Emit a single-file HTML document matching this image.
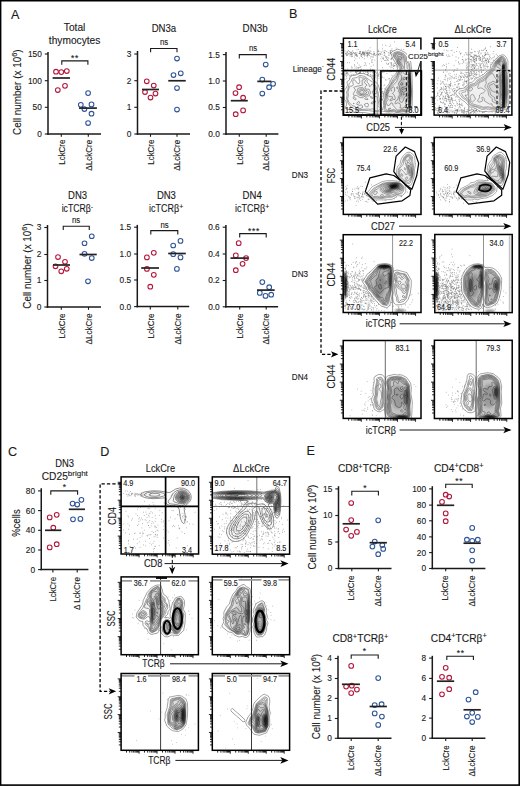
<!DOCTYPE html>
<html><head><meta charset="utf-8"><style>
html,body{margin:0;padding:0;background:#fff;}
svg{display:block;}
text{font-family:"Liberation Sans", sans-serif;stroke:#1a1a1a;stroke-width:0.12px;}
</style></head><body>
<svg width="520" height="786" viewBox="0 0 520 786">
<rect width="520" height="786" fill="#fff"/>
<line x1="48.00" y1="52.00" x2="48.00" y2="134.75" stroke="#1a1a1a" stroke-width="1.5"/>
<line x1="47.25" y1="134.00" x2="101.00" y2="134.00" stroke="#1a1a1a" stroke-width="1.5"/>
<line x1="44.80" y1="134.00" x2="48.00" y2="134.00" stroke="#1a1a1a" stroke-width="1.1"/>
<text x="41.80" y="136.91" font-size="8.3" text-anchor="end" fill="#1a1a1a">0</text>
<line x1="44.80" y1="107.30" x2="48.00" y2="107.30" stroke="#1a1a1a" stroke-width="1.1"/>
<text x="41.80" y="110.20" font-size="8.3" text-anchor="end" fill="#1a1a1a">50</text>
<line x1="44.80" y1="80.70" x2="48.00" y2="80.70" stroke="#1a1a1a" stroke-width="1.1"/>
<text x="41.80" y="83.61" font-size="8.3" text-anchor="end" fill="#1a1a1a">100</text>
<line x1="44.80" y1="54.00" x2="48.00" y2="54.00" stroke="#1a1a1a" stroke-width="1.1"/>
<text x="41.80" y="56.91" font-size="8.3" text-anchor="end" fill="#1a1a1a">150</text>
<text x="74.60" y="31.17" font-size="10.2" text-anchor="middle" fill="#1a1a1a">Total</text>
<text x="74.60" y="44.17" font-size="10.2" text-anchor="middle" fill="#1a1a1a">thymocytes</text>
<path d="M61.80,64.70V60.90H87.90V64.70" fill="none" stroke="#1a1a1a" stroke-width="1.1"/>
<text x="74.95" y="61.26" font-size="8.5" text-anchor="middle" fill="#1a1a1a" letter-spacing="0.7">**</text>
<circle cx="56.00" cy="71.70" r="2.35" fill="none" stroke="#b5173b" stroke-width="1.05"/>
<circle cx="61.30" cy="72.10" r="2.35" fill="none" stroke="#b5173b" stroke-width="1.05"/>
<circle cx="66.80" cy="71.00" r="2.35" fill="none" stroke="#b5173b" stroke-width="1.05"/>
<circle cx="65.00" cy="85.80" r="2.35" fill="none" stroke="#b5173b" stroke-width="1.05"/>
<circle cx="57.80" cy="90.00" r="2.35" fill="none" stroke="#b5173b" stroke-width="1.05"/>
<circle cx="88.10" cy="93.10" r="2.35" fill="none" stroke="#2f5597" stroke-width="1.05"/>
<circle cx="80.80" cy="104.80" r="2.35" fill="none" stroke="#2f5597" stroke-width="1.05"/>
<circle cx="91.50" cy="104.40" r="2.35" fill="none" stroke="#2f5597" stroke-width="1.05"/>
<circle cx="84.40" cy="109.00" r="2.35" fill="none" stroke="#2f5597" stroke-width="1.05"/>
<circle cx="91.50" cy="113.70" r="2.35" fill="none" stroke="#2f5597" stroke-width="1.05"/>
<circle cx="88.10" cy="123.00" r="2.35" fill="none" stroke="#2f5597" stroke-width="1.05"/>
<line x1="52.60" y1="78.00" x2="70.00" y2="78.00" stroke="#222" stroke-width="1.7"/>
<line x1="79.00" y1="108.10" x2="96.90" y2="108.10" stroke="#222" stroke-width="1.7"/>
<line x1="61.30" y1="134.00" x2="61.30" y2="136.80" stroke="#1a1a1a" stroke-width="1.1"/>
<text transform="translate(64.50,139.70) rotate(-90)" font-size="8.8" text-anchor="end" fill="#1a1a1a" textLength="25" lengthAdjust="spacingAndGlyphs">LckCre</text>
<line x1="88.30" y1="134.00" x2="88.30" y2="136.80" stroke="#1a1a1a" stroke-width="1.1"/>
<text transform="translate(91.50,139.70) rotate(-90)" font-size="8.8" text-anchor="end" fill="#1a1a1a" textLength="31" lengthAdjust="spacingAndGlyphs">ΔLckCre</text>
<line x1="137.50" y1="51.00" x2="137.50" y2="134.75" stroke="#1a1a1a" stroke-width="1.5"/>
<line x1="136.75" y1="134.00" x2="190.00" y2="134.00" stroke="#1a1a1a" stroke-width="1.5"/>
<line x1="134.30" y1="134.00" x2="137.50" y2="134.00" stroke="#1a1a1a" stroke-width="1.1"/>
<text x="131.30" y="136.91" font-size="8.3" text-anchor="end" fill="#1a1a1a">0</text>
<line x1="134.30" y1="107.30" x2="137.50" y2="107.30" stroke="#1a1a1a" stroke-width="1.1"/>
<text x="131.30" y="110.20" font-size="8.3" text-anchor="end" fill="#1a1a1a">1</text>
<line x1="134.30" y1="80.70" x2="137.50" y2="80.70" stroke="#1a1a1a" stroke-width="1.1"/>
<text x="131.30" y="83.61" font-size="8.3" text-anchor="end" fill="#1a1a1a">2</text>
<line x1="134.30" y1="54.00" x2="137.50" y2="54.00" stroke="#1a1a1a" stroke-width="1.1"/>
<text x="131.30" y="56.91" font-size="8.3" text-anchor="end" fill="#1a1a1a">3</text>
<text x="163.90" y="31.57" font-size="10.2" text-anchor="middle" fill="#1a1a1a" textLength="24.5" lengthAdjust="spacingAndGlyphs">DN3a</text>
<path d="M150.60,52.30V48.50H177.00V52.30" fill="none" stroke="#1a1a1a" stroke-width="1.1"/>
<text x="164.00" y="45.21" font-size="8.5" text-anchor="middle" fill="#1a1a1a" textLength="8.2" lengthAdjust="spacingAndGlyphs">ns</text>
<circle cx="146.75" cy="81.25" r="2.35" fill="none" stroke="#b5173b" stroke-width="1.05"/>
<circle cx="153.75" cy="85.50" r="2.35" fill="none" stroke="#b5173b" stroke-width="1.05"/>
<circle cx="145.00" cy="92.00" r="2.35" fill="none" stroke="#b5173b" stroke-width="1.05"/>
<circle cx="155.50" cy="93.50" r="2.35" fill="none" stroke="#b5173b" stroke-width="1.05"/>
<circle cx="150.50" cy="97.50" r="2.35" fill="none" stroke="#b5173b" stroke-width="1.05"/>
<circle cx="177.00" cy="58.50" r="2.35" fill="none" stroke="#2f5597" stroke-width="1.05"/>
<circle cx="173.50" cy="75.00" r="2.35" fill="none" stroke="#2f5597" stroke-width="1.05"/>
<circle cx="180.75" cy="73.25" r="2.35" fill="none" stroke="#2f5597" stroke-width="1.05"/>
<circle cx="177.00" cy="88.00" r="2.35" fill="none" stroke="#2f5597" stroke-width="1.05"/>
<circle cx="177.00" cy="109.50" r="2.35" fill="none" stroke="#2f5597" stroke-width="1.05"/>
<line x1="142.00" y1="89.50" x2="159.00" y2="89.50" stroke="#222" stroke-width="1.7"/>
<line x1="168.25" y1="80.75" x2="185.75" y2="80.75" stroke="#222" stroke-width="1.7"/>
<line x1="150.50" y1="134.00" x2="150.50" y2="136.80" stroke="#1a1a1a" stroke-width="1.1"/>
<text transform="translate(153.70,139.70) rotate(-90)" font-size="8.8" text-anchor="end" fill="#1a1a1a" textLength="25" lengthAdjust="spacingAndGlyphs">LckCre</text>
<line x1="177.00" y1="134.00" x2="177.00" y2="136.80" stroke="#1a1a1a" stroke-width="1.1"/>
<text transform="translate(180.20,139.70) rotate(-90)" font-size="8.8" text-anchor="end" fill="#1a1a1a" textLength="31" lengthAdjust="spacingAndGlyphs">ΔLckCre</text>
<line x1="226.00" y1="52.00" x2="226.00" y2="134.75" stroke="#1a1a1a" stroke-width="1.5"/>
<line x1="225.25" y1="134.00" x2="278.40" y2="134.00" stroke="#1a1a1a" stroke-width="1.5"/>
<line x1="222.80" y1="134.00" x2="226.00" y2="134.00" stroke="#1a1a1a" stroke-width="1.1"/>
<text x="219.80" y="136.91" font-size="8.3" text-anchor="end" fill="#1a1a1a">0.0</text>
<line x1="222.80" y1="107.50" x2="226.00" y2="107.50" stroke="#1a1a1a" stroke-width="1.1"/>
<text x="219.80" y="110.41" font-size="8.3" text-anchor="end" fill="#1a1a1a">0.5</text>
<line x1="222.80" y1="81.00" x2="226.00" y2="81.00" stroke="#1a1a1a" stroke-width="1.1"/>
<text x="219.80" y="83.91" font-size="8.3" text-anchor="end" fill="#1a1a1a">1.0</text>
<line x1="222.80" y1="54.60" x2="226.00" y2="54.60" stroke="#1a1a1a" stroke-width="1.1"/>
<text x="219.80" y="57.51" font-size="8.3" text-anchor="end" fill="#1a1a1a">1.5</text>
<text x="255.10" y="31.57" font-size="10.2" text-anchor="middle" fill="#1a1a1a" textLength="25" lengthAdjust="spacingAndGlyphs">DN3b</text>
<path d="M239.30,58.40V54.60H266.20V58.40" fill="none" stroke="#1a1a1a" stroke-width="1.1"/>
<text x="253.00" y="51.41" font-size="8.5" text-anchor="middle" fill="#1a1a1a" textLength="8.2" lengthAdjust="spacingAndGlyphs">ns</text>
<circle cx="239.10" cy="87.20" r="2.35" fill="none" stroke="#b5173b" stroke-width="1.05"/>
<circle cx="235.50" cy="93.10" r="2.35" fill="none" stroke="#b5173b" stroke-width="1.05"/>
<circle cx="243.10" cy="97.70" r="2.35" fill="none" stroke="#b5173b" stroke-width="1.05"/>
<circle cx="243.10" cy="110.40" r="2.35" fill="none" stroke="#b5173b" stroke-width="1.05"/>
<circle cx="235.70" cy="114.20" r="2.35" fill="none" stroke="#b5173b" stroke-width="1.05"/>
<circle cx="265.70" cy="64.50" r="2.35" fill="none" stroke="#2f5597" stroke-width="1.05"/>
<circle cx="262.30" cy="79.50" r="2.35" fill="none" stroke="#2f5597" stroke-width="1.05"/>
<circle cx="273.10" cy="83.80" r="2.35" fill="none" stroke="#2f5597" stroke-width="1.05"/>
<circle cx="269.10" cy="87.20" r="2.35" fill="none" stroke="#2f5597" stroke-width="1.05"/>
<circle cx="262.30" cy="93.50" r="2.35" fill="none" stroke="#2f5597" stroke-width="1.05"/>
<line x1="230.80" y1="100.70" x2="247.80" y2="100.70" stroke="#222" stroke-width="1.7"/>
<line x1="257.30" y1="81.40" x2="271.40" y2="81.40" stroke="#222" stroke-width="1.7"/>
<line x1="239.30" y1="134.00" x2="239.30" y2="136.80" stroke="#1a1a1a" stroke-width="1.1"/>
<text transform="translate(242.50,139.70) rotate(-90)" font-size="8.8" text-anchor="end" fill="#1a1a1a" textLength="25" lengthAdjust="spacingAndGlyphs">LckCre</text>
<line x1="266.20" y1="134.00" x2="266.20" y2="136.80" stroke="#1a1a1a" stroke-width="1.1"/>
<text transform="translate(269.40,139.70) rotate(-90)" font-size="8.8" text-anchor="end" fill="#1a1a1a" textLength="31" lengthAdjust="spacingAndGlyphs">ΔLckCre</text>
<line x1="47.50" y1="225.00" x2="47.50" y2="307.75" stroke="#1a1a1a" stroke-width="1.5"/>
<line x1="46.75" y1="307.00" x2="101.00" y2="307.00" stroke="#1a1a1a" stroke-width="1.5"/>
<line x1="44.30" y1="307.00" x2="47.50" y2="307.00" stroke="#1a1a1a" stroke-width="1.1"/>
<text x="41.30" y="309.90" font-size="8.3" text-anchor="end" fill="#1a1a1a">0</text>
<line x1="44.30" y1="280.50" x2="47.50" y2="280.50" stroke="#1a1a1a" stroke-width="1.1"/>
<text x="41.30" y="283.40" font-size="8.3" text-anchor="end" fill="#1a1a1a">1</text>
<line x1="44.30" y1="254.50" x2="47.50" y2="254.50" stroke="#1a1a1a" stroke-width="1.1"/>
<text x="41.30" y="257.40" font-size="8.3" text-anchor="end" fill="#1a1a1a">2</text>
<line x1="44.30" y1="227.50" x2="47.50" y2="227.50" stroke="#1a1a1a" stroke-width="1.1"/>
<text x="41.30" y="230.41" font-size="8.3" text-anchor="end" fill="#1a1a1a">3</text>
<text x="77.60" y="199.07" font-size="10.2" text-anchor="middle" fill="#1a1a1a" textLength="19" lengthAdjust="spacingAndGlyphs">DN3</text>
<text x="77.40" y="212.17" font-size="10.2" text-anchor="middle" fill="#1a1a1a" textLength="31.5" lengthAdjust="spacingAndGlyphs">icTCRβ<tspan font-size="8" dy="-3.5">-</tspan></text>
<path d="M63.25,230.05V226.25H89.25V230.05" fill="none" stroke="#1a1a1a" stroke-width="1.1"/>
<text x="76.00" y="223.21" font-size="8.5" text-anchor="middle" fill="#1a1a1a" textLength="8.2" lengthAdjust="spacingAndGlyphs">ns</text>
<circle cx="58.00" cy="257.00" r="2.35" fill="none" stroke="#b5173b" stroke-width="1.05"/>
<circle cx="65.00" cy="261.75" r="2.35" fill="none" stroke="#b5173b" stroke-width="1.05"/>
<circle cx="55.50" cy="266.25" r="2.35" fill="none" stroke="#b5173b" stroke-width="1.05"/>
<circle cx="61.25" cy="271.25" r="2.35" fill="none" stroke="#b5173b" stroke-width="1.05"/>
<circle cx="66.75" cy="268.75" r="2.35" fill="none" stroke="#b5173b" stroke-width="1.05"/>
<circle cx="91.75" cy="236.25" r="2.35" fill="none" stroke="#2f5597" stroke-width="1.05"/>
<circle cx="84.50" cy="243.25" r="2.35" fill="none" stroke="#2f5597" stroke-width="1.05"/>
<circle cx="84.50" cy="253.75" r="2.35" fill="none" stroke="#2f5597" stroke-width="1.05"/>
<circle cx="91.75" cy="258.00" r="2.35" fill="none" stroke="#2f5597" stroke-width="1.05"/>
<circle cx="88.00" cy="281.25" r="2.35" fill="none" stroke="#2f5597" stroke-width="1.05"/>
<line x1="53.00" y1="265.00" x2="70.00" y2="265.00" stroke="#222" stroke-width="1.7"/>
<line x1="79.50" y1="254.50" x2="96.75" y2="254.50" stroke="#222" stroke-width="1.7"/>
<line x1="61.30" y1="307.00" x2="61.30" y2="309.80" stroke="#1a1a1a" stroke-width="1.1"/>
<text transform="translate(64.50,313.50) rotate(-90)" font-size="8.8" text-anchor="end" fill="#1a1a1a" textLength="25" lengthAdjust="spacingAndGlyphs">LckCre</text>
<line x1="88.50" y1="307.00" x2="88.50" y2="309.80" stroke="#1a1a1a" stroke-width="1.1"/>
<text transform="translate(91.70,313.50) rotate(-90)" font-size="8.8" text-anchor="end" fill="#1a1a1a" textLength="31" lengthAdjust="spacingAndGlyphs">ΔLckCre</text>
<line x1="137.30" y1="224.90" x2="137.30" y2="307.35" stroke="#1a1a1a" stroke-width="1.5"/>
<line x1="136.55" y1="306.60" x2="189.20" y2="306.60" stroke="#1a1a1a" stroke-width="1.5"/>
<line x1="134.10" y1="306.60" x2="137.30" y2="306.60" stroke="#1a1a1a" stroke-width="1.1"/>
<text x="131.10" y="309.50" font-size="8.3" text-anchor="end" fill="#1a1a1a">0.0</text>
<line x1="134.10" y1="280.00" x2="137.30" y2="280.00" stroke="#1a1a1a" stroke-width="1.1"/>
<text x="131.10" y="282.90" font-size="8.3" text-anchor="end" fill="#1a1a1a">0.5</text>
<line x1="134.10" y1="254.00" x2="137.30" y2="254.00" stroke="#1a1a1a" stroke-width="1.1"/>
<text x="131.10" y="256.90" font-size="8.3" text-anchor="end" fill="#1a1a1a">1.0</text>
<line x1="134.10" y1="227.20" x2="137.30" y2="227.20" stroke="#1a1a1a" stroke-width="1.1"/>
<text x="131.10" y="230.10" font-size="8.3" text-anchor="end" fill="#1a1a1a">1.5</text>
<text x="166.40" y="199.07" font-size="10.2" text-anchor="middle" fill="#1a1a1a" textLength="19" lengthAdjust="spacingAndGlyphs">DN3</text>
<text x="166.20" y="212.17" font-size="10.2" text-anchor="middle" fill="#1a1a1a" textLength="34.2" lengthAdjust="spacingAndGlyphs">icTCRβ<tspan font-size="8" dy="-3.5">+</tspan></text>
<path d="M150.80,234.40V230.60H177.80V234.40" fill="none" stroke="#1a1a1a" stroke-width="1.1"/>
<text x="164.50" y="228.21" font-size="8.5" text-anchor="middle" fill="#1a1a1a" textLength="8.2" lengthAdjust="spacingAndGlyphs">ns</text>
<circle cx="153.80" cy="252.80" r="2.35" fill="none" stroke="#b5173b" stroke-width="1.05"/>
<circle cx="146.90" cy="257.40" r="2.35" fill="none" stroke="#b5173b" stroke-width="1.05"/>
<circle cx="146.90" cy="268.90" r="2.35" fill="none" stroke="#b5173b" stroke-width="1.05"/>
<circle cx="153.80" cy="274.80" r="2.35" fill="none" stroke="#b5173b" stroke-width="1.05"/>
<circle cx="150.30" cy="286.70" r="2.35" fill="none" stroke="#b5173b" stroke-width="1.05"/>
<circle cx="180.50" cy="240.90" r="2.35" fill="none" stroke="#2f5597" stroke-width="1.05"/>
<circle cx="173.20" cy="245.50" r="2.35" fill="none" stroke="#2f5597" stroke-width="1.05"/>
<circle cx="173.20" cy="254.20" r="2.35" fill="none" stroke="#2f5597" stroke-width="1.05"/>
<circle cx="180.50" cy="257.40" r="2.35" fill="none" stroke="#2f5597" stroke-width="1.05"/>
<circle cx="176.90" cy="268.90" r="2.35" fill="none" stroke="#2f5597" stroke-width="1.05"/>
<line x1="141.20" y1="268.00" x2="159.00" y2="268.00" stroke="#222" stroke-width="1.7"/>
<line x1="168.20" y1="253.50" x2="185.80" y2="253.50" stroke="#222" stroke-width="1.7"/>
<line x1="150.30" y1="306.60" x2="150.30" y2="309.40" stroke="#1a1a1a" stroke-width="1.1"/>
<text transform="translate(153.50,313.50) rotate(-90)" font-size="8.8" text-anchor="end" fill="#1a1a1a" textLength="25" lengthAdjust="spacingAndGlyphs">LckCre</text>
<line x1="177.80" y1="306.60" x2="177.80" y2="309.40" stroke="#1a1a1a" stroke-width="1.1"/>
<text transform="translate(181.00,313.50) rotate(-90)" font-size="8.8" text-anchor="end" fill="#1a1a1a" textLength="31" lengthAdjust="spacingAndGlyphs">ΔLckCre</text>
<line x1="225.90" y1="224.90" x2="225.90" y2="307.55" stroke="#1a1a1a" stroke-width="1.5"/>
<line x1="225.15" y1="306.80" x2="278.10" y2="306.80" stroke="#1a1a1a" stroke-width="1.5"/>
<line x1="222.70" y1="306.80" x2="225.90" y2="306.80" stroke="#1a1a1a" stroke-width="1.1"/>
<text x="219.70" y="309.70" font-size="8.3" text-anchor="end" fill="#1a1a1a">0.0</text>
<line x1="222.70" y1="280.50" x2="225.90" y2="280.50" stroke="#1a1a1a" stroke-width="1.1"/>
<text x="219.70" y="283.40" font-size="8.3" text-anchor="end" fill="#1a1a1a">0.2</text>
<line x1="222.70" y1="254.00" x2="225.90" y2="254.00" stroke="#1a1a1a" stroke-width="1.1"/>
<text x="219.70" y="256.90" font-size="8.3" text-anchor="end" fill="#1a1a1a">0.4</text>
<line x1="222.70" y1="227.20" x2="225.90" y2="227.20" stroke="#1a1a1a" stroke-width="1.1"/>
<text x="219.70" y="230.10" font-size="8.3" text-anchor="end" fill="#1a1a1a">0.6</text>
<text x="252.20" y="199.07" font-size="10.2" text-anchor="middle" fill="#1a1a1a" textLength="19.2" lengthAdjust="spacingAndGlyphs">DN4</text>
<text x="252.20" y="212.17" font-size="10.2" text-anchor="middle" fill="#1a1a1a" textLength="34.2" lengthAdjust="spacingAndGlyphs">icTCRβ<tspan font-size="8" dy="-3.5">+</tspan></text>
<path d="M239.70,237.40V233.60H266.20V237.40" fill="none" stroke="#1a1a1a" stroke-width="1.1"/>
<text x="253.95" y="233.96" font-size="8.5" text-anchor="middle" fill="#1a1a1a" letter-spacing="0.7">***</text>
<circle cx="238.70" cy="243.20" r="2.35" fill="none" stroke="#b5173b" stroke-width="1.05"/>
<circle cx="235.80" cy="255.40" r="2.35" fill="none" stroke="#b5173b" stroke-width="1.05"/>
<circle cx="246.10" cy="258.10" r="2.35" fill="none" stroke="#b5173b" stroke-width="1.05"/>
<circle cx="242.60" cy="263.80" r="2.35" fill="none" stroke="#b5173b" stroke-width="1.05"/>
<circle cx="235.80" cy="270.20" r="2.35" fill="none" stroke="#b5173b" stroke-width="1.05"/>
<circle cx="262.30" cy="282.10" r="2.35" fill="none" stroke="#2f5597" stroke-width="1.05"/>
<circle cx="269.20" cy="287.20" r="2.35" fill="none" stroke="#2f5597" stroke-width="1.05"/>
<circle cx="259.80" cy="292.90" r="2.35" fill="none" stroke="#2f5597" stroke-width="1.05"/>
<circle cx="265.50" cy="295.90" r="2.35" fill="none" stroke="#2f5597" stroke-width="1.05"/>
<circle cx="271.20" cy="294.70" r="2.35" fill="none" stroke="#2f5597" stroke-width="1.05"/>
<line x1="230.50" y1="258.10" x2="248.40" y2="258.10" stroke="#222" stroke-width="1.7"/>
<line x1="257.00" y1="290.10" x2="274.70" y2="290.10" stroke="#222" stroke-width="1.7"/>
<line x1="239.70" y1="306.80" x2="239.70" y2="309.60" stroke="#1a1a1a" stroke-width="1.1"/>
<text transform="translate(242.90,313.50) rotate(-90)" font-size="8.8" text-anchor="end" fill="#1a1a1a" textLength="25" lengthAdjust="spacingAndGlyphs">LckCre</text>
<line x1="266.20" y1="306.80" x2="266.20" y2="309.60" stroke="#1a1a1a" stroke-width="1.1"/>
<text transform="translate(269.40,313.50) rotate(-90)" font-size="8.8" text-anchor="end" fill="#1a1a1a" textLength="31" lengthAdjust="spacingAndGlyphs">ΔLckCre</text>
<line x1="41.25" y1="488.20" x2="41.25" y2="570.35" stroke="#1a1a1a" stroke-width="1.5"/>
<line x1="40.50" y1="569.60" x2="88.40" y2="569.60" stroke="#1a1a1a" stroke-width="1.5"/>
<line x1="38.05" y1="569.60" x2="41.25" y2="569.60" stroke="#1a1a1a" stroke-width="1.1"/>
<text x="35.05" y="572.50" font-size="8.3" text-anchor="end" fill="#1a1a1a">0</text>
<line x1="38.05" y1="550.00" x2="41.25" y2="550.00" stroke="#1a1a1a" stroke-width="1.1"/>
<text x="35.05" y="552.90" font-size="8.3" text-anchor="end" fill="#1a1a1a">20</text>
<line x1="38.05" y1="530.30" x2="41.25" y2="530.30" stroke="#1a1a1a" stroke-width="1.1"/>
<text x="35.05" y="533.20" font-size="8.3" text-anchor="end" fill="#1a1a1a">40</text>
<line x1="38.05" y1="510.60" x2="41.25" y2="510.60" stroke="#1a1a1a" stroke-width="1.1"/>
<text x="35.05" y="513.50" font-size="8.3" text-anchor="end" fill="#1a1a1a">60</text>
<line x1="38.05" y1="490.90" x2="41.25" y2="490.90" stroke="#1a1a1a" stroke-width="1.1"/>
<text x="35.05" y="493.80" font-size="8.3" text-anchor="end" fill="#1a1a1a">80</text>
<text x="64.70" y="467.37" font-size="10.2" text-anchor="middle" fill="#1a1a1a" textLength="18.8" lengthAdjust="spacingAndGlyphs">DN3</text>
<text x="64.80" y="479.87" font-size="10.2" text-anchor="middle" fill="#1a1a1a">CD25<tspan font-size="8" dy="-3.8">bright</tspan></text>
<path d="M50.80,494.70V490.90H77.60V494.70" fill="none" stroke="#1a1a1a" stroke-width="1.1"/>
<text x="64.75" y="490.26" font-size="8.5" text-anchor="middle" fill="#1a1a1a" letter-spacing="0.7">*</text>
<circle cx="56.70" cy="514.80" r="2.35" fill="none" stroke="#b5173b" stroke-width="1.05"/>
<circle cx="49.70" cy="517.40" r="2.35" fill="none" stroke="#b5173b" stroke-width="1.05"/>
<circle cx="53.30" cy="527.70" r="2.35" fill="none" stroke="#b5173b" stroke-width="1.05"/>
<circle cx="56.70" cy="544.20" r="2.35" fill="none" stroke="#b5173b" stroke-width="1.05"/>
<circle cx="49.70" cy="547.40" r="2.35" fill="none" stroke="#b5173b" stroke-width="1.05"/>
<circle cx="81.40" cy="499.80" r="2.35" fill="none" stroke="#2f5597" stroke-width="1.05"/>
<circle cx="72.60" cy="503.60" r="2.35" fill="none" stroke="#2f5597" stroke-width="1.05"/>
<circle cx="77.20" cy="504.50" r="2.35" fill="none" stroke="#2f5597" stroke-width="1.05"/>
<circle cx="73.00" cy="519.30" r="2.35" fill="none" stroke="#2f5597" stroke-width="1.05"/>
<circle cx="80.40" cy="518.90" r="2.35" fill="none" stroke="#2f5597" stroke-width="1.05"/>
<line x1="45.00" y1="530.30" x2="61.30" y2="530.30" stroke="#222" stroke-width="1.7"/>
<line x1="68.80" y1="509.30" x2="85.00" y2="509.30" stroke="#222" stroke-width="1.7"/>
<line x1="52.90" y1="569.60" x2="52.90" y2="572.40" stroke="#1a1a1a" stroke-width="1.1"/>
<text transform="translate(56.10,577.00) rotate(-90)" font-size="8.8" text-anchor="end" fill="#1a1a1a" textLength="24.5" lengthAdjust="spacingAndGlyphs">LckCre</text>
<line x1="77.20" y1="569.60" x2="77.20" y2="572.40" stroke="#1a1a1a" stroke-width="1.1"/>
<text transform="translate(80.40,577.00) rotate(-90)" font-size="8.8" text-anchor="end" fill="#1a1a1a" textLength="33" lengthAdjust="spacingAndGlyphs">Δ LckCre</text>
<line x1="338.50" y1="486.20" x2="338.50" y2="569.25" stroke="#1a1a1a" stroke-width="1.5"/>
<line x1="337.75" y1="568.50" x2="391.50" y2="568.50" stroke="#1a1a1a" stroke-width="1.5"/>
<line x1="335.30" y1="568.50" x2="338.50" y2="568.50" stroke="#1a1a1a" stroke-width="1.1"/>
<text x="332.30" y="571.40" font-size="8.3" text-anchor="end" fill="#1a1a1a">0</text>
<line x1="335.30" y1="542.00" x2="338.50" y2="542.00" stroke="#1a1a1a" stroke-width="1.1"/>
<text x="332.30" y="544.90" font-size="8.3" text-anchor="end" fill="#1a1a1a">5</text>
<line x1="335.30" y1="515.50" x2="338.50" y2="515.50" stroke="#1a1a1a" stroke-width="1.1"/>
<text x="332.30" y="518.40" font-size="8.3" text-anchor="end" fill="#1a1a1a">10</text>
<line x1="335.30" y1="488.90" x2="338.50" y2="488.90" stroke="#1a1a1a" stroke-width="1.1"/>
<text x="332.30" y="491.80" font-size="8.3" text-anchor="end" fill="#1a1a1a">15</text>
<text x="365.00" y="472.37" font-size="10.2" text-anchor="middle" fill="#1a1a1a">CD8<tspan font-size="7.5" dy="-3.3">+</tspan><tspan dy="3.3">TCRβ</tspan><tspan font-size="7.5" dy="-3.3">-</tspan></text>
<path d="M351.80,495.40V491.20H378.40V495.40" fill="none" stroke="#1a1a1a" stroke-width="1.1"/>
<text x="365.35" y="491.26" font-size="8.5" text-anchor="middle" fill="#1a1a1a" letter-spacing="0.7">*</text>
<circle cx="351.20" cy="503.00" r="2.35" fill="none" stroke="#b5173b" stroke-width="1.05"/>
<circle cx="351.20" cy="520.10" r="2.35" fill="none" stroke="#b5173b" stroke-width="1.05"/>
<circle cx="346.10" cy="529.50" r="2.35" fill="none" stroke="#b5173b" stroke-width="1.05"/>
<circle cx="356.90" cy="531.90" r="2.35" fill="none" stroke="#b5173b" stroke-width="1.05"/>
<circle cx="351.20" cy="535.80" r="2.35" fill="none" stroke="#b5173b" stroke-width="1.05"/>
<circle cx="378.20" cy="520.30" r="2.35" fill="none" stroke="#2f5597" stroke-width="1.05"/>
<circle cx="374.70" cy="541.50" r="2.35" fill="none" stroke="#2f5597" stroke-width="1.05"/>
<circle cx="382.30" cy="545.00" r="2.35" fill="none" stroke="#2f5597" stroke-width="1.05"/>
<circle cx="372.40" cy="546.60" r="2.35" fill="none" stroke="#2f5597" stroke-width="1.05"/>
<circle cx="383.20" cy="548.90" r="2.35" fill="none" stroke="#2f5597" stroke-width="1.05"/>
<circle cx="378.20" cy="554.20" r="2.35" fill="none" stroke="#2f5597" stroke-width="1.05"/>
<line x1="342.60" y1="523.80" x2="359.90" y2="523.80" stroke="#222" stroke-width="1.7"/>
<line x1="369.60" y1="542.70" x2="386.90" y2="542.70" stroke="#222" stroke-width="1.7"/>
<line x1="351.80" y1="568.50" x2="351.80" y2="571.30" stroke="#1a1a1a" stroke-width="1.1"/>
<text transform="translate(354.30,575.50) rotate(-90)" font-size="8.8" text-anchor="end" fill="#1a1a1a" textLength="25" lengthAdjust="spacingAndGlyphs">LckCre</text>
<line x1="378.40" y1="568.50" x2="378.40" y2="571.30" stroke="#1a1a1a" stroke-width="1.1"/>
<text transform="translate(380.90,575.50) rotate(-90)" font-size="8.8" text-anchor="end" fill="#1a1a1a" textLength="31" lengthAdjust="spacingAndGlyphs">ΔLckCre</text>
<line x1="432.30" y1="486.20" x2="432.30" y2="569.25" stroke="#1a1a1a" stroke-width="1.5"/>
<line x1="431.55" y1="568.50" x2="485.40" y2="568.50" stroke="#1a1a1a" stroke-width="1.5"/>
<line x1="429.10" y1="568.50" x2="432.30" y2="568.50" stroke="#1a1a1a" stroke-width="1.1"/>
<text x="426.10" y="571.40" font-size="8.3" text-anchor="end" fill="#1a1a1a">0</text>
<line x1="429.10" y1="552.60" x2="432.30" y2="552.60" stroke="#1a1a1a" stroke-width="1.1"/>
<text x="426.10" y="555.50" font-size="8.3" text-anchor="end" fill="#1a1a1a">20</text>
<line x1="429.10" y1="536.90" x2="432.30" y2="536.90" stroke="#1a1a1a" stroke-width="1.1"/>
<text x="426.10" y="539.80" font-size="8.3" text-anchor="end" fill="#1a1a1a">40</text>
<line x1="429.10" y1="520.80" x2="432.30" y2="520.80" stroke="#1a1a1a" stroke-width="1.1"/>
<text x="426.10" y="523.70" font-size="8.3" text-anchor="end" fill="#1a1a1a">60</text>
<line x1="429.10" y1="505.10" x2="432.30" y2="505.10" stroke="#1a1a1a" stroke-width="1.1"/>
<text x="426.10" y="508.00" font-size="8.3" text-anchor="end" fill="#1a1a1a">80</text>
<line x1="429.10" y1="488.90" x2="432.30" y2="488.90" stroke="#1a1a1a" stroke-width="1.1"/>
<text x="426.10" y="491.80" font-size="8.3" text-anchor="end" fill="#1a1a1a">100</text>
<text x="458.80" y="471.77" font-size="10.2" text-anchor="middle" fill="#1a1a1a">CD4<tspan font-size="7.5" dy="-3.3">+</tspan><tspan dy="3.3">CD8</tspan><tspan font-size="7.5" dy="-3.3">+</tspan></text>
<path d="M445.70,488.10V484.30H472.20V488.10" fill="none" stroke="#1a1a1a" stroke-width="1.1"/>
<text x="459.15" y="484.36" font-size="8.5" text-anchor="middle" fill="#1a1a1a" letter-spacing="0.7">**</text>
<circle cx="445.70" cy="494.70" r="2.35" fill="none" stroke="#b5173b" stroke-width="1.05"/>
<circle cx="449.20" cy="496.50" r="2.35" fill="none" stroke="#b5173b" stroke-width="1.05"/>
<circle cx="442.00" cy="501.90" r="2.35" fill="none" stroke="#b5173b" stroke-width="1.05"/>
<circle cx="445.70" cy="513.40" r="2.35" fill="none" stroke="#b5173b" stroke-width="1.05"/>
<circle cx="445.70" cy="521.20" r="2.35" fill="none" stroke="#b5173b" stroke-width="1.05"/>
<circle cx="472.20" cy="527.90" r="2.35" fill="none" stroke="#2f5597" stroke-width="1.05"/>
<circle cx="466.90" cy="539.70" r="2.35" fill="none" stroke="#2f5597" stroke-width="1.05"/>
<circle cx="472.20" cy="540.90" r="2.35" fill="none" stroke="#2f5597" stroke-width="1.05"/>
<circle cx="477.80" cy="539.70" r="2.35" fill="none" stroke="#2f5597" stroke-width="1.05"/>
<circle cx="472.20" cy="550.30" r="2.35" fill="none" stroke="#2f5597" stroke-width="1.05"/>
<circle cx="472.20" cy="560.50" r="2.35" fill="none" stroke="#2f5597" stroke-width="1.05"/>
<line x1="436.90" y1="505.30" x2="454.20" y2="505.30" stroke="#222" stroke-width="1.7"/>
<line x1="463.50" y1="543.20" x2="480.80" y2="543.20" stroke="#222" stroke-width="1.7"/>
<line x1="445.70" y1="568.50" x2="445.70" y2="571.30" stroke="#1a1a1a" stroke-width="1.1"/>
<text transform="translate(448.20,575.50) rotate(-90)" font-size="8.8" text-anchor="end" fill="#1a1a1a" textLength="25" lengthAdjust="spacingAndGlyphs">LckCre</text>
<line x1="472.20" y1="568.50" x2="472.20" y2="571.30" stroke="#1a1a1a" stroke-width="1.1"/>
<text transform="translate(474.70,575.50) rotate(-90)" font-size="8.8" text-anchor="end" fill="#1a1a1a" textLength="31" lengthAdjust="spacingAndGlyphs">ΔLckCre</text>
<line x1="338.00" y1="655.70" x2="338.00" y2="739.05" stroke="#1a1a1a" stroke-width="1.5"/>
<line x1="337.25" y1="738.30" x2="391.50" y2="738.30" stroke="#1a1a1a" stroke-width="1.5"/>
<line x1="334.80" y1="738.30" x2="338.00" y2="738.30" stroke="#1a1a1a" stroke-width="1.1"/>
<text x="331.80" y="741.20" font-size="8.3" text-anchor="end" fill="#1a1a1a">0</text>
<line x1="334.80" y1="718.50" x2="338.00" y2="718.50" stroke="#1a1a1a" stroke-width="1.1"/>
<text x="331.80" y="721.40" font-size="8.3" text-anchor="end" fill="#1a1a1a">1</text>
<line x1="334.80" y1="698.40" x2="338.00" y2="698.40" stroke="#1a1a1a" stroke-width="1.1"/>
<text x="331.80" y="701.30" font-size="8.3" text-anchor="end" fill="#1a1a1a">2</text>
<line x1="334.80" y1="678.50" x2="338.00" y2="678.50" stroke="#1a1a1a" stroke-width="1.1"/>
<text x="331.80" y="681.40" font-size="8.3" text-anchor="end" fill="#1a1a1a">3</text>
<line x1="334.80" y1="658.50" x2="338.00" y2="658.50" stroke="#1a1a1a" stroke-width="1.1"/>
<text x="331.80" y="661.40" font-size="8.3" text-anchor="end" fill="#1a1a1a">4</text>
<text x="360.40" y="641.97" font-size="10.2" text-anchor="middle" fill="#1a1a1a">CD8<tspan font-size="7.5" dy="-3.3">+</tspan><tspan dy="3.3">TCRβ</tspan><tspan font-size="7.5" dy="-3.3">+</tspan></text>
<path d="M351.20,658.80V655.00H378.20V658.80" fill="none" stroke="#1a1a1a" stroke-width="1.1"/>
<text x="364.65" y="654.36" font-size="8.5" text-anchor="middle" fill="#1a1a1a" letter-spacing="0.7">*</text>
<circle cx="351.20" cy="665.90" r="2.35" fill="none" stroke="#b5173b" stroke-width="1.05"/>
<circle cx="346.10" cy="686.60" r="2.35" fill="none" stroke="#b5173b" stroke-width="1.05"/>
<circle cx="351.80" cy="685.70" r="2.35" fill="none" stroke="#b5173b" stroke-width="1.05"/>
<circle cx="356.90" cy="689.60" r="2.35" fill="none" stroke="#b5173b" stroke-width="1.05"/>
<circle cx="351.20" cy="693.10" r="2.35" fill="none" stroke="#b5173b" stroke-width="1.05"/>
<circle cx="378.20" cy="678.10" r="2.35" fill="none" stroke="#2f5597" stroke-width="1.05"/>
<circle cx="374.70" cy="705.10" r="2.35" fill="none" stroke="#2f5597" stroke-width="1.05"/>
<circle cx="381.60" cy="704.20" r="2.35" fill="none" stroke="#2f5597" stroke-width="1.05"/>
<circle cx="374.70" cy="713.40" r="2.35" fill="none" stroke="#2f5597" stroke-width="1.05"/>
<circle cx="381.90" cy="716.60" r="2.35" fill="none" stroke="#2f5597" stroke-width="1.05"/>
<circle cx="378.20" cy="724.90" r="2.35" fill="none" stroke="#2f5597" stroke-width="1.05"/>
<line x1="341.90" y1="684.30" x2="359.90" y2="684.30" stroke="#222" stroke-width="1.7"/>
<line x1="369.60" y1="706.50" x2="386.90" y2="706.50" stroke="#222" stroke-width="1.7"/>
<line x1="351.20" y1="738.30" x2="351.20" y2="741.10" stroke="#1a1a1a" stroke-width="1.1"/>
<text transform="translate(354.40,745.30) rotate(-90)" font-size="8.8" text-anchor="end" fill="#1a1a1a" textLength="25" lengthAdjust="spacingAndGlyphs">LckCre</text>
<line x1="378.20" y1="738.30" x2="378.20" y2="741.10" stroke="#1a1a1a" stroke-width="1.1"/>
<text transform="translate(381.40,745.30) rotate(-90)" font-size="8.8" text-anchor="end" fill="#1a1a1a" textLength="31" lengthAdjust="spacingAndGlyphs">ΔLckCre</text>
<line x1="432.30" y1="655.80" x2="432.30" y2="738.95" stroke="#1a1a1a" stroke-width="1.5"/>
<line x1="431.55" y1="738.20" x2="485.40" y2="738.20" stroke="#1a1a1a" stroke-width="1.5"/>
<line x1="429.10" y1="738.20" x2="432.30" y2="738.20" stroke="#1a1a1a" stroke-width="1.1"/>
<text x="426.10" y="741.11" font-size="8.3" text-anchor="end" fill="#1a1a1a">0</text>
<line x1="429.10" y1="718.10" x2="432.30" y2="718.10" stroke="#1a1a1a" stroke-width="1.1"/>
<text x="426.10" y="721.00" font-size="8.3" text-anchor="end" fill="#1a1a1a">2</text>
<line x1="429.10" y1="698.50" x2="432.30" y2="698.50" stroke="#1a1a1a" stroke-width="1.1"/>
<text x="426.10" y="701.40" font-size="8.3" text-anchor="end" fill="#1a1a1a">4</text>
<line x1="429.10" y1="678.40" x2="432.30" y2="678.40" stroke="#1a1a1a" stroke-width="1.1"/>
<text x="426.10" y="681.30" font-size="8.3" text-anchor="end" fill="#1a1a1a">6</text>
<line x1="429.10" y1="658.10" x2="432.30" y2="658.10" stroke="#1a1a1a" stroke-width="1.1"/>
<text x="426.10" y="661.00" font-size="8.3" text-anchor="end" fill="#1a1a1a">8</text>
<text x="458.80" y="641.57" font-size="10.2" text-anchor="middle" fill="#1a1a1a">CD4<tspan font-size="7.5" dy="-3.3">+</tspan><tspan dy="3.3">TCRβ</tspan><tspan font-size="7.5" dy="-3.3">+</tspan></text>
<path d="M446.80,660.00V656.20H473.40V660.00" fill="none" stroke="#1a1a1a" stroke-width="1.1"/>
<text x="460.85" y="656.26" font-size="8.5" text-anchor="middle" fill="#1a1a1a" letter-spacing="0.7">**</text>
<circle cx="445.70" cy="667.80" r="2.35" fill="none" stroke="#b5173b" stroke-width="1.05"/>
<circle cx="442.00" cy="676.80" r="2.35" fill="none" stroke="#b5173b" stroke-width="1.05"/>
<circle cx="449.20" cy="677.70" r="2.35" fill="none" stroke="#b5173b" stroke-width="1.05"/>
<circle cx="449.20" cy="689.20" r="2.35" fill="none" stroke="#b5173b" stroke-width="1.05"/>
<circle cx="442.00" cy="694.30" r="2.35" fill="none" stroke="#b5173b" stroke-width="1.05"/>
<circle cx="475.70" cy="692.20" r="2.35" fill="none" stroke="#2f5597" stroke-width="1.05"/>
<circle cx="468.50" cy="699.60" r="2.35" fill="none" stroke="#2f5597" stroke-width="1.05"/>
<circle cx="472.20" cy="712.80" r="2.35" fill="none" stroke="#2f5597" stroke-width="1.05"/>
<circle cx="466.90" cy="716.50" r="2.35" fill="none" stroke="#2f5597" stroke-width="1.05"/>
<circle cx="477.80" cy="716.90" r="2.35" fill="none" stroke="#2f5597" stroke-width="1.05"/>
<circle cx="472.20" cy="722.00" r="2.35" fill="none" stroke="#2f5597" stroke-width="1.05"/>
<line x1="436.90" y1="681.20" x2="454.20" y2="681.20" stroke="#222" stroke-width="1.7"/>
<line x1="463.50" y1="709.80" x2="480.80" y2="709.80" stroke="#222" stroke-width="1.7"/>
<line x1="445.70" y1="738.20" x2="445.70" y2="741.00" stroke="#1a1a1a" stroke-width="1.1"/>
<text transform="translate(448.90,745.40) rotate(-90)" font-size="8.8" text-anchor="end" fill="#1a1a1a" textLength="25" lengthAdjust="spacingAndGlyphs">LckCre</text>
<line x1="472.20" y1="738.20" x2="472.20" y2="741.00" stroke="#1a1a1a" stroke-width="1.1"/>
<text transform="translate(475.40,745.40) rotate(-90)" font-size="8.8" text-anchor="end" fill="#1a1a1a" textLength="31" lengthAdjust="spacingAndGlyphs">ΔLckCre</text>
<text transform="translate(20.77,92.20) rotate(-90)" font-size="10.2" text-anchor="middle" fill="#1a1a1a" textLength="85.5" lengthAdjust="spacingAndGlyphs">Cell number (x 10<tspan font-size="7.6" dy="-3.6">6</tspan><tspan dy="3.6">)</tspan></text>
<text transform="translate(30.67,266.00) rotate(-90)" font-size="10.2" text-anchor="middle" fill="#1a1a1a" textLength="85.5" lengthAdjust="spacingAndGlyphs">Cell number (x 10<tspan font-size="7.6" dy="-3.6">6</tspan><tspan dy="3.6">)</tspan></text>
<text transform="translate(315.57,527.10) rotate(-90)" font-size="10.2" text-anchor="middle" fill="#1a1a1a" textLength="85" lengthAdjust="spacingAndGlyphs">Cell number (x 10<tspan font-size="7.6" dy="-3.6">6</tspan><tspan dy="3.6">)</tspan></text>
<text transform="translate(320.07,696.60) rotate(-90)" font-size="10.2" text-anchor="middle" fill="#1a1a1a" textLength="85.5" lengthAdjust="spacingAndGlyphs">Cell number (x 10<tspan font-size="7.6" dy="-3.6">6</tspan><tspan dy="3.6">)</tspan></text>
<text transform="translate(19.50,523.10) rotate(-90)" font-size="10.2" text-anchor="middle" fill="#1a1a1a" textLength="27.5" lengthAdjust="spacingAndGlyphs">%cells</text>
<text x="15.10" y="18.55" font-size="12.6" text-anchor="middle" fill="#1a1a1a">A</text>
<text x="293.20" y="18.35" font-size="12.6" text-anchor="middle" fill="#1a1a1a">B</text>
<text x="12.50" y="455.85" font-size="12.6" text-anchor="middle" fill="#1a1a1a">C</text>
<text x="104.70" y="455.85" font-size="12.6" text-anchor="middle" fill="#1a1a1a">D</text>
<text x="310.80" y="455.45" font-size="12.6" text-anchor="middle" fill="#1a1a1a">E</text>
<rect x="0.6" y="0.7" width="518.6" height="784.4" fill="none" stroke="#000" stroke-width="1.6"/>
<defs><filter id="bl1" x="-50%" y="-50%" width="200%" height="200%"><feGaussianBlur stdDeviation="0.8"/></filter><filter id="bl2" x="-50%" y="-50%" width="200%" height="200%"><feGaussianBlur stdDeviation="1.5"/></filter></defs>
<text x="382.40" y="32.77" font-size="10.2" text-anchor="middle" fill="#1a1a1a" textLength="29" lengthAdjust="spacingAndGlyphs">LckCre</text>
<text x="472.80" y="32.77" font-size="10.2" text-anchor="middle" fill="#1a1a1a" textLength="36.6" lengthAdjust="spacingAndGlyphs">ΔLckCre</text>
<path d="M354.1,60.5h0.7M357.0,71.4h0.7M362.5,52.9h0.7M351.3,70.8h0.7M381.7,103.6h0.7M388.4,58.1h0.7M382.6,102.0h0.7M388.1,64.0h0.7M347.6,73.1h0.7M383.1,105.5h0.7M386.4,51.5h0.7M389.6,66.4h0.7M386.2,108.3h0.7M349.8,54.6h0.7M383.7,85.6h0.7M369.8,47.8h0.7M389.3,108.9h0.7M382.0,45.1h0.7M387.0,87.7h0.7M344.5,75.1h0.7M378.3,73.9h0.7M385.5,111.8h0.7M351.7,56.4h0.7M401.0,49.2h0.7M387.4,59.3h0.7M373.3,54.9h0.7M387.5,59.8h0.7M370.6,56.4h0.7M358.6,75.6h0.7M393.2,78.5h0.7M382.5,91.3h0.7M389.9,97.2h0.7M380.2,95.5h0.7M386.6,73.4h0.7M362.0,74.3h0.7M377.8,54.5h0.7M349.4,78.5h0.7M356.6,52.7h0.7M384.4,52.4h0.7M409.5,103.5h0.7M344.8,70.0h0.7M371.1,62.1h0.7M361.5,74.4h0.7M371.3,102.3h0.7M380.3,89.3h0.7M356.3,55.0h0.7M358.0,67.7h0.7M382.0,67.7h0.7M386.1,58.8h0.7M398.7,64.2h0.7M402.9,56.3h0.7M370.4,58.1h0.7M355.8,53.8h0.7M385.3,60.3h0.7M394.7,87.0h0.7M351.6,55.3h0.7M380.5,58.9h0.7M362.1,75.9h0.7M386.6,97.3h0.7M367.2,53.5h0.7M374.1,100.1h0.7M381.6,92.8h0.7M358.3,73.4h0.7M357.5,67.6h0.7M346.8,55.5h0.7M378.7,101.4h0.7M385.6,80.2h0.7M369.6,70.6h0.7M359.0,72.3h0.7M362.7,71.0h0.7M389.5,71.8h0.7M361.7,75.5h0.7M362.2,57.6h0.7M385.4,106.0h0.7M344.7,79.3h0.7M390.3,95.4h0.7M350.5,75.7h0.7M385.5,112.3h0.7M360.3,55.0h0.7M373.6,109.4h0.7M363.0,72.9h0.7M396.4,92.5h0.7M358.2,77.7h0.7M392.9,65.2h0.7M393.9,101.4h0.7M391.6,48.8h0.7M383.7,55.7h0.7M373.9,111.0h0.7M371.6,88.1h0.7M345.0,70.0h0.7M351.6,68.9h0.7M387.1,102.2h0.7M379.9,74.1h0.7M386.6,101.6h0.7M363.9,58.7h0.7M381.1,52.2h0.7M358.6,82.7h0.7M351.8,67.4h0.7M351.1,77.3h0.7M379.3,72.1h0.7M396.7,98.5h0.7M401.6,58.7h0.7M390.8,63.0h0.7M383.5,108.5h0.7M355.6,71.3h0.7M354.8,74.9h0.7M375.2,72.0h0.7M369.7,84.3h0.7M384.5,53.8h0.7M366.4,53.8h0.7M367.3,54.0h0.7M351.7,79.2h0.7M384.3,88.8h0.7M371.2,60.1h0.7M366.4,55.9h0.7M389.5,46.5h0.7M370.3,74.5h0.7M356.3,72.6h0.7M349.6,56.0h0.7M353.6,70.0h0.7M393.7,100.5h0.7M378.6,78.3h0.7M370.3,70.1h0.7M361.9,75.6h0.7M351.4,56.2h0.7M397.1,70.5h0.7M372.8,73.0h0.7M368.2,54.5h0.7M358.2,77.1h0.7M390.8,58.5h0.7M373.5,70.8h0.7M361.6,54.3h0.7M360.9,54.4h0.7M352.0,70.8h0.7M351.2,52.7h0.7M359.4,53.4h0.7M384.3,55.2h0.7M375.2,77.0h0.7M359.6,73.5h0.7M369.5,110.0h0.7M365.2,104.5h0.7M403.9,73.5h0.7M360.2,67.2h0.7M389.9,51.6h0.7M353.1,103.7h0.7M346.3,55.0h0.7M344.7,51.0h0.7M389.8,50.7h0.7M358.6,73.6h0.7M393.1,68.6h0.7M368.8,77.2h0.7M395.6,50.6h0.7M360.8,56.4h0.7M366.8,75.0h0.7M386.1,91.8h0.7M355.2,53.8h0.7M363.5,79.8h0.7M360.4,53.1h0.7M347.0,52.3h0.7M366.0,53.4h0.7M379.8,101.1h0.7M379.5,106.1h0.7M379.3,91.3h0.7M392.4,57.8h0.7M365.2,63.9h0.7M392.6,96.0h0.7M358.2,76.7h0.7M355.1,72.6h0.7M376.9,75.7h0.7M392.0,83.5h0.7M395.4,106.8h0.7M386.2,56.7h0.7M348.5,74.6h0.7M366.1,75.2h0.7M365.7,52.7h0.7M411.0,100.6h0.7M354.5,75.1h0.7M391.5,85.6h0.7M392.6,81.9h0.7M357.1,76.3h0.7M368.5,55.0h0.7M363.9,74.0h0.7M376.0,73.2h0.7M356.6,54.9h0.7M375.1,74.9h0.7M345.4,53.9h0.7M363.7,54.4h0.7M399.9,52.6h0.7M384.1,93.2h0.7M369.8,72.1h0.7M358.2,68.1h0.7M351.3,54.5h0.7M356.5,56.0h0.7M391.1,89.0h0.7M346.4,52.0h0.7M362.1,53.6h0.7M364.9,51.0h0.7M388.7,53.0h0.7M359.2,53.3h0.7M381.6,77.0h0.7M359.7,52.6h0.7M382.9,70.0h0.7M379.8,100.9h0.7M386.5,104.3h0.7M388.3,55.2h0.7M362.0,52.9h0.7M382.4,72.3h0.7M376.4,92.6h0.7M358.9,58.0h0.7M364.1,54.9h0.7M363.3,70.2h0.7M359.3,73.6h0.7M372.7,57.6h0.7M364.8,78.0h0.7M391.2,50.3h0.7M394.4,60.1h0.7M355.3,80.3h0.7M391.9,50.9h0.7M345.8,54.0h0.7M346.3,76.7h0.7M352.5,53.4h0.7M393.7,63.5h0.7M381.8,88.8h0.7M368.9,53.1h0.7M384.5,84.9h0.7M348.6,53.5h0.7M345.8,73.8h0.7M381.9,77.1h0.7M381.8,96.6h0.7M363.1,54.7h0.7M356.8,71.5h0.7M390.5,67.8h0.7M353.1,78.9h0.7M385.0,50.7h0.7M356.8,80.0h0.7M381.7,54.4h0.7M363.5,54.6h0.7M394.4,59.3h0.7M386.2,96.9h0.7M362.9,52.8h0.7M375.2,71.8h0.7M369.2,63.8h0.7M350.7,76.8h0.7M380.4,82.3h0.7M382.5,58.3h0.7M371.7,56.8h0.7M378.1,54.5h0.7M361.3,69.3h0.7M358.4,70.9h0.7M376.3,54.7h0.7M358.6,73.9h0.7M367.3,108.0h0.7M379.4,74.1h0.7M384.1,60.5h0.7M389.4,80.1h0.7M374.9,108.3h0.7M354.1,53.7h0.7M349.1,62.7h0.7M378.2,75.7h0.7M377.4,110.3h0.7M389.1,78.4h0.7M351.9,76.4h0.7M353.3,52.4h0.7M390.2,53.4h0.7M346.4,78.4h0.7M379.9,102.7h0.7M384.1,104.4h0.7M390.9,95.6h0.7M391.7,67.3h0.7M370.6,51.3h0.7M366.8,71.6h0.7M348.0,53.9h0.7M364.8,108.4h0.7M371.9,62.3h0.7M366.9,50.9h0.7M360.1,72.2h0.7M379.8,53.9h0.7M345.6,75.7h0.7M385.8,57.8h0.7M391.3,59.1h0.7M399.8,95.5h0.7M391.6,65.9h0.7M393.2,59.7h0.7M372.0,76.1h0.7M389.7,62.8h0.7M356.6,73.4h0.7M348.7,51.3h0.7M370.5,106.0h0.7M377.8,74.8h0.7M394.7,53.9h0.7M373.0,71.7h0.7M365.7,65.4h0.7M353.5,52.7h0.7M390.2,52.7h0.7M388.9,55.1h0.7M369.9,77.1h0.7M372.2,69.7h0.7M382.6,95.9h0.7M365.3,76.7h0.7M363.9,65.4h0.7M396.5,52.8h0.7M350.7,53.3h0.7M346.0,73.3h0.7M394.7,65.8h0.7M386.5,60.6h0.7M346.5,55.6h0.7M361.6,54.7h0.7M389.0,100.6h0.7M365.4,71.8h0.7M387.9,52.6h0.7M363.1,52.6h0.7M375.1,55.6h0.7M387.7,91.9h0.7M367.9,73.7h0.7M347.9,50.5h0.7M369.1,113.1h0.7M382.1,48.8h0.7M387.9,78.8h0.7M362.5,78.0h0.7M371.8,75.0h0.7M371.9,101.0h0.7M361.3,95.9h0.7M372.8,56.1h0.7M378.0,53.9h0.7M389.9,45.1h0.7M363.8,71.2h0.7M399.6,58.3h0.7M373.3,65.0h0.7M382.8,110.0h0.7M351.1,67.0h0.7M365.7,77.2h0.7M390.9,63.6h0.7M377.8,50.2h0.7M387.4,70.2h0.7M375.6,99.2h0.7M385.6,101.1h0.7M368.3,75.8h0.7M377.3,77.0h0.7M359.5,51.4h0.7M370.2,69.0h0.7M372.8,76.8h0.7M347.0,53.9h0.7M376.5,96.0h0.7M376.3,97.0h0.7M358.1,75.0h0.7M393.4,82.0h0.7M372.6,78.3h0.7M386.9,101.8h0.7M379.9,54.7h0.7M354.0,57.0h0.7M355.6,55.6h0.7M359.6,97.0h0.7M380.0,75.3h0.7M386.1,63.3h0.7M350.2,52.7h0.7M399.6,57.8h0.7M403.7,100.4h0.7M371.2,54.3h0.7M363.3,53.0h0.7M356.1,76.5h0.7M351.4,53.8h0.7M368.0,53.5h0.7M386.5,89.1h0.7M345.7,71.7h0.7M361.5,55.2h0.7M383.7,77.9h0.7M378.6,55.7h0.7M392.8,64.8h0.7M373.8,75.3h0.7M387.8,60.6h0.7M395.8,48.1h0.7M392.8,102.5h0.7M366.4,52.1h0.7M387.5,57.4h0.7M363.1,111.3h0.7M364.6,105.1h0.7M385.5,45.4h0.7M375.2,98.8h0.7M351.6,74.4h0.7M356.4,54.8h0.7M399.3,108.7h0.7M355.5,58.8h0.7M367.9,52.4h0.7M359.6,53.3h0.7M360.7,74.1h0.7M385.5,57.2h0.7M381.0,112.3h0.7M368.2,102.1h0.7M349.9,54.6h0.7M391.4,62.8h0.7M388.1,98.5h0.7M396.0,54.0h0.7M374.4,72.1h0.7M380.1,112.6h0.7M396.8,106.2h0.7M373.7,53.0h0.7M382.4,99.4h0.7M367.8,70.9h0.7M386.2,111.4h0.7M351.7,54.0h0.7M359.5,75.3h0.7M360.0,73.8h0.7M347.3,51.9h0.7M368.8,52.2h0.7M354.0,64.7h0.7M367.0,52.8h0.7M366.9,70.2h0.7M388.2,107.7h0.7M357.8,74.5h0.7M357.4,75.2h0.7M346.5,73.0h0.7M386.2,101.8h0.7M359.6,104.5h0.7M372.7,69.9h0.7M357.7,71.6h0.7M356.0,73.1h0.7M391.7,58.1h0.7M347.3,72.4h0.7M373.9,53.4h0.7M359.7,51.5h0.7M347.2,75.1h0.7M383.0,93.7h0.7M386.3,97.9h0.7M358.7,53.3h0.7M370.7,66.4h0.7M359.7,108.1h0.7M346.1,53.8h0.7M352.2,50.8h0.7M380.3,105.6h0.7M390.4,94.3h0.7M356.7,56.4h0.7M363.9,73.7h0.7M364.5,53.5h0.7M383.6,52.8h0.7M395.8,63.4h0.7M349.1,75.8h0.7M375.9,104.4h0.7M378.1,51.4h0.7M368.4,50.2h0.7M345.6,70.9h0.7M388.0,63.7h0.7M364.7,52.8h0.7M366.7,77.1h0.7M364.3,53.9h0.7M362.4,70.6h0.7M372.6,54.4h0.7M350.5,52.3h0.7M391.0,65.1h0.7M360.0,51.5h0.7M383.6,72.2h0.7M355.6,71.3h0.7M360.5,70.9h0.7M394.5,83.7h0.7M365.7,72.3h0.7M355.6,54.5h0.7M370.7,53.4h0.7M358.8,65.1h0.7M391.1,58.2h0.7M397.3,54.9h0.7M374.5,60.1h0.7M392.0,104.5h0.7M355.3,76.4h0.7M357.2,63.0h0.7M369.0,55.4h0.7M401.3,54.0h0.7M379.1,53.7h0.7M382.6,92.2h0.7M362.2,52.9h0.7M369.0,77.7h0.7M367.4,55.2h0.7M361.0,54.2h0.7M376.9,99.2h0.7M388.2,101.1h0.7M381.5,56.9h0.7M374.2,55.0h0.7M393.2,66.5h0.7M367.4,74.4h0.7M358.6,78.6h0.7M388.2,105.2h0.7M400.0,67.1h0.7M393.7,102.4h0.7M351.7,51.9h0.7M398.1,66.9h0.7M386.6,97.6h0.7M347.4,69.2h0.7M385.6,90.3h0.7M347.4,73.7h0.7M363.3,53.7h0.7M394.2,65.5h0.7M377.8,101.0h0.7M385.0,112.0h0.7M369.8,53.5h0.7M360.6,106.2h0.7M354.4,53.4h0.7M349.4,51.9h0.7M359.4,76.5h0.7M364.9,55.1h0.7M369.5,78.3h0.7M361.2,56.3h0.7M378.6,76.2h0.7M391.1,71.5h0.7M365.9,75.5h0.7M389.4,81.9h0.7M351.8,54.1h0.7M369.9,75.2h0.7M364.2,56.1h0.7M358.1,49.4h0.7M389.8,53.7h0.7M378.9,88.9h0.7M389.7,106.5h0.7M384.4,106.3h0.7M359.4,67.3h0.7M355.8,66.8h0.7M359.9,75.9h0.7M379.7,51.7h0.7M354.4,65.8h0.7M364.6,62.6h0.7M406.7,71.7h0.7M355.0,76.7h0.7M367.4,75.7h0.7M382.9,59.5h0.7M347.2,62.7h0.7M345.1,53.3h0.7M366.6,96.6h0.7M382.1,91.8h0.7M345.8,72.1h0.7M379.0,90.0h0.7M367.0,56.8h0.7M379.9,104.1h0.7M390.2,50.9h0.7M385.7,94.5h0.7M407.9,106.4h0.7M357.3,55.9h0.7M349.6,70.3h0.7M369.7,50.9h0.7M367.1,55.3h0.7M355.5,55.0h0.7M355.0,52.5h0.7M375.6,106.8h0.7M390.8,64.6h0.7M372.3,72.3h0.7M384.2,52.6h0.7M368.1,100.8h0.7M367.3,55.1h0.7M373.6,51.7h0.7M347.5,54.6h0.7M377.4,51.5h0.7M396.6,58.5h0.7M370.1,94.8h0.7M407.2,62.0h0.7M375.9,100.4h0.7M367.4,72.0h0.7M362.5,51.6h0.7M380.4,53.7h0.7M359.1,73.8h0.7M362.3,113.3h0.7M363.9,53.8h0.7M395.1,59.0h0.7M384.0,50.9h0.7M392.0,82.1h0.7M386.2,89.7h0.7M354.7,68.0h0.7M382.8,94.7h0.7M402.7,59.0h0.7M351.7,56.6h0.7M358.0,75.2h0.7M403.4,49.5h0.7M385.5,96.4h0.7M349.8,77.2h0.7M352.3,78.3h0.7M387.0,99.7h0.7M382.7,51.1h0.7M373.8,53.9h0.7M349.6,53.6h0.7M346.4,106.5h0.7M359.8,95.9h0.7M381.0,61.4h0.7M356.6,49.8h0.7M366.9,75.1h0.7M367.8,72.2h0.7M357.0,77.6h0.7M386.9,64.4h0.7M359.1,73.1h0.7M350.9,75.3h0.7M363.8,52.0h0.7M385.5,79.6h0.7M380.1,81.1h0.7M360.7,66.3h0.7M395.2,51.7h0.7M356.5,68.7h0.7M369.6,53.0h0.7M391.1,54.8h0.7M396.2,57.6h0.7M387.2,110.7h0.7M390.7,59.5h0.7M377.0,72.4h0.7M345.3,73.9h0.7M378.0,51.2h0.7M402.8,55.2h0.7M394.1,41.9h0.7M377.1,96.3h0.7M366.1,98.8h0.7M364.4,52.7h0.7M374.5,54.3h0.7M382.6,93.4h0.7M382.9,58.0h0.7M360.0,69.8h0.7M355.1,71.7h0.7M382.8,58.2h0.7M367.3,74.2h0.7M389.5,106.2h0.7M387.2,100.2h0.7M379.8,105.3h0.7M366.9,53.0h0.7M366.6,70.4h0.7M360.0,72.7h0.7M367.2,53.1h0.7M374.7,105.8h0.7M368.0,73.8h0.7M350.5,72.2h0.7M369.3,52.8h0.7M398.8,61.9h0.7M371.5,75.7h0.7M386.4,92.5h0.7M367.1,77.8h0.7M396.4,66.9h0.7M372.1,108.6h0.7M360.3,71.1h0.7M359.8,71.2h0.7M362.1,75.8h0.7M359.4,53.4h0.7M373.4,53.9h0.7M385.0,56.3h0.7M354.6,77.9h0.7M372.4,92.4h0.7M359.7,72.2h0.7M393.7,66.1h0.7M393.2,108.5h0.7M367.1,72.4h0.7M378.0,101.3h0.7M362.4,52.2h0.7M362.7,52.2h0.7M372.1,59.9h0.7M346.5,73.8h0.7M376.7,102.8h0.7M390.3,52.4h0.7M376.9,75.4h0.7M353.1,74.6h0.7M391.7,75.3h0.7M354.6,55.1h0.7" stroke="#666" stroke-width="0.7" fill="none"/>
<path d="M398.1,114.0L395.4,113.9L392.6,113.0L388.6,113.7L382.1,113.6L379.4,113.1L370.4,113.7L364.1,112.5L354.9,112.5L351.9,109.7L346.9,109.2L345.8,108.5L345.5,107.2L346.6,105.0L346.6,103.5L345.9,101.1L344.3,99.2L343.9,93.2L344.2,90.2L345.9,88.7L347.5,85.2L346.9,81.7L349.3,80.2L350.0,77.5L350.9,76.2L352.1,75.6L355.4,75.2L359.6,73.4L363.9,73.6L371.6,77.1L373.0,80.7L375.9,82.2L378.3,85.0L380.2,92.2L381.6,100.0L382.1,100.6L383.7,97.5L384.0,93.5L385.9,88.0L389.9,82.7L392.0,77.5L395.6,74.1L396.8,72.0L397.9,66.7L392.7,58.5L391.0,53.5L392.1,51.6L397.4,49.2L399.4,49.7L405.5,52.7L408.1,56.2L408.9,59.2L410.7,62.0L411.8,70.7L412.6,92.2L412.2,105.0L411.3,111.7L409.9,112.8L407.6,113.6L404.6,113.3Z" fill="#fff" stroke="none"/>
<path d="M398.1,114.0L395.4,113.9L392.6,113.0L388.6,113.7L382.1,113.6L379.4,113.1L370.4,113.7L364.1,112.5L354.9,112.5L351.9,109.7L346.9,109.2L345.8,108.5L345.5,107.2L346.6,105.0L346.6,103.5L345.9,101.1L344.3,99.2L343.9,93.2L344.2,90.2L345.9,88.7L347.5,85.2L346.9,81.7L349.3,80.2L350.0,77.5L350.9,76.2L352.1,75.6L355.4,75.2L359.6,73.4L363.9,73.6L371.6,77.1L373.0,80.7L375.9,82.2L378.3,85.0L380.2,92.2L381.6,100.0L382.1,100.6L383.7,97.5L384.0,93.5L385.9,88.0L389.9,82.7L392.0,77.5L395.6,74.1L396.8,72.0L397.9,66.7L392.7,58.5L391.0,53.5L392.1,51.6L397.4,49.2L399.4,49.7L405.5,52.7L408.1,56.2L408.9,59.2L410.7,62.0L411.8,70.7L412.6,92.2L412.2,105.0L411.3,111.7L409.9,112.8L407.6,113.6L404.6,113.3Z" fill="none" stroke="#333" stroke-width="0.45"/>
<path d="M398.4,112.5L396.1,112.5L393.1,111.3L388.4,112.2L381.6,111.0L376.1,111.7L368.4,110.6L362.1,110.3L358.6,110.9L356.4,110.8L354.1,108.4L352.0,107.5L349.4,105.2L347.6,102.3L346.5,98.0L347.1,95.2L346.5,92.0L347.6,89.7L349.3,83.5L350.9,81.6L352.4,78.4L356.9,77.5L359.9,75.3L364.6,76.4L373.8,83.0L375.7,86.2L378.0,91.7L379.8,102.2L381.6,108.7L382.1,109.7L382.6,109.6L383.7,105.5L383.3,102.2L384.9,98.0L385.3,93.7L387.0,89.0L391.2,83.0L393.4,78.5L396.7,74.7L400.0,68.0L399.7,66.5L397.2,63.0L396.0,60.0L393.9,57.5L393.0,54.5L393.1,53.5L393.9,52.6L397.9,51.5L399.9,51.9L403.9,53.7L406.6,57.0L407.3,60.5L409.3,63.2L410.5,71.0L411.5,92.2L411.0,104.7L410.0,111.0L407.9,112.0L404.1,111.7Z" fill="#000" fill-opacity="0.02" stroke="#333" stroke-width="0.45"/>
<path d="M398.6,111.7L396.6,111.8L393.4,110.4L387.9,111.5L384.6,110.5L384.2,109.7L384.7,105.0L384.2,102.0L385.7,98.2L385.9,94.0L387.5,89.2L396.1,77.1L401.0,68.0L400.8,66.5L398.0,63.0L396.8,59.7L394.6,57.4L393.9,55.5L393.8,54.0L394.4,53.3L397.9,52.4L399.9,52.8L403.4,54.5L405.9,57.5L406.5,61.0L408.6,64.2L410.3,74.2L411.2,92.2L410.5,104.5L409.4,110.6L407.9,111.3L402.4,111.0ZM377.1,110.8L374.9,110.6L372.9,108.7L370.6,109.4L368.4,109.0L357.4,109.8L356.2,109.0L355.2,106.5L352.1,105.6L348.6,101.9L347.6,98.7L348.4,95.2L347.9,92.0L349.4,86.8L350.1,86.2L352.1,86.1L353.3,84.7L352.7,81.5L353.4,79.8L354.6,79.8L357.4,83.3L358.9,83.8L359.6,83.0L359.8,81.2L358.9,78.0L359.4,77.0L360.1,76.8L362.1,78.0L365.1,78.0L366.4,78.7L367.2,80.2L367.1,82.2L369.0,84.0L369.4,86.5L370.6,86.2L371.9,84.0L373.0,84.2L375.0,87.5L376.7,92.7L376.1,93.9L375.1,93.6L374.0,91.2L372.9,90.6L372.4,91.2L372.6,92.7L374.2,96.0L376.6,96.7L377.4,97.5L379.1,105.0L378.8,107.0L380.2,108.7L379.7,110.0ZM367.9,99.7L367.7,98.7L366.6,98.0L365.4,97.9L364.5,98.7L364.9,99.2ZM358.1,104.5L359.7,103.0L358.9,101.4L357.9,101.8L356.8,103.5L356.9,104.5ZM375.5,102.0L375.4,101.3L374.4,102.0ZM372.3,104.0L373.5,102.2L372.1,101.9L371.3,102.5L371.1,103.5ZM367.9,106.7L368.5,105.2L368.1,103.7L366.9,103.3L364.6,104.0L364.6,105.2L365.3,106.2L366.9,106.9Z" fill="#000" fill-opacity="0.02" stroke="#333" stroke-width="0.45"/>
<path d="M398.6,111.0L397.1,111.0L393.6,109.4L389.1,110.8L385.9,109.7L385.3,108.7L385.6,105.0L385.0,102.2L386.6,98.5L386.5,94.0L388.2,89.2L396.4,78.6L399.6,71.3L401.9,68.0L401.6,66.0L398.4,61.9L397.3,59.0L394.7,56.0L394.9,54.0L397.9,53.2L402.4,54.6L404.8,57.7L405.5,61.2L407.1,65.0L407.1,68.2L409.2,70.7L410.5,81.0L410.9,92.2L410.4,102.0L408.8,110.0L407.4,110.6L401.6,110.2ZM362.1,97.8L359.8,97.5L356.4,95.4L354.4,95.8L353.9,95.5L353.3,93.5L355.6,90.0L353.8,87.5L354.4,86.9L362.4,85.1L362.0,80.2L364.6,79.3L365.5,80.2L364.4,82.7L367.1,85.0L365.1,86.8L365.1,88.2L366.1,89.1L369.2,89.2L370.7,92.7L369.1,95.9L365.1,96.2ZM355.6,100.0L353.3,98.5L353.1,97.2L353.9,96.5L356.3,99.0ZM372.6,98.5L370.9,97.8L370.3,96.5L372.6,97.2L373.1,98.0ZM354.1,103.7L353.4,103.5L354.1,103.2ZM360.1,108.7L357.9,108.5L357.5,106.7L359.1,105.4L361.6,104.9L362.5,106.0L362.5,107.5Z" fill="#000" fill-opacity="0.02" stroke="#333" stroke-width="0.45"/>
<path d="M398.9,110.0L397.4,110.0L395.8,108.7L393.2,105.5L392.1,102.8L390.7,103.2L389.6,105.2L388.1,105.6L387.1,105.0L386.2,102.2L388.1,99.2L387.0,94.5L388.9,89.5L396.6,81.7L400.1,72.0L403.5,67.7L402.8,65.7L399.1,61.0L398.1,58.7L395.6,56.2L395.6,54.7L397.4,54.1L401.6,55.2L402.9,56.5L403.9,58.5L404.6,62.7L404.3,68.7L406.4,71.7L408.1,72.1L409.2,73.7L410.2,81.2L410.6,92.2L409.7,104.0L407.4,109.0ZM397.6,88.7L398.1,87.5L397.1,86.7L396.6,88.2ZM362.6,96.0L358.9,95.0L356.8,93.2L357.7,89.0L358.6,88.0L362.6,87.5L364.9,89.7L367.6,90.9L368.7,92.0L368.8,93.2L367.6,94.6L364.9,94.9ZM389.4,109.8L388.4,109.5L388.4,108.7L390.3,108.0L390.5,109.0Z" fill="#000" fill-opacity="0.02" stroke="#333" stroke-width="0.45"/>
<path d="M400.6,60.0L399.6,59.4L398.6,57.4L397.0,56.5L396.9,55.5L397.7,55.5L399.1,56.6L401.7,57.0L402.0,58.2ZM402.4,108.2L399.9,108.0L400.7,105.2L399.4,103.2L397.6,102.8L395.6,104.0L394.9,103.2L395.9,100.8L397.8,99.7L398.4,96.5L400.2,94.2L399.9,93.0L398.5,91.2L399.8,87.2L398.4,84.0L399.4,81.8L401.6,80.0L401.7,76.7L400.7,74.5L401.2,72.7L402.4,71.8L405.1,74.4L408.1,74.3L408.9,74.9L409.9,81.7L410.4,92.5L409.8,101.5L409.1,103.8L408.4,104.6L406.1,104.8L404.1,107.5ZM391.4,100.7L390.1,100.8L390.0,100.0L390.6,99.1L392.4,98.5L392.4,96.8L388.6,96.3L387.9,95.4L387.8,94.0L389.9,89.4L393.6,86.8L394.3,87.5L394.8,91.0L392.6,93.2L394.6,95.8L395.4,98.7L395.0,99.5L392.9,99.6ZM362.9,94.7L360.4,94.6L358.5,93.2L358.9,90.7L360.4,89.0L362.6,89.0L366.6,92.2L366.4,93.2ZM406.0,103.5L406.7,102.0L406.1,100.0L405.4,102.5L405.5,103.5Z" fill="#000" fill-opacity="0.02" stroke="#333" stroke-width="0.45"/>
<path d="M401.6,102.5L400.1,101.7L399.5,100.7L399.3,97.2L401.1,95.4L401.6,94.2L400.2,90.2L401.6,87.8L405.6,86.6L406.4,86.0L407.9,79.5L407.2,77.2L408.1,76.5L409.6,82.0L410.1,92.2L409.1,101.7L408.4,102.2L407.1,97.5L405.9,96.1L404.3,97.5L403.0,101.5ZM404.1,80.0L403.4,79.5L403.2,78.2L403.9,77.3L404.9,77.3L405.5,78.2ZM402.1,85.0L401.1,85.1L400.6,84.5L400.7,83.5L401.6,82.7L403.0,83.5ZM391.4,90.8L390.9,90.5L391.6,89.9ZM362.1,94.0L360.4,93.7L359.7,92.7L360.1,91.1L361.4,90.2L362.9,90.5L364.3,92.0L363.6,93.2Z" fill="#000" fill-opacity="0.02" stroke="#333" stroke-width="0.45"/>
<path d="M408.6,98.2L407.5,96.0L406.6,91.4L405.9,91.2L403.6,92.5L402.1,91.6L401.7,90.5L402.6,89.2L406.6,88.3L407.9,82.5L408.6,81.5L409.4,84.0L409.8,92.5L409.4,96.9ZM403.9,95.1L403.3,94.7L403.9,93.5L404.4,94.5Z" fill="#000" fill-opacity="0.02" stroke="#333" stroke-width="0.45"/>
<path d="M408.6,95.9L408.0,93.2L408.6,85.1L409.4,92.7Z" fill="#000" fill-opacity="0.02" stroke="#333" stroke-width="0.45"/>
<path d="M408.9,72.5Q410.7,90 409.3,106.5" fill="none" stroke="#000" stroke-width="2.6" stroke-opacity="0.95" stroke-linecap="round" filter="url(#bl1)"/>
<ellipse cx="400.00" cy="61.00" rx="3" ry="6" transform="rotate(20 400.00 61.00)" fill="#000" fill-opacity="0.22" filter="url(#bl2)"/>
<ellipse cx="402.00" cy="88.00" rx="3" ry="12" transform="rotate(0 402.00 88.00)" fill="#000" fill-opacity="0.22" filter="url(#bl2)"/>
<line x1="377.30" y1="38.20" x2="377.30" y2="115.10" stroke="#888" stroke-width="0.8"/>
<line x1="343.40" y1="70.20" x2="420.90" y2="70.20" stroke="#888" stroke-width="0.8"/>
<rect x="343.40" y="70.6" width="30.90" height="44.50" fill="none" stroke="#000" stroke-width="1.6"/>
<rect x="380.9" y="70.9" width="40.50" height="44.20" fill="none" stroke="#000" stroke-width="1.6"/>
<path d="M406.3,71.5V106.9H419" fill="none" stroke="#000" stroke-width="1.0" stroke-dasharray="3.3,2.1"/>
<rect x="343.40" y="38.20" width="77.50" height="76.90" fill="none" stroke="#000" stroke-width="1.5"/>
<path d="M348.83,115.10v2.3M352.00,115.10v2.3M354.25,115.10v2.3M356.00,115.10v2.3M357.42,115.10v2.3M358.63,115.10v2.3M359.68,115.10v2.3M360.60,115.10v2.3M361.42,115.10v3.4M366.85,115.10v2.3M370.02,115.10v2.3M372.27,115.10v2.3M374.02,115.10v2.3M375.45,115.10v2.3M376.65,115.10v2.3M377.70,115.10v2.3M378.62,115.10v2.3M379.45,115.10v3.4M384.87,115.10v2.3M388.05,115.10v2.3M390.30,115.10v2.3M392.04,115.10v2.3M393.47,115.10v2.3M394.68,115.10v2.3M395.72,115.10v2.3M396.65,115.10v2.3M397.47,115.10v3.4M402.90,115.10v2.3M406.07,115.10v2.3M408.32,115.10v2.3M410.07,115.10v2.3M411.49,115.10v2.3M412.70,115.10v2.3M413.75,115.10v2.3M414.67,115.10v2.3M415.49,115.10v3.4M343.40,109.72h-2.3M343.40,106.57h-2.3M343.40,104.33h-2.3M343.40,102.60h-2.3M343.40,101.18h-2.3M343.40,99.99h-2.3M343.40,98.95h-2.3M343.40,98.03h-2.3M343.40,97.22h-3.4M343.40,91.83h-2.3M343.40,88.68h-2.3M343.40,86.45h-2.3M343.40,84.72h-2.3M343.40,83.30h-2.3M343.40,82.10h-2.3M343.40,81.07h-2.3M343.40,80.15h-2.3M343.40,79.33h-3.4M343.40,73.95h-2.3M343.40,70.80h-2.3M343.40,68.57h-2.3M343.40,66.83h-2.3M343.40,65.42h-2.3M343.40,64.22h-2.3M343.40,63.18h-2.3M343.40,62.27h-2.3M343.40,61.45h-3.4M343.40,56.07h-2.3M343.40,52.92h-2.3M343.40,50.68h-2.3M343.40,48.95h-2.3M343.40,47.53h-2.3M343.40,46.34h-2.3M343.40,45.30h-2.3M343.40,44.38h-2.3M343.40,43.57h-3.4" stroke="#000" stroke-width="0.85" fill="none"/>
<text x="347.50" y="47.27" font-size="8.2" text-anchor="start" fill="#1a1a1a" textLength="10.03" lengthAdjust="spacingAndGlyphs">1.1</text>
<text x="415.50" y="47.47" font-size="8.2" text-anchor="end" fill="#1a1a1a" textLength="10.03" lengthAdjust="spacingAndGlyphs">5.4</text>
<text x="345.00" y="113.27" font-size="8.2" text-anchor="start" fill="#1a1a1a" textLength="14.04" lengthAdjust="spacingAndGlyphs">15.5</text>
<text x="418.50" y="113.17" font-size="8.2" text-anchor="end" fill="#1a1a1a" textLength="14.04" lengthAdjust="spacingAndGlyphs">78.0</text>
<path d="M467.3,67.3h0.7M482.8,65.9h0.7M486.1,50.5h0.7M441.1,88.1h0.7M475.3,110.8h0.7M458.0,58.0h0.7M480.9,106.8h0.7M482.5,50.6h0.7M482.1,63.0h0.7M468.2,54.0h0.7M457.6,93.6h0.7M456.7,87.5h0.7M441.8,89.0h0.7M446.4,101.5h0.7M466.8,76.9h0.7M437.2,112.5h0.7M494.0,56.2h0.7M456.6,103.9h0.7M450.6,95.8h0.7M456.1,113.4h0.7M464.2,90.2h0.7M465.9,67.3h0.7M492.7,53.9h0.7M435.1,43.6h0.7M448.3,105.6h0.7M467.6,63.0h0.7M447.6,78.2h0.7M442.0,81.7h0.7M471.6,64.3h0.7M467.7,58.8h0.7M474.4,72.2h0.7M478.5,63.4h0.7M452.3,105.6h0.7M486.1,50.9h0.7M471.2,75.3h0.7M448.9,93.0h0.7M450.0,85.0h0.7M480.6,69.3h0.7M450.0,103.5h0.7M484.2,66.0h0.7M481.3,70.0h0.7M454.5,82.4h0.7M463.5,85.9h0.7M469.5,75.2h0.7M441.3,92.6h0.7M454.5,105.5h0.7M481.6,109.4h0.7M455.7,56.8h0.7M473.8,109.9h0.7M447.2,107.5h0.7M487.0,66.4h0.7M447.6,50.9h0.7M484.0,112.3h0.7M462.0,105.9h0.7M480.8,111.3h0.7M455.9,96.3h0.7M486.1,71.7h0.7M445.6,98.7h0.7M483.7,56.8h0.7M460.3,76.7h0.7M482.8,70.5h0.7M469.5,61.6h0.7M459.0,88.2h0.7M465.2,111.8h0.7M435.3,98.2h0.7M469.2,83.2h0.7M485.5,66.7h0.7M487.4,59.6h0.7M500.9,112.1h0.7M465.9,54.2h0.7M448.1,95.5h0.7M457.0,47.5h0.7M459.1,106.1h0.7M488.1,109.6h0.7M458.6,104.5h0.7M453.7,65.4h0.7M468.0,111.2h0.7M491.3,67.7h0.7M460.6,88.5h0.7M464.3,112.2h0.7M446.5,93.0h0.7M509.3,111.4h0.7M466.6,52.8h0.7M471.3,79.2h0.7M457.6,85.1h0.7M473.1,113.2h0.7M480.5,53.9h0.7M488.8,61.8h0.7M461.8,112.1h0.7M466.5,111.4h0.7M493.9,109.8h0.7M445.3,107.0h0.7M475.9,60.4h0.7M440.3,98.4h0.7M461.9,63.6h0.7M469.7,69.3h0.7M466.0,81.5h0.7M472.5,82.7h0.7M471.6,78.0h0.7M472.7,69.7h0.7M471.1,109.2h0.7M479.1,56.7h0.7M474.5,57.6h0.7M493.4,51.5h0.7M459.9,98.3h0.7M484.8,68.5h0.7M479.7,66.9h0.7M442.6,102.7h0.7M481.2,72.5h0.7M464.5,107.4h0.7M478.7,56.5h0.7M443.1,89.0h0.7M448.5,63.3h0.7M448.7,96.1h0.7M453.1,71.6h0.7M490.3,46.7h0.7M447.1,95.0h0.7M451.4,97.7h0.7M447.0,79.1h0.7M465.1,76.4h0.7M440.7,89.7h0.7M476.2,59.6h0.7M441.9,66.0h0.7M491.8,112.2h0.7M471.2,56.3h0.7M473.5,110.9h0.7M463.7,84.4h0.7M435.2,107.8h0.7M467.3,111.0h0.7M467.9,109.8h0.7M450.4,84.3h0.7M470.1,78.1h0.7M486.6,66.2h0.7M494.9,68.2h0.7M453.4,78.1h0.7M445.0,98.2h0.7M456.8,109.9h0.7M471.0,56.3h0.7M446.4,100.1h0.7M449.5,85.3h0.7M454.5,78.1h0.7M450.7,78.9h0.7M462.8,82.2h0.7M463.4,62.6h0.7M462.0,111.9h0.7M451.9,55.1h0.7M487.9,62.1h0.7M466.7,64.3h0.7M453.9,52.3h0.7M457.3,110.7h0.7M451.1,104.2h0.7M454.3,92.3h0.7M466.6,70.1h0.7M449.4,97.5h0.7M458.6,91.7h0.7M475.9,57.1h0.7M481.4,71.4h0.7M478.7,110.7h0.7M446.7,99.0h0.7M449.9,92.2h0.7M491.7,76.2h0.7M471.9,78.7h0.7M472.8,57.7h0.7M446.0,66.7h0.7M463.2,112.4h0.7M458.0,77.1h0.7M474.1,74.4h0.7M469.2,62.6h0.7M477.6,51.4h0.7M447.7,110.9h0.7M489.4,109.3h0.7M456.4,87.1h0.7M453.6,94.8h0.7M450.9,97.6h0.7M489.4,111.5h0.7M451.7,76.2h0.7M493.1,60.1h0.7M466.1,82.2h0.7M455.6,60.7h0.7M472.7,75.2h0.7M493.8,62.7h0.7M473.4,61.4h0.7M480.9,76.7h0.7M441.7,82.3h0.7M476.2,58.7h0.7M450.1,86.1h0.7M474.0,70.9h0.7M462.4,85.1h0.7M435.4,103.7h0.7M471.2,69.5h0.7M476.2,110.7h0.7M447.8,84.6h0.7M451.9,94.3h0.7M486.0,62.4h0.7M469.8,82.9h0.7M476.4,79.0h0.7M458.8,83.5h0.7M477.9,55.8h0.7M446.7,90.8h0.7M469.9,55.3h0.7M437.2,93.6h0.7M478.1,58.9h0.7M473.2,58.6h0.7M457.6,94.7h0.7M454.5,100.6h0.7M494.3,109.2h0.7M445.5,93.5h0.7M443.0,72.1h0.7M475.9,108.7h0.7M494.8,113.1h0.7M476.2,72.3h0.7M454.2,93.6h0.7M479.8,57.6h0.7M468.4,70.5h0.7M474.8,62.7h0.7M463.2,111.1h0.7M444.4,84.3h0.7M462.4,56.8h0.7M492.5,57.8h0.7M440.0,94.9h0.7M473.4,64.9h0.7M457.2,103.5h0.7M445.1,108.5h0.7M456.4,111.0h0.7M475.1,110.8h0.7M489.6,58.9h0.7M495.8,59.2h0.7M450.7,76.8h0.7M461.4,73.0h0.7M466.0,111.6h0.7M479.8,58.9h0.7M474.4,68.7h0.7M472.3,111.5h0.7M471.1,71.9h0.7M468.6,73.0h0.7M484.5,53.0h0.7M481.9,112.6h0.7M470.9,73.9h0.7M454.4,78.0h0.7M472.3,70.8h0.7M476.7,111.7h0.7M476.5,69.1h0.7M440.8,89.0h0.7M486.6,54.2h0.7M445.2,79.8h0.7M464.9,60.3h0.7M455.8,113.0h0.7M443.7,50.1h0.7M474.1,61.3h0.7M466.2,72.5h0.7M469.2,74.8h0.7M443.2,72.2h0.7M467.9,80.3h0.7M466.1,94.1h0.7M474.6,56.0h0.7M447.6,94.5h0.7M474.4,112.2h0.7M466.0,59.7h0.7M445.7,98.6h0.7M493.3,76.2h0.7M443.9,98.9h0.7M444.3,92.0h0.7M469.1,59.0h0.7M469.4,79.7h0.7M445.5,95.7h0.7M473.2,111.2h0.7M476.4,55.7h0.7M460.6,71.9h0.7M445.3,111.4h0.7M445.1,86.6h0.7M464.6,75.0h0.7M457.4,95.7h0.7M444.6,85.1h0.7M437.6,93.8h0.7M485.2,54.7h0.7M464.2,80.8h0.7M480.3,65.7h0.7M449.1,112.4h0.7M463.9,109.8h0.7M476.0,110.7h0.7M485.3,54.2h0.7M466.6,77.9h0.7M481.9,111.2h0.7M457.5,97.2h0.7M465.1,59.1h0.7M473.9,65.6h0.7M444.2,110.9h0.7M458.2,84.1h0.7M459.9,104.6h0.7M480.1,59.5h0.7M438.9,90.2h0.7M470.5,67.0h0.7M460.2,96.2h0.7M471.2,69.6h0.7M448.8,101.0h0.7M463.2,89.5h0.7M454.5,70.1h0.7M468.9,63.9h0.7M469.8,101.1h0.7M472.0,109.3h0.7M457.4,111.2h0.7M487.8,66.6h0.7M456.2,91.2h0.7M505.8,61.5h0.7M445.3,75.0h0.7M450.7,105.4h0.7M454.8,90.2h0.7M443.8,79.5h0.7M457.3,105.3h0.7M462.8,60.4h0.7M453.4,88.4h0.7M441.8,92.1h0.7M488.0,61.8h0.7M456.0,51.5h0.7M446.0,84.1h0.7M445.6,76.3h0.7M466.0,68.5h0.7M478.9,50.6h0.7M487.2,110.4h0.7M475.9,65.7h0.7M483.5,67.8h0.7M449.6,110.0h0.7M472.3,57.7h0.7M467.6,69.0h0.7M488.0,62.5h0.7M480.4,57.9h0.7M463.4,61.6h0.7M445.4,86.4h0.7M451.6,110.3h0.7M493.6,57.3h0.7M487.9,54.7h0.7M470.1,84.9h0.7M457.1,110.3h0.7M473.5,73.2h0.7M491.9,109.2h0.7M444.8,98.2h0.7M446.3,90.9h0.7M458.3,62.0h0.7M447.9,96.7h0.7M439.2,105.7h0.7M478.6,71.7h0.7M481.5,71.9h0.7M475.7,59.0h0.7M495.8,54.4h0.7M461.6,103.2h0.7M452.0,100.8h0.7M446.6,71.9h0.7M479.0,111.2h0.7M458.0,79.2h0.7M476.0,58.3h0.7M452.5,89.6h0.7M447.6,56.5h0.7M474.2,61.6h0.7M459.3,51.9h0.7M460.5,110.7h0.7M445.3,89.7h0.7M456.8,109.5h0.7M452.1,111.9h0.7M448.2,86.3h0.7M474.0,78.6h0.7M499.8,110.9h0.7M472.8,112.0h0.7M444.4,89.1h0.7M445.2,69.5h0.7M479.1,65.1h0.7M478.1,53.7h0.7M465.9,81.0h0.7M449.4,107.8h0.7M467.0,101.3h0.7M481.8,59.1h0.7M459.3,80.6h0.7M491.8,62.8h0.7M479.0,108.3h0.7M442.6,97.9h0.7M481.4,63.7h0.7M435.9,96.4h0.7M435.8,108.7h0.7M442.3,98.8h0.7M479.0,111.8h0.7M470.0,110.0h0.7M475.6,113.1h0.7M437.6,95.8h0.7M461.0,110.1h0.7M447.3,111.4h0.7M482.2,83.1h0.7M436.8,83.7h0.7M448.9,79.2h0.7M467.1,75.1h0.7M465.0,87.9h0.7M452.6,100.4h0.7M463.4,94.0h0.7M455.4,106.1h0.7M480.0,65.9h0.7M469.6,75.8h0.7M485.5,107.4h0.7M476.7,108.4h0.7M449.3,101.2h0.7M461.5,73.2h0.7M445.6,88.4h0.7M447.1,80.8h0.7M479.4,72.1h0.7M458.8,88.3h0.7M478.0,67.0h0.7M454.0,112.3h0.7M466.8,76.7h0.7M473.3,59.6h0.7M445.2,104.3h0.7M445.7,93.3h0.7M477.7,56.7h0.7M471.0,112.4h0.7M441.2,102.4h0.7M440.3,101.9h0.7M464.3,111.4h0.7M468.2,112.3h0.7M444.6,97.2h0.7M469.5,54.6h0.7M463.0,95.5h0.7M459.0,110.9h0.7M437.0,95.2h0.7M450.6,99.1h0.7M441.8,92.8h0.7M444.1,109.7h0.7M475.0,66.7h0.7M439.4,98.2h0.7M449.7,75.5h0.7M474.4,59.4h0.7M468.5,75.6h0.7M485.8,60.6h0.7M485.3,48.7h0.7M469.3,110.1h0.7M479.7,63.4h0.7M483.3,64.0h0.7M443.4,112.1h0.7M450.1,83.3h0.7M446.7,94.3h0.7M481.0,61.3h0.7M448.8,90.3h0.7M464.0,93.3h0.7M451.9,77.6h0.7M451.9,98.6h0.7M487.4,67.8h0.7M482.2,74.8h0.7M463.7,77.5h0.7M467.5,66.3h0.7M456.9,87.1h0.7M452.3,107.3h0.7M484.1,55.5h0.7M489.1,59.1h0.7M449.4,99.6h0.7M445.6,89.0h0.7M476.2,64.2h0.7M455.7,76.4h0.7M480.8,53.0h0.7M483.7,111.8h0.7M485.9,63.5h0.7M485.3,59.1h0.7M463.4,95.4h0.7M489.5,55.0h0.7M466.6,82.2h0.7M455.0,110.4h0.7M450.4,85.6h0.7M461.9,79.6h0.7M474.4,59.3h0.7M498.3,62.6h0.7M495.3,112.8h0.7M446.3,90.7h0.7M479.0,58.9h0.7M448.3,74.0h0.7M471.5,59.8h0.7M475.4,58.7h0.7M447.0,109.5h0.7M464.4,81.9h0.7M472.7,66.3h0.7M471.4,111.4h0.7M486.0,60.7h0.7M472.5,73.4h0.7M469.4,113.2h0.7M456.1,90.8h0.7M473.9,68.4h0.7M450.3,81.5h0.7M476.0,74.7h0.7M459.0,79.6h0.7M464.8,81.3h0.7M466.3,113.2h0.7M501.3,112.0h0.7M474.2,76.4h0.7M447.4,113.0h0.7M468.6,72.6h0.7M489.2,110.0h0.7M476.1,56.2h0.7M451.6,107.4h0.7M484.9,111.4h0.7M482.4,56.5h0.7M450.4,100.2h0.7M479.1,51.9h0.7M488.3,60.1h0.7M450.9,99.8h0.7M471.2,59.8h0.7M504.4,61.1h0.7M440.5,95.0h0.7M449.8,102.6h0.7M445.5,86.5h0.7M456.8,68.4h0.7M458.8,93.4h0.7M502.3,60.7h0.7M445.8,100.7h0.7M448.8,87.6h0.7M444.0,106.4h0.7M472.7,64.7h0.7M463.2,76.7h0.7M472.1,65.7h0.7M453.7,110.5h0.7M474.0,67.8h0.7M448.7,96.8h0.7M441.1,94.4h0.7M469.0,76.1h0.7M458.4,94.2h0.7M458.8,64.0h0.7M471.7,61.0h0.7M482.0,60.9h0.7M464.5,74.5h0.7M484.4,62.7h0.7M501.1,55.4h0.7M448.4,112.3h0.7M483.6,66.4h0.7M463.0,110.8h0.7M445.3,96.4h0.7M470.2,71.6h0.7M458.3,83.9h0.7M464.8,72.3h0.7M480.4,57.4h0.7M470.6,110.3h0.7M437.4,113.3h0.7M488.0,60.7h0.7M484.7,55.2h0.7M481.2,67.6h0.7M438.2,78.1h0.7M458.7,92.2h0.7M474.0,62.2h0.7M456.0,78.3h0.7M478.7,74.1h0.7M478.9,55.2h0.7M444.0,104.7h0.7M452.3,99.9h0.7M446.7,107.1h0.7M454.0,90.4h0.7M436.9,87.9h0.7M486.9,58.4h0.7M452.9,111.9h0.7M466.2,81.3h0.7M466.1,77.0h0.7M460.8,77.0h0.7M454.3,90.7h0.7M471.0,56.6h0.7M459.7,100.1h0.7M481.3,50.2h0.7M455.1,110.6h0.7M470.5,73.1h0.7M475.8,60.9h0.7M482.9,58.6h0.7M492.8,60.8h0.7M464.1,87.7h0.7M473.0,101.0h0.7M464.0,110.6h0.7M477.8,71.1h0.7M457.1,110.1h0.7M467.1,72.6h0.7M446.2,67.9h0.7M470.2,59.6h0.7M454.7,112.1h0.7M463.9,54.9h0.7M474.6,65.8h0.7M470.5,112.7h0.7M479.7,70.6h0.7M448.1,97.3h0.7M474.1,51.6h0.7M456.1,110.4h0.7M457.7,109.9h0.7M472.5,56.6h0.7M454.4,74.8h0.7M476.6,74.3h0.7M458.0,62.3h0.7M473.9,59.8h0.7M474.4,56.2h0.7M466.6,81.2h0.7M482.9,61.6h0.7M466.7,85.7h0.7M480.6,107.9h0.7M441.5,108.9h0.7M447.2,96.6h0.7M465.9,65.7h0.7M443.4,102.2h0.7M469.7,54.2h0.7M471.3,108.9h0.7M461.6,109.7h0.7M449.1,103.5h0.7M465.5,81.5h0.7M470.6,64.8h0.7M487.5,58.7h0.7M462.2,92.9h0.7M473.7,71.9h0.7M462.8,113.1h0.7M470.3,59.8h0.7M480.5,67.7h0.7M451.5,89.0h0.7M467.9,58.9h0.7M477.0,56.5h0.7M471.0,49.2h0.7M451.6,111.9h0.7M438.7,106.3h0.7M460.9,104.3h0.7M459.1,106.8h0.7M478.2,68.7h0.7M473.2,76.9h0.7M460.4,78.3h0.7M470.9,62.0h0.7M435.8,110.4h0.7M473.4,67.1h0.7M486.1,108.9h0.7M446.8,86.4h0.7M438.1,107.6h0.7M460.6,80.0h0.7M456.4,81.4h0.7M443.1,81.9h0.7M470.0,56.7h0.7M458.9,101.8h0.7M474.6,68.1h0.7M473.4,57.8h0.7M476.4,63.5h0.7M448.3,109.7h0.7M443.0,64.8h0.7M475.1,74.7h0.7M454.7,84.5h0.7M483.9,49.2h0.7M439.6,91.9h0.7M443.3,83.7h0.7M449.4,56.4h0.7M450.5,107.5h0.7M447.9,99.7h0.7M472.0,68.4h0.7M458.6,86.8h0.7M436.8,100.2h0.7M475.9,77.3h0.7M489.8,57.5h0.7M450.7,83.2h0.7M459.8,109.1h0.7M461.5,111.2h0.7M474.9,51.7h0.7M450.7,50.6h0.7M460.2,107.3h0.7M496.4,59.0h0.7M439.4,110.2h0.7M437.5,49.9h0.7M461.0,92.3h0.7M478.3,52.7h0.7M450.0,105.6h0.7M471.7,65.9h0.7M473.3,56.9h0.7M437.3,110.8h0.7M457.4,80.3h0.7M474.2,55.4h0.7M442.0,108.2h0.7M484.9,60.9h0.7M466.6,83.5h0.7M484.4,61.0h0.7M454.6,108.6h0.7M448.6,98.1h0.7M461.9,59.6h0.7M471.5,74.1h0.7M437.9,113.5h0.7M460.7,53.1h0.7M462.6,110.5h0.7M454.1,113.0h0.7M439.6,112.2h0.7M444.5,100.6h0.7M464.4,79.1h0.7M445.6,107.8h0.7M475.8,110.2h0.7M470.4,113.4h0.7M465.7,63.0h0.7M453.3,103.7h0.7M458.9,101.2h0.7M469.0,86.6h0.7M459.6,63.8h0.7M469.3,65.9h0.7M477.4,82.3h0.7M472.5,109.9h0.7M485.4,109.6h0.7M477.5,111.7h0.7M463.5,77.4h0.7M449.7,73.3h0.7M468.8,107.9h0.7M449.6,88.7h0.7M441.2,93.6h0.7M484.9,54.9h0.7M473.3,71.3h0.7M448.1,97.8h0.7M446.2,50.3h0.7M454.3,95.0h0.7M450.0,101.6h0.7M475.5,70.7h0.7M470.8,52.7h0.7M458.6,99.5h0.7M437.3,108.3h0.7M454.6,84.8h0.7M442.7,99.8h0.7M467.0,111.9h0.7M469.2,110.5h0.7M484.9,111.4h0.7M470.6,71.7h0.7M486.1,50.5h0.7M483.0,50.3h0.7M473.9,68.0h0.7M470.2,75.7h0.7M473.7,54.7h0.7M455.8,109.9h0.7M440.3,101.9h0.7M487.6,54.0h0.7M440.8,83.6h0.7M445.8,92.4h0.7M491.4,58.8h0.7M484.4,57.8h0.7M465.0,86.5h0.7M486.2,60.3h0.7M492.4,67.0h0.7M501.2,110.7h0.7M480.4,64.6h0.7M446.2,64.2h0.7M453.2,91.7h0.7M467.0,76.8h0.7M446.2,55.1h0.7M468.1,78.5h0.7M482.7,57.1h0.7M440.4,84.2h0.7M461.4,112.2h0.7M462.7,84.9h0.7M435.1,109.5h0.7M474.5,74.0h0.7M460.8,105.3h0.7M465.7,91.9h0.7M456.9,95.5h0.7M452.2,102.2h0.7M462.5,59.4h0.7M479.2,75.1h0.7M462.8,73.6h0.7M472.9,75.8h0.7M471.1,67.2h0.7M456.7,112.4h0.7M466.7,54.8h0.7M483.2,64.8h0.7M480.7,67.9h0.7M475.6,73.4h0.7M451.7,50.3h0.7M442.6,95.9h0.7M456.3,74.4h0.7M439.5,99.6h0.7M457.5,90.8h0.7M459.9,76.6h0.7M485.2,47.8h0.7M449.8,111.3h0.7M463.8,113.3h0.7M480.0,60.3h0.7M474.3,111.3h0.7M482.0,55.6h0.7M460.2,79.8h0.7M473.4,110.3h0.7M443.3,96.5h0.7M474.6,64.2h0.7M475.6,60.7h0.7M451.2,98.9h0.7M451.3,98.9h0.7M481.4,78.0h0.7M478.9,107.4h0.7M437.6,80.4h0.7M465.0,52.7h0.7M463.9,108.9h0.7M448.4,55.0h0.7M457.6,111.6h0.7M482.0,112.2h0.7M490.6,62.6h0.7M448.5,105.4h0.7M443.3,90.2h0.7M486.3,111.1h0.7M440.0,81.0h0.7M489.9,64.3h0.7M459.4,75.7h0.7M444.3,65.6h0.7M455.5,97.0h0.7M442.6,103.1h0.7M475.7,110.6h0.7M439.1,108.2h0.7M466.8,109.5h0.7M474.5,108.2h0.7M469.8,52.2h0.7M464.1,108.6h0.7M451.0,95.3h0.7M474.4,112.5h0.7M446.3,87.8h0.7M485.6,108.9h0.7M457.6,89.2h0.7M471.9,65.2h0.7M439.3,96.5h0.7M446.5,110.3h0.7M509.3,71.2h0.7M459.0,104.4h0.7M475.2,55.5h0.7M475.9,109.7h0.7M471.6,93.0h0.7M461.6,110.1h0.7M443.4,87.1h0.7M467.6,80.2h0.7M479.8,60.3h0.7M467.7,55.1h0.7M447.1,92.8h0.7M449.6,106.7h0.7M448.6,87.8h0.7M489.3,56.6h0.7M446.9,112.2h0.7M444.7,77.8h0.7M445.2,70.3h0.7M456.3,101.9h0.7M454.6,88.7h0.7M476.4,70.3h0.7M444.4,103.6h0.7M496.4,65.6h0.7M506.4,107.7h0.7M456.6,70.4h0.7M485.1,52.7h0.7M486.3,108.9h0.7M460.1,73.3h0.7M450.6,95.5h0.7M441.4,109.2h0.7M486.7,64.2h0.7M470.9,53.0h0.7M461.8,75.8h0.7M449.5,86.0h0.7M471.2,72.9h0.7M459.0,103.6h0.7M472.8,60.5h0.7M440.8,87.6h0.7M485.1,65.0h0.7M453.8,71.0h0.7M487.4,52.7h0.7M458.4,107.9h0.7M470.2,112.4h0.7M438.8,107.6h0.7M452.4,90.9h0.7M461.7,105.3h0.7M472.8,64.7h0.7M468.7,88.1h0.7M482.9,112.4h0.7M485.0,60.6h0.7M449.5,77.9h0.7M471.8,78.2h0.7M471.9,52.7h0.7M440.3,98.8h0.7M460.9,77.5h0.7M483.0,70.2h0.7M483.9,58.2h0.7M485.7,59.1h0.7M469.2,73.7h0.7M478.9,60.4h0.7M464.5,76.0h0.7M463.7,83.5h0.7M482.2,59.0h0.7M470.8,106.0h0.7M440.2,89.6h0.7M444.9,75.6h0.7M478.7,58.1h0.7M437.5,92.2h0.7M475.5,55.0h0.7M460.2,54.0h0.7M466.3,74.1h0.7M481.6,110.1h0.7M497.2,55.7h0.7M480.0,108.7h0.7M476.9,65.4h0.7M476.2,75.1h0.7M467.4,95.1h0.7M487.6,61.7h0.7M468.4,61.9h0.7M460.0,53.7h0.7M469.6,92.5h0.7M438.9,107.4h0.7M449.1,84.6h0.7M448.4,99.7h0.7M466.0,88.2h0.7M452.6,95.0h0.7M475.3,77.3h0.7M455.3,100.2h0.7M457.5,110.5h0.7M471.6,69.8h0.7M457.6,81.5h0.7M445.1,111.9h0.7M468.7,110.3h0.7M464.7,93.7h0.7M485.7,54.5h0.7M473.0,110.4h0.7M482.4,60.9h0.7M452.5,85.9h0.7" stroke="#666" stroke-width="0.7" fill="none"/>
<path d="M497.4,111.7L493.6,111.1L488.9,111.9L485.1,111.2L481.9,111.8L478.4,110.3L475.9,108.6L472.6,107.4L469.9,107.1L464.9,101.8L462.1,100.1L456.4,94.7L455.6,93.0L456.2,91.7L458.6,89.6L460.4,88.7L464.1,88.1L466.6,86.2L469.1,83.1L472.3,82.0L476.1,78.5L483.9,74.2L486.4,71.4L489.6,70.3L490.1,69.5L490.7,65.5L495.5,59.2L499.4,55.7L502.9,54.7L504.4,55.3L506.5,57.7L508.0,61.2L507.8,68.7L509.3,74.7L508.8,78.5L509.4,82.0L509.1,88.2L508.2,92.0L509.0,95.5L508.7,103.5L508.0,107.5L507.1,108.7L503.4,110.1L500.0,110.5Z" fill="#fff" stroke="none"/>
<path d="M497.4,111.7L493.6,111.1L488.9,111.9L485.1,111.2L481.9,111.8L478.4,110.3L475.9,108.6L472.6,107.4L469.9,107.1L464.9,101.8L462.1,100.1L456.4,94.7L455.6,93.0L456.2,91.7L458.6,89.6L460.4,88.7L464.1,88.1L466.6,86.2L469.1,83.1L472.3,82.0L476.1,78.5L483.9,74.2L486.4,71.4L489.6,70.3L490.1,69.5L490.7,65.5L495.5,59.2L499.4,55.7L502.9,54.7L504.4,55.3L506.5,57.7L508.0,61.2L507.8,68.7L509.3,74.7L508.8,78.5L509.4,82.0L509.1,88.2L508.2,92.0L509.0,95.5L508.7,103.5L508.0,107.5L507.1,108.7L503.4,110.1L500.0,110.5Z" fill="none" stroke="#3a3a3a" stroke-width="0.42"/>
<path d="M497.4,110.0L488.4,109.7L486.1,108.9L482.1,109.6L476.6,107.2L470.6,105.6L469.1,104.2L466.6,100.5L462.4,98.0L458.7,92.7L460.4,91.0L464.1,90.2L470.2,84.5L475.1,83.0L477.1,80.0L484.4,75.9L487.3,72.7L490.6,71.0L493.1,64.7L496.4,60.2L499.9,57.0L502.6,56.2L503.9,56.8L505.2,58.7L506.5,62.7L506.5,68.7L507.6,74.5L507.4,78.7L507.9,82.2L507.2,103.5L506.5,106.7L505.6,107.8L502.9,108.9L499.6,108.8Z" fill="#000" fill-opacity="0.02" stroke="#3a3a3a" stroke-width="0.42"/>
<path d="M496.9,109.2L487.1,107.9L482.4,108.2L470.9,104.7L469.2,103.0L467.9,100.0L463.4,97.0L461.3,93.2L462.1,92.4L465.4,91.9L466.3,89.0L470.3,85.5L476.1,83.9L478.0,80.7L483.9,77.6L487.9,73.2L491.3,71.2L493.4,67.2L494.1,64.5L496.7,60.7L500.1,57.5L502.4,56.8L504.3,58.5L505.9,63.2L506.0,68.7L507.4,82.5L506.5,103.5L505.8,106.5L504.6,107.6L502.4,108.3L499.4,107.9Z" fill="#000" fill-opacity="0.02" stroke="#3a3a3a" stroke-width="0.42"/>
<path d="M496.6,108.3L487.9,106.8L483.4,107.2L471.4,103.5L470.0,102.2L469.1,99.4L466.5,97.5L465.0,95.0L466.9,95.4L467.8,94.7L468.2,93.0L467.2,89.7L470.4,86.6L471.6,86.0L474.4,86.0L476.6,85.0L479.0,81.5L483.9,79.3L488.4,73.8L492.3,71.2L494.4,67.5L494.9,64.5L497.1,61.2L500.1,58.1L502.1,57.4L503.6,58.6L505.4,63.5L506.9,82.5L506.7,95.5L506.0,103.0L505.2,106.0L503.9,107.3L502.1,107.7L498.9,107.0Z" fill="#000" fill-opacity="0.02" stroke="#3a3a3a" stroke-width="0.42"/>
<path d="M495.9,107.3L494.4,107.1L492.0,105.7L492.1,103.9L489.6,104.1L484.7,101.2L484.1,98.5L482.9,97.1L481.7,97.7L482.7,100.2L482.3,101.2L479.6,102.1L477.8,101.5L477.7,100.2L479.4,97.7L479.5,95.0L481.1,93.5L483.6,92.7L485.3,91.0L484.4,89.6L481.1,87.9L478.1,88.5L477.6,87.2L479.4,82.5L484.1,80.7L488.9,74.3L493.1,71.6L495.2,68.2L495.6,64.8L497.4,61.7L500.4,58.7L501.9,58.1L503.1,59.1L504.9,63.5L506.5,82.0L506.2,96.5L505.3,103.5L504.2,106.2L502.1,107.0L497.6,105.8ZM470.9,91.0L469.4,90.9L468.6,89.7L470.4,87.8L471.9,87.4L472.5,88.0L472.5,89.2ZM472.6,102.0L471.6,101.9L470.9,101.2L470.1,96.5L471.0,95.0L472.4,94.3L473.6,94.9L475.6,99.2Z" fill="#000" fill-opacity="0.02" stroke="#3a3a3a" stroke-width="0.42"/>
<path d="M502.9,106.2L500.1,105.7L497.6,103.0L494.9,102.9L492.2,101.2L492.3,98.7L488.8,95.5L487.8,90.2L485.4,87.7L484.8,86.2L486.3,83.5L485.8,80.5L486.2,78.7L490.6,73.9L492.9,73.6L495.6,78.6L496.6,79.4L497.5,79.0L499.1,75.5L499.3,72.5L500.3,69.7L499.6,68.0L496.9,67.1L496.4,65.2L498.6,61.2L501.6,59.1L503.1,60.7L504.2,63.2L506.1,82.0L505.9,96.5L504.7,103.7L503.9,105.5Z" fill="#000" fill-opacity="0.02" stroke="#3a3a3a" stroke-width="0.42"/>
<path d="M502.6,105.5L500.4,104.9L498.1,101.5L494.9,100.5L494.5,97.5L490.8,95.0L489.7,90.5L487.3,86.7L488.6,83.4L490.9,82.7L492.9,81.2L496.4,82.6L499.0,81.0L499.3,77.2L501.2,71.0L501.2,66.2L500.9,65.3L499.0,64.5L498.7,63.2L499.4,61.6L501.1,60.8L502.4,61.5L503.4,63.4L505.7,81.7L505.6,96.0L504.4,103.1L503.6,104.8Z" fill="#000" fill-opacity="0.02" stroke="#3a3a3a" stroke-width="0.42"/>
<path d="M502.4,104.8L500.9,104.2L500.0,102.2L498.6,92.4L497.6,91.7L494.6,92.1L492.1,91.1L489.1,86.5L489.6,85.5L493.6,83.5L494.7,84.2L496.6,87.7L497.9,87.9L498.9,87.4L500.0,77.0L501.9,71.5L502.4,68.3L502.9,67.9L504.6,73.5L505.5,88.5L505.4,95.2L504.2,102.0L503.4,104.0Z" fill="#000" fill-opacity="0.02" stroke="#3a3a3a" stroke-width="0.42"/>
<path d="M502.4,103.5L501.6,103.1L501.0,101.7L499.5,89.5L500.2,86.5L500.6,76.7L503.1,71.8L504.1,73.7L505.0,80.5L505.1,94.2L503.6,101.9Z" fill="#000" fill-opacity="0.02" stroke="#3a3a3a" stroke-width="0.42"/>
<path d="M502.9,100.8L502.1,100.3L500.9,96.5L500.5,89.2L501.2,77.0L502.1,74.8L503.1,74.0L504.6,80.1L504.8,88.5L504.6,95.5Z" fill="#000" fill-opacity="0.02" stroke="#3a3a3a" stroke-width="0.42"/>
<path d="M502.9,98.2L501.7,96.7L501.1,93.5L501.6,80.0L502.6,76.3L504.1,80.0L504.4,88.2L504.3,95.0Z" fill="#000" fill-opacity="0.02" stroke="#3a3a3a" stroke-width="0.42"/>
<path d="M503.1,96.0L502.4,95.7L501.9,94.0L502.3,91.5L501.9,88.5L502.6,84.5L502.3,81.0L502.9,79.4L503.5,80.7L503.2,84.5L503.8,88.2L503.4,91.5L503.8,94.5Z" fill="#000" fill-opacity="0.02" stroke="#3a3a3a" stroke-width="0.42"/>
<path d="M503,66Q504.8,86 503.5,105" fill="none" stroke="#000" stroke-width="4.4" stroke-opacity="0.95" stroke-linecap="round" filter="url(#bl1)"/>
<ellipse cx="499.00" cy="62.00" rx="2.4" ry="3.4" transform="rotate(30 499.00 62.00)" fill="#000" fill-opacity="0.35" filter="url(#bl2)"/>
<line x1="468.70" y1="38.20" x2="468.70" y2="115.10" stroke="#888" stroke-width="0.8"/>
<line x1="434.10" y1="70.10" x2="511.90" y2="70.10" stroke="#888" stroke-width="0.8"/>
<rect x="497" y="70.6" width="13" height="36.3" fill="none" stroke="#000" stroke-width="1.0" stroke-dasharray="3.3,2.1"/>
<rect x="434.10" y="38.20" width="77.80" height="76.90" fill="none" stroke="#000" stroke-width="1.5"/>
<path d="M439.55,115.10v2.3M442.73,115.10v2.3M444.99,115.10v2.3M446.75,115.10v2.3M448.18,115.10v2.3M449.39,115.10v2.3M450.44,115.10v2.3M451.37,115.10v2.3M452.19,115.10v3.4M457.64,115.10v2.3M460.83,115.10v2.3M463.09,115.10v2.3M464.84,115.10v2.3M466.27,115.10v2.3M467.48,115.10v2.3M468.53,115.10v2.3M469.46,115.10v2.3M470.29,115.10v3.4M475.73,115.10v2.3M478.92,115.10v2.3M481.18,115.10v2.3M482.93,115.10v2.3M484.37,115.10v2.3M485.58,115.10v2.3M486.63,115.10v2.3M487.55,115.10v2.3M488.38,115.10v3.4M493.83,115.10v2.3M497.01,115.10v2.3M499.27,115.10v2.3M501.03,115.10v2.3M502.46,115.10v2.3M503.67,115.10v2.3M504.72,115.10v2.3M505.64,115.10v2.3M506.47,115.10v3.4M434.10,109.72h-2.3M434.10,106.57h-2.3M434.10,104.33h-2.3M434.10,102.60h-2.3M434.10,101.18h-2.3M434.10,99.99h-2.3M434.10,98.95h-2.3M434.10,98.03h-2.3M434.10,97.22h-3.4M434.10,91.83h-2.3M434.10,88.68h-2.3M434.10,86.45h-2.3M434.10,84.72h-2.3M434.10,83.30h-2.3M434.10,82.10h-2.3M434.10,81.07h-2.3M434.10,80.15h-2.3M434.10,79.33h-3.4M434.10,73.95h-2.3M434.10,70.80h-2.3M434.10,68.57h-2.3M434.10,66.83h-2.3M434.10,65.42h-2.3M434.10,64.22h-2.3M434.10,63.18h-2.3M434.10,62.27h-2.3M434.10,61.45h-3.4M434.10,56.07h-2.3M434.10,52.92h-2.3M434.10,50.68h-2.3M434.10,48.95h-2.3M434.10,47.53h-2.3M434.10,46.34h-2.3M434.10,45.30h-2.3M434.10,44.38h-2.3M434.10,43.57h-3.4" stroke="#000" stroke-width="0.85" fill="none"/>
<text x="438.50" y="47.47" font-size="8.2" text-anchor="start" fill="#1a1a1a" textLength="10.03" lengthAdjust="spacingAndGlyphs">0.5</text>
<text x="506.50" y="47.47" font-size="8.2" text-anchor="end" fill="#1a1a1a" textLength="10.03" lengthAdjust="spacingAndGlyphs">3.7</text>
<text x="438.00" y="113.27" font-size="8.2" text-anchor="start" fill="#1a1a1a" textLength="10.03" lengthAdjust="spacingAndGlyphs">6.4</text>
<text x="509.60" y="113.17" font-size="8.2" text-anchor="end" fill="#1a1a1a" textLength="14.04" lengthAdjust="spacingAndGlyphs">89.4</text>
<rect x="407" y="49.6" width="36" height="11.4" fill="#fff"/>
<text x="408.00" y="59.40" font-size="7.8" text-anchor="start" fill="#1a1a1a">CD25<tspan font-size="6.2" dy="-3.4">bright</tspan></text>
<line x1="420.30" y1="62.50" x2="417.30" y2="72.50" stroke="#1a1a1a" stroke-width="0.9"/>
<path d="M415.8,77.3L414.6,71.6L416.9,72.6L419.3,71.2Z" fill="#000"/>
<text x="292.70" y="71.87" font-size="8.2" text-anchor="start" fill="#1a1a1a">Lineage<tspan font-size="6" dy="-3.5">-</tspan></text>
<text transform="translate(335.10,69.20) rotate(-90)" font-size="10.2" text-anchor="middle" fill="#1a1a1a" textLength="23" lengthAdjust="spacingAndGlyphs">CD44</text>
<text x="366.20" y="130.97" font-size="10.2" text-anchor="start" fill="#1a1a1a" textLength="23.8" lengthAdjust="spacingAndGlyphs">CD25</text>
<line x1="394.90" y1="127.40" x2="505.80" y2="127.40" stroke="#1a1a1a" stroke-width="1.0"/>
<path d="M511.80,127.40L503.60,124.10L505.60,127.40L503.60,130.70Z" fill="#000"/>
<path d="M401.4,116.5V129" stroke="#000" stroke-width="1" fill="none" stroke-dasharray="3.3,2.1"/>
<path d="M401.6,134.6L399.1,129L404.1,129Z" fill="#000"/>
<path d="M399.7,180.7h0.7M376.4,196.4h0.7M378.7,196.0h0.7M357.2,186.8h0.7M397.8,193.8h0.7M400.9,169.2h0.7M401.0,173.1h0.7M364.4,193.9h0.7M402.5,160.9h0.7M347.2,192.1h0.7M404.9,169.8h0.7M376.6,191.4h0.7M401.2,181.6h0.7M411.3,161.2h0.7M367.7,192.1h0.7M385.3,185.0h0.7M362.4,199.4h0.7M403.9,162.4h0.7M378.3,198.8h0.7M389.3,198.2h0.7M405.9,162.2h0.7M408.3,158.2h0.7M406.9,171.0h0.7M363.5,196.8h0.7M378.1,196.6h0.7M345.4,186.6h0.7M400.6,171.7h0.7M403.0,165.1h0.7M389.9,188.2h0.7M384.9,191.2h0.7M407.8,158.2h0.7M346.6,195.3h0.7M404.4,167.2h0.7M357.8,194.2h0.7M361.2,196.4h0.7M388.8,186.7h0.7M357.8,188.3h0.7M365.2,193.8h0.7M377.1,193.2h0.7M382.4,194.7h0.7M345.3,194.3h0.7M376.5,188.9h0.7M388.5,190.9h0.7M372.2,197.0h0.7M369.6,197.7h0.7M371.2,196.5h0.7M377.6,191.6h0.7M412.2,166.8h0.7M373.3,200.8h0.7M405.9,180.6h0.7M370.5,191.3h0.7M380.9,193.2h0.7M362.2,194.7h0.7M409.2,169.6h0.7M377.6,188.4h0.7M379.3,190.5h0.7M400.6,196.7h0.7M412.4,164.2h0.7M401.9,174.1h0.7M384.0,192.1h0.7M383.5,203.6h0.7M355.7,205.4h0.7M359.3,196.1h0.7M393.2,194.6h0.7M389.1,194.0h0.7M400.6,168.4h0.7M379.5,194.1h0.7M380.4,193.0h0.7M354.9,198.3h0.7M379.4,192.2h0.7M382.2,199.0h0.7M376.4,195.5h0.7M402.1,177.2h0.7M407.2,192.2h0.7M408.8,158.7h0.7M365.8,188.4h0.7M362.4,192.2h0.7M359.6,198.5h0.7M362.2,193.7h0.7M378.3,197.2h0.7M400.3,169.6h0.7M360.2,193.5h0.7M372.1,193.4h0.7M352.2,191.4h0.7M367.9,199.4h0.7M412.1,159.9h0.7M384.6,195.0h0.7M410.6,166.9h0.7M347.3,200.2h0.7M390.7,187.7h0.7M390.9,192.5h0.7M366.1,195.4h0.7M405.3,181.0h0.7M355.6,193.5h0.7M350.1,197.8h0.7M382.7,193.3h0.7M346.4,188.1h0.7M358.0,192.8h0.7M386.3,196.0h0.7M349.9,199.7h0.7M376.9,195.8h0.7M358.6,197.6h0.7M407.4,172.9h0.7M362.9,192.0h0.7M351.1,193.8h0.7M374.4,195.1h0.7M407.1,183.7h0.7M370.2,197.6h0.7M389.3,193.3h0.7M364.3,193.4h0.7M379.3,192.8h0.7M362.0,186.4h0.7M411.4,154.5h0.7M376.4,200.6h0.7M351.2,195.1h0.7M372.6,191.1h0.7M348.3,196.7h0.7M358.1,192.7h0.7M381.8,191.4h0.7M360.6,197.4h0.7M357.9,189.7h0.7M369.3,195.3h0.7M365.1,182.2h0.7M357.6,200.0h0.7M356.8,193.1h0.7M373.8,193.9h0.7M356.6,194.4h0.7M381.1,191.5h0.7M382.0,199.7h0.7M411.7,161.2h0.7M373.0,192.5h0.7M380.9,193.6h0.7M358.1,197.1h0.7M381.1,194.7h0.7M382.9,199.4h0.7M370.3,194.7h0.7M372.2,199.2h0.7M404.2,167.6h0.7M393.9,198.8h0.7M360.2,200.4h0.7M360.6,186.4h0.7M350.9,194.0h0.7M377.7,197.1h0.7M353.2,195.9h0.7M372.4,194.2h0.7M349.5,197.1h0.7M410.9,160.4h0.7M401.1,196.3h0.7M345.5,189.8h0.7M392.2,192.8h0.7M354.4,196.7h0.7M404.6,166.5h0.7M385.5,200.3h0.7M380.2,197.3h0.7M382.7,196.8h0.7M357.9,201.7h0.7M370.2,196.9h0.7M356.1,201.2h0.7M389.0,195.5h0.7M357.7,188.5h0.7M357.9,195.3h0.7M382.4,195.6h0.7M387.9,198.3h0.7M349.0,198.2h0.7M401.1,196.0h0.7M404.5,178.4h0.7M346.6,188.5h0.7M387.3,181.2h0.7M386.8,192.3h0.7M358.6,187.9h0.7M383.0,189.2h0.7M396.9,187.2h0.7M371.8,200.9h0.7M354.5,189.1h0.7M368.8,193.7h0.7M345.2,192.3h0.7M384.8,194.0h0.7M395.9,197.3h0.7M353.3,194.1h0.7M406.0,167.6h0.7M370.1,195.9h0.7M382.6,191.3h0.7M368.7,199.6h0.7M385.4,192.2h0.7M364.8,201.5h0.7M367.9,196.3h0.7M377.8,197.8h0.7M362.3,193.8h0.7M361.9,195.1h0.7M366.3,201.4h0.7M387.1,190.5h0.7M366.1,195.4h0.7M357.4,197.6h0.7M385.1,192.7h0.7M393.0,189.5h0.7M384.1,193.5h0.7M372.7,191.7h0.7M376.7,195.0h0.7M379.0,193.8h0.7M358.7,192.1h0.7M364.4,193.2h0.7M380.1,190.6h0.7M406.4,168.8h0.7M364.6,194.6h0.7M366.8,196.3h0.7M415.0,154.3h0.7M362.7,197.6h0.7M373.5,201.2h0.7M344.8,201.2h0.7M358.0,193.9h0.7M398.9,166.5h0.7M385.0,198.3h0.7M394.8,195.7h0.7M372.2,194.8h0.7M384.6,200.0h0.7M385.5,193.3h0.7M374.2,191.4h0.7M368.7,196.8h0.7M396.0,173.0h0.7M397.9,192.7h0.7M359.2,195.6h0.7M352.2,189.2h0.7M380.4,194.0h0.7M394.5,187.1h0.7M352.0,193.8h0.7M403.0,177.8h0.7M371.1,184.9h0.7M391.5,192.3h0.7M385.7,190.6h0.7M395.0,189.4h0.7M389.1,191.2h0.7M377.3,191.2h0.7M354.5,196.6h0.7M402.7,168.8h0.7M394.5,197.5h0.7M374.5,195.5h0.7M367.5,202.1h0.7M377.2,189.1h0.7M356.6,197.4h0.7M355.9,188.3h0.7M381.2,197.4h0.7M362.5,194.5h0.7M415.4,163.5h0.7M361.6,196.6h0.7M361.7,196.4h0.7M354.2,198.3h0.7M403.9,178.2h0.7M369.7,195.9h0.7M401.7,175.1h0.7M359.0,199.0h0.7M367.8,199.1h0.7M408.8,170.8h0.7M402.5,177.8h0.7M406.3,165.6h0.7M402.9,164.1h0.7M377.4,187.3h0.7M346.0,189.0h0.7M405.8,168.6h0.7M352.0,191.5h0.7M346.8,185.3h0.7" stroke="#777" stroke-width="0.7" fill="none"/>
<path d="M383.6,199.9L372.1,199.8L367.3,195.4L366.9,193.2L372.3,186.6L381.8,181.8L385.6,180.9L391.8,180.5L400.0,181.4L399.8,180.4L397.5,178.7L396.8,177.4L396.3,173.9L396.9,168.2L398.1,165.7L400.1,163.7L400.9,159.9L403.1,155.9L406.8,152.6L408.8,152.2L410.6,152.6L413.7,155.2L414.6,156.7L415.3,165.7L414.5,168.9L414.7,174.2L411.7,183.9L410.6,185.1L408.3,185.9L404.8,184.9L405.7,187.2L405.8,191.4L404.7,193.4L402.6,195.3L401.1,195.8L397.6,195.7L394.1,198.3L391.8,199.4Z" fill="#fff" stroke="none"/>
<path d="M383.6,199.9L372.1,199.8L367.3,195.4L366.9,193.2L372.3,186.6L381.8,181.8L385.6,180.9L391.8,180.5L400.0,181.4L399.8,180.4L397.5,178.7L396.8,177.4L396.3,173.9L396.9,168.2L398.1,165.7L400.1,163.7L400.9,159.9L403.1,155.9L406.8,152.6L408.8,152.2L410.6,152.6L413.7,155.2L414.6,156.7L415.3,165.7L414.5,168.9L414.7,174.2L411.7,183.9L410.6,185.1L408.3,185.9L404.8,184.9L405.7,187.2L405.8,191.4L404.7,193.4L402.6,195.3L401.1,195.8L397.6,195.7L394.1,198.3L391.8,199.4Z" fill="none" stroke="#3a3a3a" stroke-width="0.42"/>
<path d="M409.3,183.7L407.8,183.7L402.4,181.7L399.0,177.4L397.9,173.7L398.3,168.9L401.2,164.7L403.8,157.7L406.3,154.8L408.6,153.9L410.3,154.5L412.6,156.9L412.8,162.2L413.7,165.9L413.2,174.7L410.4,182.7ZM382.8,198.4L372.8,198.3L369.1,194.7L368.9,193.4L373.6,188.2L383.3,183.0L389.6,182.1L397.1,182.2L400.8,183.2L403.8,186.4L404.2,187.7L403.7,190.9L401.8,193.7L397.6,194.5L391.3,197.7L387.6,197.6Z" fill="#000" fill-opacity="0.025" stroke="#3a3a3a" stroke-width="0.42"/>
<path d="M408.6,182.7L403.1,180.9L399.8,177.2L398.7,173.4L399.3,168.9L403.5,163.9L403.4,161.2L404.3,157.9L406.6,155.5L408.6,154.8L410.1,155.3L411.6,157.2L411.5,161.4L412.9,166.2L412.7,174.7L409.4,182.2ZM405.6,170.2L405.8,168.8L404.6,167.5L404.2,169.2ZM381.1,197.9L377.1,197.3L373.1,197.5L371.8,196.4L370.2,193.7L373.8,189.4L382.1,184.2L388.8,182.7L396.3,182.6L400.6,183.6L403.1,186.4L403.4,187.7L402.9,190.4L401.1,192.6L391.8,196.4L387.1,196.7Z" fill="#000" fill-opacity="0.025" stroke="#3a3a3a" stroke-width="0.42"/>
<path d="M408.1,180.9L405.1,180.7L403.6,179.9L400.6,176.9L399.6,173.7L400.3,169.9L401.3,169.2L402.5,170.9L404.7,172.7L405.6,174.6L407.2,174.4L407.3,169.7L404.5,159.9L405.6,157.2L408.3,155.5L409.8,156.1L410.8,157.7L409.6,161.2L412.0,165.4L412.4,173.4L411.6,176.2ZM382.1,197.2L377.3,196.4L373.6,196.5L372.1,195.2L371.7,193.4L374.1,190.4L377.6,189.1L379.8,186.4L382.8,184.7L387.3,183.5L393.1,182.9L397.6,183.1L400.3,183.9L402.3,186.2L402.6,187.9L401.8,190.4L399.1,191.6L397.1,193.2L389.8,195.6L386.3,195.8Z" fill="#000" fill-opacity="0.025" stroke="#3a3a3a" stroke-width="0.42"/>
<path d="M407.6,161.3L405.9,160.4L405.5,158.9L406.7,156.9L408.6,156.4L409.5,157.2L409.8,158.2ZM410.6,175.9L409.3,175.7L408.4,172.9L408.3,170.2L406.8,164.4L407.6,161.9L410.3,163.9L411.3,166.7L411.8,173.7ZM402.3,176.4L400.9,175.2L401.3,173.6L402.8,174.7L402.9,175.9ZM406.6,179.4L405.5,179.2L405.3,178.4L406.1,177.2L407.3,177.0L407.8,177.4L407.8,178.4ZM389.3,194.4L386.8,194.4L381.8,192.2L380.1,190.2L380.3,187.4L383.1,185.5L389.6,183.6L396.8,183.3L399.5,183.9L400.8,184.9L401.9,187.2L401.1,189.2L398.6,189.9L396.1,192.7L392.3,192.8ZM375.8,194.5L374.1,194.3L373.4,193.4L374.2,191.7L375.8,191.0L377.3,191.9L376.7,193.7ZM382.6,196.2L380.8,196.2L380.4,195.4L381.6,194.4L382.8,194.4L383.6,195.4Z" fill="#000" fill-opacity="0.025" stroke="#3a3a3a" stroke-width="0.42"/>
<path d="M410.3,174.2L409.6,173.2L409.5,170.7L408.4,167.7L408.8,165.0L410.8,168.4L410.9,173.4ZM388.8,193.2L387.1,193.0L382.2,190.9L381.4,189.2L382.0,187.4L387.9,184.4L392.6,183.6L397.8,183.8L399.6,184.4L400.6,185.4L401.1,186.9L400.5,187.9L398.3,188.8L396.1,190.8Z" fill="#000" fill-opacity="0.025" stroke="#3a3a3a" stroke-width="0.42"/>
<path d="M389.3,191.9L387.3,191.9L383.6,190.2L383.0,189.2L383.5,187.9L388.0,184.9L392.1,184.0L397.3,184.0L399.9,185.4L400.0,186.9L396.6,189.3Z" fill="#000" fill-opacity="0.025" stroke="#3a3a3a" stroke-width="0.42"/>
<path d="M390.1,190.9L388.3,191.1L386.8,190.6L385.1,189.2L385.1,187.9L388.3,185.3L392.1,184.3L396.6,184.2L399.2,185.4L399.1,186.7L396.3,188.7Z" fill="#000" fill-opacity="0.025" stroke="#3a3a3a" stroke-width="0.42"/>
<path d="M390.1,190.2L387.8,190.1L386.4,188.7L386.7,187.4L388.7,185.7L394.3,184.5L397.1,184.8L398.4,185.7L398.1,186.7L395.8,188.4Z" fill="#000" fill-opacity="0.025" stroke="#3a3a3a" stroke-width="0.42"/>
<path d="M390.1,189.4L388.3,189.3L387.5,188.4L387.9,187.2L389.5,185.9L394.1,184.9L396.3,185.2L397.3,185.8L396.9,186.9L395.3,188.1Z" fill="#000" fill-opacity="0.025" stroke="#3a3a3a" stroke-width="0.42"/>
<path d="M392.1,188.4L389.6,188.5L388.9,187.7L390.0,186.4L392.6,185.5L394.8,185.5L396.1,186.1L394.8,187.7Z" fill="#000" fill-opacity="0.025" stroke="#3a3a3a" stroke-width="0.42"/>
<path d="M393.3,187.4L391.2,187.2L392.6,186.3L394.3,186.4Z" fill="#000" fill-opacity="0.025" stroke="#3a3a3a" stroke-width="0.42"/>
<ellipse cx="394.00" cy="186.20" rx="5.2" ry="1.8" transform="rotate(-12 394.00 186.20)" fill="#000" fill-opacity="0.95" filter="url(#bl1)"/>
<ellipse cx="393.50" cy="186.40" rx="3.6" ry="1.3" transform="rotate(-12 393.50 186.40)" fill="#000" fill-opacity="1.0" filter="url(#bl1)"/>
<ellipse cx="399.00" cy="188.50" rx="3" ry="1.1" transform="rotate(20 399.00 188.50)" fill="#000" fill-opacity="0.6" filter="url(#bl1)"/>
<ellipse cx="388.00" cy="191.00" rx="4" ry="1.6" transform="rotate(-5 388.00 191.00)" fill="#000" fill-opacity="0.35" filter="url(#bl1)"/>
<ellipse cx="410.50" cy="172.00" rx="1.2" ry="9" transform="rotate(-18 410.50 172.00)" fill="#000" fill-opacity="0.3" filter="url(#bl1)"/>
<path d="M405.3,147.0L414.5,151.6L418.7,163.2L416.8,175.5L411.9,189.3L406.8,185.5L399.6,179.3L393.8,171.6L396.1,156.2Z" fill="none" stroke="#000" stroke-width="1.2" stroke-linejoin="round"/>
<path d="M369.9,177.8L386.1,173.9L393.8,175.5L402.2,181.6L410.7,190.1L409.9,195.5L402.2,200.8L377.6,204.2L365.3,191.6Z" fill="none" stroke="#000" stroke-width="1.2" stroke-linejoin="round"/>
<rect x="343.30" y="137.40" width="77.70" height="77.00" fill="none" stroke="#000" stroke-width="1.5"/>
<path d="M348.74,214.40v2.3M351.92,214.40v2.3M354.18,214.40v2.3M355.93,214.40v2.3M357.36,214.40v2.3M358.57,214.40v2.3M359.62,214.40v2.3M360.54,214.40v2.3M361.37,214.40v3.4M366.81,214.40v2.3M369.99,214.40v2.3M372.25,214.40v2.3M374.00,214.40v2.3M375.43,214.40v2.3M376.64,214.40v2.3M377.69,214.40v2.3M378.61,214.40v2.3M379.44,214.40v3.4M384.88,214.40v2.3M388.06,214.40v2.3M390.32,214.40v2.3M392.07,214.40v2.3M393.50,214.40v2.3M394.71,214.40v2.3M395.76,214.40v2.3M396.68,214.40v2.3M397.51,214.40v3.4M402.95,214.40v2.3M406.13,214.40v2.3M408.39,214.40v2.3M410.14,214.40v2.3M411.57,214.40v2.3M412.78,214.40v2.3M413.83,214.40v2.3M414.75,214.40v2.3M415.58,214.40v3.4M343.30,209.01h-2.3M343.30,205.86h-2.3M343.30,203.62h-2.3M343.30,201.88h-2.3M343.30,200.47h-2.3M343.30,199.27h-2.3M343.30,198.23h-2.3M343.30,197.31h-2.3M343.30,196.49h-3.4M343.30,191.10h-2.3M343.30,187.95h-2.3M343.30,185.71h-2.3M343.30,183.98h-2.3M343.30,182.56h-2.3M343.30,181.36h-2.3M343.30,180.32h-2.3M343.30,179.41h-2.3M343.30,178.59h-3.4M343.30,173.20h-2.3M343.30,170.04h-2.3M343.30,167.80h-2.3M343.30,166.07h-2.3M343.30,164.65h-2.3M343.30,163.45h-2.3M343.30,162.41h-2.3M343.30,161.50h-2.3M343.30,160.68h-3.4M343.30,155.29h-2.3M343.30,152.14h-2.3M343.30,149.90h-2.3M343.30,148.16h-2.3M343.30,146.74h-2.3M343.30,145.55h-2.3M343.30,144.51h-2.3M343.30,143.59h-2.3M343.30,142.77h-3.4" stroke="#000" stroke-width="0.85" fill="none"/>
<text x="383.30" y="151.77" font-size="8.2" text-anchor="start" fill="#1a1a1a" textLength="14.04" lengthAdjust="spacingAndGlyphs">22.6</text>
<text x="356.50" y="171.37" font-size="8.2" text-anchor="start" fill="#1a1a1a" textLength="14.04" lengthAdjust="spacingAndGlyphs">75.4</text>
<path d="M490.2,182.8h0.7M465.9,192.4h0.7M502.7,159.6h0.7M458.9,197.9h0.7M445.3,193.0h0.7M498.2,176.5h0.7M502.0,155.0h0.7M446.9,193.1h0.7M491.8,165.6h0.7M448.8,188.7h0.7M479.2,194.2h0.7M453.2,192.2h0.7M441.8,191.9h0.7M480.8,193.1h0.7M476.0,194.7h0.7M449.2,201.7h0.7M498.7,164.3h0.7M502.0,164.7h0.7M455.8,190.7h0.7M452.1,198.2h0.7M478.3,196.9h0.7M502.6,167.1h0.7M463.4,189.4h0.7M447.6,190.3h0.7M445.5,190.9h0.7M468.7,195.2h0.7M453.0,194.6h0.7M489.8,173.9h0.7M473.7,196.3h0.7M447.5,196.3h0.7M444.9,201.0h0.7M487.8,181.4h0.7M473.4,194.8h0.7M459.2,195.1h0.7M482.9,186.2h0.7M443.4,187.1h0.7M470.0,183.2h0.7M486.4,197.9h0.7M477.2,188.5h0.7M440.6,195.0h0.7M466.3,198.9h0.7M439.9,189.6h0.7M471.4,194.6h0.7M499.6,169.7h0.7M479.8,189.4h0.7M500.0,170.4h0.7M500.8,159.6h0.7M449.7,196.8h0.7M470.3,190.7h0.7M454.8,192.6h0.7M446.2,194.9h0.7M470.7,196.1h0.7M474.3,187.3h0.7M475.9,194.7h0.7M494.4,167.9h0.7M457.8,193.2h0.7M476.4,198.4h0.7M448.9,193.7h0.7M456.5,198.5h0.7M494.0,168.3h0.7M484.0,193.7h0.7M466.4,195.9h0.7M445.7,200.4h0.7M454.5,196.0h0.7M458.3,195.8h0.7M466.3,197.3h0.7M445.4,193.5h0.7M461.2,193.8h0.7M488.8,180.4h0.7M457.2,200.0h0.7M471.9,199.6h0.7M463.4,194.8h0.7M454.0,192.1h0.7M478.2,187.5h0.7M476.2,189.2h0.7M486.4,172.9h0.7M461.5,197.3h0.7M466.7,190.6h0.7M462.9,193.0h0.7M500.1,160.6h0.7M491.4,175.3h0.7M497.9,161.4h0.7M472.7,201.5h0.7M464.4,189.4h0.7M497.0,164.9h0.7M471.8,190.4h0.7M494.6,173.3h0.7M477.9,197.6h0.7M465.1,191.9h0.7M463.5,192.3h0.7M463.0,198.0h0.7M453.8,192.2h0.7M465.5,190.7h0.7M454.3,194.1h0.7M454.5,196.9h0.7M488.3,193.7h0.7M489.4,166.5h0.7M443.1,197.6h0.7M479.4,194.1h0.7M499.7,162.6h0.7M449.2,201.8h0.7M506.0,160.8h0.7M459.4,191.1h0.7M489.1,174.8h0.7M442.3,190.1h0.7M444.6,189.7h0.7M480.2,196.2h0.7M446.1,198.1h0.7M476.1,185.0h0.7M444.4,199.3h0.7M469.0,186.2h0.7M464.1,198.1h0.7M438.0,194.5h0.7M500.0,166.0h0.7M482.8,188.8h0.7M497.8,171.0h0.7M501.5,160.3h0.7M446.7,188.6h0.7M440.0,199.9h0.7M452.4,197.8h0.7M448.3,195.1h0.7M445.7,191.6h0.7M475.4,196.5h0.7M442.3,196.8h0.7M462.3,195.7h0.7M496.1,170.5h0.7M467.3,199.5h0.7M485.3,186.7h0.7M455.9,185.1h0.7M473.1,189.5h0.7M454.5,191.0h0.7M460.2,189.0h0.7M463.1,203.2h0.7M448.9,186.8h0.7M505.4,159.0h0.7M471.3,188.4h0.7M467.0,195.6h0.7M472.3,195.9h0.7M476.6,195.0h0.7M489.3,186.0h0.7M443.2,194.2h0.7M468.3,195.4h0.7M459.3,195.4h0.7M463.6,198.2h0.7M446.9,193.8h0.7M486.8,184.6h0.7M440.4,188.3h0.7M479.4,196.7h0.7M469.6,191.7h0.7M489.3,190.4h0.7M477.4,192.3h0.7M486.3,195.9h0.7M504.3,158.6h0.7M436.0,192.1h0.7M460.9,198.8h0.7M458.1,191.8h0.7M493.9,166.0h0.7M465.9,190.0h0.7M441.9,189.7h0.7M442.5,191.6h0.7M464.0,190.9h0.7M447.8,192.5h0.7M463.6,194.0h0.7M469.1,194.1h0.7M471.2,186.4h0.7M495.7,173.2h0.7M446.3,196.0h0.7M476.0,197.3h0.7M492.2,173.5h0.7M471.5,191.2h0.7M450.6,192.1h0.7M476.2,202.6h0.7M462.2,197.1h0.7M475.7,194.8h0.7M465.8,193.6h0.7M446.9,192.8h0.7M447.1,184.4h0.7M453.6,187.3h0.7M449.1,191.2h0.7M447.2,193.5h0.7M477.9,192.6h0.7M464.8,195.3h0.7M488.7,194.6h0.7M451.7,197.0h0.7M458.4,197.7h0.7M452.9,193.7h0.7M491.1,182.1h0.7M455.9,197.9h0.7M468.0,197.8h0.7M483.1,197.1h0.7M493.0,170.3h0.7M438.8,191.2h0.7M450.6,196.5h0.7M443.6,194.0h0.7M449.0,199.6h0.7M449.0,190.9h0.7M468.5,194.7h0.7M495.4,166.0h0.7M460.7,189.9h0.7M466.0,196.2h0.7M444.8,198.0h0.7M476.0,191.5h0.7M451.3,194.2h0.7M451.5,197.9h0.7M496.7,169.5h0.7M436.6,193.9h0.7M485.7,183.1h0.7M478.1,197.2h0.7M463.4,196.0h0.7M482.9,187.7h0.7M449.6,193.5h0.7M458.6,198.1h0.7M479.5,194.1h0.7M474.6,194.0h0.7M466.1,194.9h0.7M496.0,156.2h0.7M497.2,165.0h0.7M473.0,194.3h0.7M453.3,193.7h0.7M458.5,199.7h0.7M464.6,197.8h0.7M443.1,191.4h0.7M493.1,179.0h0.7M437.9,195.5h0.7M443.1,197.6h0.7M478.5,191.0h0.7M479.7,193.1h0.7M496.7,171.9h0.7M464.4,192.6h0.7M440.0,193.7h0.7M471.2,198.4h0.7M471.1,198.0h0.7M479.8,197.4h0.7M480.4,185.1h0.7M439.2,197.5h0.7M479.9,202.3h0.7M479.8,191.5h0.7M478.6,193.5h0.7M470.5,194.5h0.7M484.7,190.8h0.7M466.7,194.9h0.7M482.4,198.0h0.7M497.3,169.3h0.7M465.9,195.5h0.7M444.3,194.9h0.7M485.1,189.4h0.7M442.6,196.6h0.7M440.2,194.0h0.7M440.8,196.2h0.7M495.6,169.4h0.7M442.9,197.8h0.7M495.4,181.7h0.7M459.3,198.6h0.7M475.7,201.8h0.7M487.1,186.5h0.7M482.1,197.1h0.7M505.4,159.2h0.7M465.1,194.6h0.7M464.0,190.4h0.7M464.6,191.8h0.7M465.8,192.6h0.7M465.1,197.0h0.7M491.8,179.5h0.7M447.0,187.4h0.7M460.9,189.9h0.7M464.8,197.4h0.7M463.9,190.3h0.7M505.1,151.6h0.7M468.2,197.7h0.7M492.3,180.3h0.7M499.0,157.7h0.7M460.5,192.1h0.7M497.5,177.3h0.7M449.7,187.1h0.7M467.5,193.0h0.7M446.7,196.1h0.7M458.7,192.7h0.7M444.8,187.8h0.7M460.8,192.7h0.7M472.0,197.8h0.7" stroke="#777" stroke-width="0.7" fill="none"/>
<path d="M472.2,199.9L467.2,199.9L462.2,199.0L458.2,194.2L458.6,191.7L461.7,188.3L468.5,184.9L470.9,182.8L474.4,182.2L476.9,180.5L479.4,180.0L488.3,180.7L486.6,177.9L486.3,175.7L487.4,170.4L487.3,167.4L488.8,163.4L491.7,159.8L492.5,156.9L493.7,155.5L499.2,152.3L501.4,152.3L505.6,156.4L506.5,164.2L506.2,168.9L505.3,171.7L505.1,177.4L502.6,184.7L501.4,185.6L497.2,186.5L496.6,191.7L492.7,195.4L486.9,197.8L480.7,198.7L477.9,199.8L474.4,199.1Z" fill="#fff" stroke="none"/>
<path d="M472.2,199.9L467.2,199.9L462.2,199.0L458.2,194.2L458.6,191.7L461.7,188.3L468.5,184.9L470.9,182.8L474.4,182.2L476.9,180.5L479.4,180.0L488.3,180.7L486.6,177.9L486.3,175.7L487.4,170.4L487.3,167.4L488.8,163.4L491.7,159.8L492.5,156.9L493.7,155.5L499.2,152.3L501.4,152.3L505.6,156.4L506.5,164.2L506.2,168.9L505.3,171.7L505.1,177.4L502.6,184.7L501.4,185.6L497.2,186.5L496.6,191.7L492.7,195.4L486.9,197.8L480.7,198.7L477.9,199.8L474.4,199.1Z" fill="none" stroke="#3a3a3a" stroke-width="0.42"/>
<path d="M497.7,184.4L495.8,183.9L489.4,179.0L488.2,177.4L487.9,175.9L489.5,166.2L490.4,164.2L492.8,161.9L493.9,157.4L495.4,156.0L500.2,154.2L503.4,156.3L504.2,157.7L504.8,163.9L504.0,171.4L504.2,175.7L503.5,178.7L501.3,183.4ZM478.2,197.9L463.7,197.8L460.2,194.4L459.7,192.9L462.9,189.3L471.7,184.9L474.2,184.2L477.9,181.8L484.2,181.8L490.7,182.8L492.4,183.5L494.9,187.2L495.2,188.9L494.8,190.7L492.7,193.0L487.2,196.1Z" fill="#000" fill-opacity="0.03" stroke="#3a3a3a" stroke-width="0.42"/>
<path d="M497.9,183.4L496.2,183.2L489.4,177.9L488.9,176.4L489.4,174.4L489.1,172.2L491.5,165.7L493.8,162.4L494.4,157.6L496.4,156.1L499.9,155.3L502.7,156.9L503.3,158.2L504.0,162.7L503.5,171.7L503.8,175.4L503.0,178.7L500.8,182.4ZM471.7,197.2L467.7,196.4L465.1,197.2L463.7,197.0L461.0,194.4L460.6,192.9L463.4,189.9L470.9,186.2L474.2,185.4L478.4,182.7L483.9,182.4L490.9,183.5L492.2,184.3L494.0,187.7L494.3,189.7L493.6,190.9L491.4,192.9L486.9,195.3L477.7,197.0Z" fill="#000" fill-opacity="0.03" stroke="#3a3a3a" stroke-width="0.42"/>
<path d="M499.2,182.2L496.7,182.1L490.4,177.8L489.9,176.4L490.6,174.4L489.8,172.2L490.7,169.5L494.1,165.7L494.8,162.9L494.5,159.4L494.9,157.9L496.4,156.7L499.2,156.1L502.0,157.7L503.1,160.9L503.4,175.2L502.5,178.7ZM471.7,196.2L470.2,196.2L467.7,195.0L464.2,196.2L461.9,194.3L461.6,193.2L464.2,190.7L470.9,187.1L474.2,187.0L477.9,184.1L484.7,183.1L490.2,183.8L492.2,185.4L493.5,189.4L490.9,192.2L488.7,192.9L485.4,194.9Z" fill="#000" fill-opacity="0.03" stroke="#3a3a3a" stroke-width="0.42"/>
<path d="M498.4,180.9L496.2,180.5L491.9,177.9L491.2,176.9L491.9,176.1L497.4,176.7L498.0,173.4L497.4,171.4L495.2,170.0L492.2,173.1L490.9,173.0L490.5,171.9L491.9,169.3L494.9,169.1L495.7,168.2L496.5,165.4L495.1,158.7L496.2,157.4L498.7,156.7L501.0,157.9L502.4,161.2L503.0,175.2L502.2,178.0L499.4,179.1ZM479.4,194.9L475.2,194.4L473.7,192.9L475.2,188.9L477.5,185.7L483.9,183.6L489.2,184.1L491.4,185.3L492.6,188.4L491.7,190.3L487.9,191.7L485.5,193.9ZM470.7,194.2L468.2,192.8L467.7,191.3L470.6,192.2L471.0,193.2Z" fill="#000" fill-opacity="0.03" stroke="#3a3a3a" stroke-width="0.42"/>
<path d="M501.4,177.4L500.2,177.3L499.4,176.5L498.9,171.9L497.1,168.9L497.3,164.9L495.6,159.4L496.1,158.2L497.7,157.4L499.9,158.2L501.6,162.2L502.5,175.2ZM479.7,193.9L477.2,193.7L475.9,192.4L476.6,189.2L478.4,186.3L481.9,184.5L484.2,184.1L488.9,184.6L491.1,185.9L491.6,187.9L490.9,189.2L485.2,192.4Z" fill="#000" fill-opacity="0.03" stroke="#3a3a3a" stroke-width="0.42"/>
<path d="M501.4,175.7L500.4,175.4L500.1,172.2L498.1,168.7L498.3,163.7L496.5,159.7L497.4,158.4L498.7,158.9L499.0,162.4L500.7,164.1L501.6,167.2L501.8,169.7L501.1,172.4L501.7,174.7ZM479.9,192.7L478.1,192.7L477.4,191.2L477.9,188.4L479.6,186.4L482.4,185.0L484.9,184.6L488.7,185.2L490.5,186.4L490.6,187.7L489.4,188.9L485.7,190.9Z" fill="#000" fill-opacity="0.03" stroke="#3a3a3a" stroke-width="0.42"/>
<path d="M500.4,170.4L499.0,168.4L499.7,165.7L501.1,168.7L501.0,169.9ZM479.9,191.2L478.7,190.6L478.7,188.7L479.7,187.2L481.9,185.7L485.7,185.2L489.2,186.7L489.1,187.9L486.2,189.9Z" fill="#000" fill-opacity="0.03" stroke="#3a3a3a" stroke-width="0.42"/>
<path d="M483.7,189.9L480.4,189.4L480.2,187.9L481.7,186.5L483.4,185.9L485.7,185.9L487.2,186.7L487.5,187.4L487.0,188.4Z" fill="#000" fill-opacity="0.03" stroke="#3a3a3a" stroke-width="0.42"/>
<path d="M484.4,188.9L482.3,188.9L481.7,187.7L483.2,186.7L485.2,186.8L485.7,187.9Z" fill="#000" fill-opacity="0.03" stroke="#3a3a3a" stroke-width="0.42"/>
<path d="M480,186Q484,183.5 490,185.5Q493,188 488,191Q482,192 479,189.5Z" fill="none" stroke="#000" stroke-width="1.8" stroke-opacity="0.95"/>
<ellipse cx="487.00" cy="189.00" rx="6" ry="2.2" transform="rotate(-10 487.00 189.00)" fill="#000" fill-opacity="0.3" filter="url(#bl1)"/>
<ellipse cx="501.50" cy="173.00" rx="1.4" ry="10" transform="rotate(-18 501.50 173.00)" fill="#000" fill-opacity="0.5" filter="url(#bl1)"/>
<path d="M496.3,147.0L505.5,151.6L509.7,162.4L508.2,174.7L502.9,189.3L497.1,183.9L490.9,178.5L484.8,171.2L487.1,156.2Z" fill="none" stroke="#000" stroke-width="1.2" stroke-linejoin="round"/>
<path d="M460.9,177.8L477.1,173.9L484.8,175.5L493.2,181.6L501.7,190.1L501.7,195.2L494.0,200.8L468.6,204.2L456.3,191.6Z" fill="none" stroke="#000" stroke-width="1.2" stroke-linejoin="round"/>
<rect x="434.20" y="137.40" width="77.80" height="77.00" fill="none" stroke="#000" stroke-width="1.5"/>
<path d="M439.65,214.40v2.3M442.83,214.40v2.3M445.09,214.40v2.3M446.85,214.40v2.3M448.28,214.40v2.3M449.49,214.40v2.3M450.54,214.40v2.3M451.47,214.40v2.3M452.29,214.40v3.4M457.74,214.40v2.3M460.93,214.40v2.3M463.19,214.40v2.3M464.94,214.40v2.3M466.37,214.40v2.3M467.58,214.40v2.3M468.63,214.40v2.3M469.56,214.40v2.3M470.39,214.40v3.4M475.83,214.40v2.3M479.02,214.40v2.3M481.28,214.40v2.3M483.03,214.40v2.3M484.47,214.40v2.3M485.68,214.40v2.3M486.73,214.40v2.3M487.65,214.40v2.3M488.48,214.40v3.4M493.93,214.40v2.3M497.11,214.40v2.3M499.37,214.40v2.3M501.13,214.40v2.3M502.56,214.40v2.3M503.77,214.40v2.3M504.82,214.40v2.3M505.74,214.40v2.3M506.57,214.40v3.4M434.20,209.01h-2.3M434.20,205.86h-2.3M434.20,203.62h-2.3M434.20,201.88h-2.3M434.20,200.47h-2.3M434.20,199.27h-2.3M434.20,198.23h-2.3M434.20,197.31h-2.3M434.20,196.49h-3.4M434.20,191.10h-2.3M434.20,187.95h-2.3M434.20,185.71h-2.3M434.20,183.98h-2.3M434.20,182.56h-2.3M434.20,181.36h-2.3M434.20,180.32h-2.3M434.20,179.41h-2.3M434.20,178.59h-3.4M434.20,173.20h-2.3M434.20,170.04h-2.3M434.20,167.80h-2.3M434.20,166.07h-2.3M434.20,164.65h-2.3M434.20,163.45h-2.3M434.20,162.41h-2.3M434.20,161.50h-2.3M434.20,160.68h-3.4M434.20,155.29h-2.3M434.20,152.14h-2.3M434.20,149.90h-2.3M434.20,148.16h-2.3M434.20,146.74h-2.3M434.20,145.55h-2.3M434.20,144.51h-2.3M434.20,143.59h-2.3M434.20,142.77h-3.4" stroke="#000" stroke-width="0.85" fill="none"/>
<text x="476.20" y="152.07" font-size="8.2" text-anchor="start" fill="#1a1a1a" textLength="14.04" lengthAdjust="spacingAndGlyphs">36.9</text>
<text x="444.20" y="171.27" font-size="8.2" text-anchor="start" fill="#1a1a1a" textLength="14.04" lengthAdjust="spacingAndGlyphs">60.9</text>
<text x="291.80" y="178.43" font-size="8.2" text-anchor="start" fill="#1a1a1a" textLength="16.2" lengthAdjust="spacingAndGlyphs">DN3</text>
<text transform="translate(335.10,175.60) rotate(-90)" font-size="10.2" text-anchor="middle" fill="#1a1a1a" textLength="15" lengthAdjust="spacingAndGlyphs">FSC</text>
<text x="371.10" y="229.67" font-size="10.2" text-anchor="start" fill="#1a1a1a" textLength="23.8" lengthAdjust="spacingAndGlyphs">CD27</text>
<line x1="399.00" y1="226.20" x2="505.50" y2="226.20" stroke="#1a1a1a" stroke-width="1.0"/>
<path d="M511.50,226.20L503.30,222.90L505.30,226.20L503.30,229.50Z" fill="#000"/>
<path d="M345.6,282.3h0.7M353.5,276.1h0.7M371.4,282.1h0.7M362.9,292.3h0.7M348.7,287.6h0.7M345.3,291.3h0.7M356.1,257.8h0.7M371.5,300.9h0.7M353.2,276.3h0.7M346.4,276.9h0.7M366.8,281.0h0.7M359.1,288.8h0.7M372.8,310.9h0.7M366.6,289.4h0.7M392.0,306.1h0.7M358.7,294.9h0.7M364.8,287.2h0.7M411.5,294.6h0.7M344.8,286.3h0.7M352.2,285.6h0.7M369.5,272.1h0.7M345.9,265.1h0.7M345.2,297.6h0.7M397.4,297.1h0.7M373.2,282.9h0.7M345.7,283.8h0.7M369.7,295.8h0.7M378.7,297.3h0.7M357.9,295.0h0.7M361.5,267.7h0.7M397.6,292.8h0.7M347.5,276.7h0.7M345.5,289.9h0.7M345.1,292.0h0.7M347.7,287.0h0.7M361.5,302.1h0.7M367.7,290.3h0.7M344.7,283.8h0.7M360.7,302.9h0.7M366.5,267.0h0.7M393.2,306.2h0.7M399.5,297.8h0.7M362.2,308.8h0.7M357.5,278.5h0.7M359.2,310.1h0.7M346.3,285.1h0.7M368.7,295.5h0.7M346.8,281.2h0.7M344.2,278.3h0.7M351.3,275.4h0.7M350.4,304.9h0.7M345.1,278.7h0.7M405.9,299.8h0.7M344.5,289.5h0.7M356.6,274.7h0.7M385.4,295.9h0.7M371.7,296.5h0.7M378.3,297.6h0.7M358.2,302.1h0.7M361.8,281.2h0.7M346.2,294.7h0.7M363.4,297.4h0.7M346.2,280.4h0.7M366.7,310.5h0.7M360.5,286.5h0.7M347.8,287.9h0.7M355.6,283.1h0.7M372.4,298.0h0.7M363.4,287.9h0.7M344.3,268.6h0.7M345.2,289.1h0.7M365.4,292.0h0.7M374.0,293.7h0.7M346.2,284.1h0.7M357.2,289.0h0.7M346.5,284.8h0.7M351.1,264.4h0.7M351.1,281.6h0.7M358.5,273.9h0.7M369.3,289.9h0.7M357.5,288.5h0.7M363.5,290.6h0.7M363.1,279.8h0.7M345.3,286.3h0.7M344.8,308.7h0.7M367.4,306.2h0.7M345.4,274.2h0.7M356.2,302.3h0.7M368.1,285.5h0.7M407.7,307.3h0.7M373.1,301.7h0.7M356.0,288.7h0.7M377.6,299.5h0.7M351.7,307.2h0.7M345.4,281.5h0.7M371.3,307.0h0.7M369.7,298.2h0.7M356.1,298.1h0.7M346.2,277.3h0.7M344.3,306.3h0.7M364.0,280.8h0.7M358.0,276.1h0.7M392.2,297.9h0.7M347.6,291.8h0.7M346.9,303.4h0.7M368.8,306.3h0.7M352.1,271.8h0.7M372.8,299.5h0.7M363.4,296.0h0.7M345.1,287.1h0.7M355.0,287.5h0.7M345.2,290.0h0.7M377.9,300.4h0.7M361.9,264.6h0.7M366.5,296.5h0.7M350.2,274.0h0.7M370.2,290.8h0.7M360.5,308.9h0.7M346.4,280.3h0.7M356.7,283.3h0.7M359.0,288.4h0.7M398.5,301.7h0.7M375.9,297.0h0.7M345.5,272.9h0.7M366.1,293.6h0.7M385.5,304.8h0.7M354.2,284.5h0.7M383.4,285.9h0.7M394.8,301.3h0.7M368.2,307.9h0.7M368.7,292.0h0.7M396.0,296.3h0.7M344.8,276.7h0.7M344.3,272.1h0.7M380.8,287.8h0.7M365.5,292.2h0.7M375.9,298.2h0.7M363.9,286.1h0.7M371.5,291.3h0.7M372.5,307.7h0.7M371.6,286.2h0.7M361.2,285.5h0.7M358.8,301.3h0.7M344.2,277.6h0.7M345.7,276.9h0.7M363.8,278.9h0.7M348.3,273.5h0.7M376.6,284.2h0.7M371.7,301.3h0.7M391.1,291.7h0.7M347.9,272.0h0.7M366.2,276.5h0.7M354.5,304.7h0.7M363.3,275.1h0.7M347.2,284.6h0.7M348.2,304.6h0.7M354.0,277.6h0.7M354.1,287.6h0.7M345.2,273.8h0.7M345.3,297.9h0.7M398.9,293.9h0.7M351.9,279.1h0.7M361.6,304.8h0.7M360.5,285.8h0.7M348.5,285.2h0.7M345.5,285.0h0.7M358.7,271.9h0.7M355.1,263.1h0.7M345.5,283.4h0.7M354.3,276.3h0.7M352.5,289.1h0.7M360.4,289.7h0.7M353.6,294.6h0.7M345.8,287.4h0.7M375.8,294.8h0.7M378.4,303.4h0.7M368.1,290.8h0.7M367.4,286.2h0.7M375.8,288.1h0.7M344.7,297.7h0.7M345.6,302.5h0.7M357.0,285.1h0.7M365.1,303.4h0.7M373.1,308.0h0.7M357.4,296.8h0.7M368.7,292.8h0.7M361.6,276.0h0.7M377.8,299.6h0.7M355.0,297.1h0.7M363.4,282.0h0.7M367.0,292.6h0.7M345.3,292.6h0.7M356.8,294.5h0.7M347.0,296.4h0.7M361.0,297.4h0.7M357.6,298.9h0.7M370.4,299.6h0.7M346.6,284.7h0.7M362.3,298.5h0.7M365.9,300.5h0.7M348.8,292.0h0.7M362.9,282.3h0.7M355.6,301.2h0.7M349.5,290.5h0.7M378.8,302.1h0.7M345.4,281.5h0.7M360.1,299.0h0.7M367.6,309.7h0.7M392.0,300.5h0.7M346.8,283.8h0.7M359.2,293.4h0.7M350.4,286.3h0.7M364.2,284.0h0.7M392.9,297.1h0.7M369.3,287.7h0.7M344.9,282.8h0.7M383.3,299.5h0.7M354.3,302.5h0.7M346.0,279.9h0.7M375.1,294.8h0.7M376.3,305.5h0.7M354.7,280.7h0.7M354.0,292.8h0.7M353.0,289.0h0.7M375.4,287.9h0.7M345.2,281.9h0.7M352.6,280.7h0.7M357.7,310.1h0.7M371.2,296.5h0.7M372.4,287.3h0.7M355.1,289.1h0.7M357.2,275.0h0.7M380.8,287.2h0.7M363.3,296.5h0.7M398.3,307.3h0.7M359.2,306.6h0.7M345.4,279.8h0.7M405.3,304.9h0.7M351.3,294.5h0.7M365.5,303.0h0.7M387.9,298.4h0.7M350.4,277.0h0.7M362.4,280.3h0.7M357.5,264.3h0.7M356.9,292.3h0.7M364.3,288.5h0.7M345.7,288.9h0.7M360.1,271.7h0.7M359.0,273.5h0.7M355.2,286.9h0.7M358.9,280.3h0.7M350.8,287.5h0.7M383.7,275.9h0.7M349.6,297.4h0.7M396.1,299.8h0.7M348.4,282.3h0.7M356.1,266.7h0.7M346.1,290.6h0.7M349.1,295.6h0.7M346.3,278.4h0.7M360.2,301.9h0.7M367.4,280.8h0.7M382.9,297.2h0.7M371.2,302.6h0.7M353.1,267.1h0.7M358.2,289.3h0.7M361.2,297.8h0.7M374.5,301.2h0.7M344.4,283.9h0.7M346.0,280.6h0.7M345.0,286.2h0.7M360.6,299.8h0.7M344.3,282.6h0.7M347.3,290.2h0.7M369.8,305.9h0.7M359.0,306.6h0.7M368.6,287.4h0.7M373.9,294.6h0.7M365.4,288.4h0.7M352.8,262.4h0.7M346.0,286.5h0.7M368.4,282.5h0.7M398.5,309.5h0.7M346.5,278.6h0.7M370.6,286.8h0.7M344.9,294.3h0.7M396.6,303.3h0.7M351.6,292.3h0.7M352.6,282.1h0.7M358.3,281.2h0.7M346.4,287.1h0.7M409.6,304.7h0.7M363.7,306.5h0.7M376.6,308.4h0.7M344.3,291.6h0.7M379.4,299.4h0.7M364.5,287.1h0.7M407.7,298.2h0.7M375.7,292.7h0.7M345.1,295.2h0.7M346.3,285.2h0.7M363.7,300.7h0.7M355.6,286.1h0.7M349.0,300.3h0.7M362.6,278.1h0.7M345.7,280.8h0.7M361.7,309.3h0.7M365.4,296.9h0.7M358.6,288.6h0.7M403.0,294.2h0.7M398.2,302.2h0.7M344.3,300.9h0.7M378.5,289.0h0.7M354.8,287.3h0.7M375.6,290.3h0.7M348.3,295.0h0.7M380.3,299.7h0.7M384.1,297.6h0.7M354.5,278.5h0.7M383.5,291.1h0.7M354.0,300.1h0.7M344.6,293.8h0.7M397.0,291.1h0.7M344.6,262.7h0.7M351.7,293.8h0.7M369.7,274.2h0.7M383.6,294.0h0.7M345.2,269.0h0.7M380.8,291.1h0.7M345.1,286.7h0.7M355.9,301.6h0.7M358.0,279.4h0.7M360.2,277.1h0.7M346.1,288.5h0.7M360.1,301.8h0.7M366.6,298.3h0.7M346.0,281.0h0.7M346.0,287.4h0.7M398.6,308.3h0.7M363.0,292.3h0.7M356.7,284.3h0.7M347.2,304.1h0.7M364.5,296.1h0.7M359.6,279.4h0.7M344.5,262.3h0.7M345.9,271.6h0.7M375.8,291.8h0.7M352.9,300.7h0.7M385.0,301.1h0.7M364.2,280.6h0.7M400.4,292.4h0.7M356.4,293.2h0.7M367.1,293.4h0.7M348.7,294.4h0.7M347.8,283.5h0.7M363.0,280.9h0.7M385.5,290.8h0.7M368.3,293.5h0.7M358.0,287.0h0.7M398.8,293.2h0.7M345.5,291.4h0.7M344.8,294.2h0.7M369.4,304.7h0.7M356.3,297.9h0.7M345.5,279.7h0.7M366.9,299.9h0.7M356.1,278.0h0.7M345.1,291.1h0.7M356.0,287.6h0.7M363.4,288.3h0.7M371.1,290.7h0.7M364.5,303.1h0.7M394.6,297.3h0.7M345.9,296.8h0.7M383.9,310.9h0.7M368.2,307.3h0.7M344.4,299.4h0.7M345.5,294.3h0.7M361.4,258.5h0.7M353.4,276.2h0.7M369.9,282.2h0.7M392.3,296.4h0.7M345.5,289.3h0.7M346.1,280.1h0.7M401.4,306.2h0.7M345.6,284.1h0.7M356.7,296.7h0.7M370.7,291.9h0.7M366.6,304.1h0.7M346.7,289.2h0.7M346.8,286.6h0.7M346.2,270.7h0.7M363.5,309.9h0.7M347.0,295.0h0.7M370.0,300.7h0.7M352.7,287.6h0.7M345.5,293.4h0.7M365.7,268.9h0.7M344.7,291.2h0.7M373.5,291.4h0.7M345.3,282.8h0.7M370.6,294.5h0.7M346.6,272.7h0.7M374.8,307.1h0.7M361.9,278.9h0.7M372.6,294.3h0.7M359.3,296.1h0.7M358.5,286.9h0.7M345.7,305.1h0.7M344.6,294.1h0.7M354.7,308.5h0.7M346.4,272.2h0.7M345.6,271.3h0.7M363.3,294.9h0.7M364.2,294.9h0.7M354.9,293.0h0.7M382.9,297.7h0.7M373.8,261.7h0.7M360.7,307.7h0.7M367.8,289.8h0.7M364.3,279.4h0.7M386.3,296.5h0.7M412.4,299.8h0.7M356.2,261.6h0.7M358.9,276.1h0.7M357.6,302.5h0.7M354.6,298.9h0.7M355.2,272.1h0.7M374.3,279.0h0.7M344.4,273.5h0.7M350.8,296.5h0.7M366.0,291.5h0.7M364.1,281.0h0.7M356.6,276.5h0.7M362.5,271.0h0.7M344.4,292.5h0.7M406.8,297.2h0.7M361.7,301.4h0.7M359.0,270.2h0.7M362.7,290.7h0.7M345.6,265.8h0.7M371.3,276.7h0.7M357.4,275.5h0.7M344.8,280.1h0.7M378.5,295.4h0.7M360.8,286.8h0.7M398.6,306.7h0.7M356.3,277.7h0.7M346.8,275.9h0.7M354.0,282.9h0.7M354.0,285.6h0.7M346.9,290.1h0.7M369.8,308.4h0.7M365.7,303.4h0.7M376.2,292.9h0.7M365.7,298.8h0.7M362.6,270.6h0.7M383.8,305.9h0.7M357.1,294.7h0.7M353.1,308.2h0.7M356.9,304.9h0.7M359.7,306.0h0.7M353.7,289.4h0.7M373.9,276.8h0.7M389.7,305.5h0.7M347.1,305.8h0.7M373.8,292.0h0.7M371.3,310.1h0.7M358.0,288.6h0.7M344.7,304.9h0.7M376.8,274.0h0.7M365.5,295.9h0.7M351.1,288.3h0.7M375.9,310.0h0.7M345.3,306.9h0.7M368.4,306.0h0.7M349.2,288.9h0.7M353.5,267.7h0.7M371.6,300.8h0.7M378.5,290.0h0.7M371.4,279.5h0.7M346.4,281.1h0.7M345.5,295.8h0.7M344.4,274.7h0.7M349.2,277.7h0.7M348.9,289.5h0.7M344.6,286.3h0.7M361.3,280.2h0.7M348.8,276.7h0.7M366.8,277.9h0.7M346.4,279.9h0.7M361.5,293.3h0.7M379.8,283.1h0.7M344.7,283.3h0.7M345.5,305.6h0.7M346.7,287.8h0.7M355.6,262.2h0.7M354.1,282.7h0.7M345.1,289.1h0.7M348.7,291.5h0.7M368.2,295.4h0.7M371.4,309.4h0.7M346.8,293.4h0.7M379.8,288.3h0.7M345.1,283.1h0.7M352.8,289.2h0.7M363.0,271.0h0.7M353.9,274.1h0.7M347.9,287.9h0.7M345.9,275.1h0.7M348.8,293.4h0.7M370.4,282.2h0.7M361.4,300.4h0.7M368.5,289.6h0.7M346.5,284.0h0.7M359.6,289.0h0.7M397.7,306.2h0.7M364.5,292.2h0.7M350.4,289.1h0.7M364.7,280.1h0.7M380.1,292.6h0.7M417.9,293.4h0.7M369.2,291.8h0.7M375.3,279.6h0.7M369.7,301.3h0.7M383.6,293.1h0.7M351.6,297.6h0.7M362.9,273.4h0.7M371.8,282.1h0.7M346.3,286.4h0.7M354.2,278.9h0.7M373.1,309.2h0.7M362.6,300.4h0.7M344.3,294.3h0.7M350.4,308.2h0.7M368.9,288.8h0.7M347.3,296.1h0.7M360.5,290.4h0.7M367.4,308.1h0.7M383.2,293.9h0.7M391.0,302.5h0.7M380.4,292.3h0.7M346.0,273.2h0.7M409.6,295.4h0.7M401.4,300.1h0.7M377.7,283.7h0.7M368.0,297.8h0.7M359.7,304.7h0.7M351.5,271.6h0.7M361.6,276.4h0.7M368.6,300.4h0.7M355.0,275.0h0.7M345.6,296.2h0.7M384.0,306.8h0.7M363.0,292.8h0.7M360.3,299.9h0.7M375.4,286.7h0.7M371.1,298.0h0.7M354.9,272.7h0.7M367.3,276.0h0.7M404.8,302.4h0.7M357.8,284.8h0.7M364.0,294.5h0.7M344.6,305.8h0.7M368.2,304.9h0.7M366.1,285.1h0.7M371.1,300.0h0.7M373.2,298.8h0.7M375.4,292.8h0.7M371.5,295.5h0.7M362.5,287.4h0.7M375.2,299.3h0.7M379.0,277.4h0.7M348.0,309.8h0.7M357.4,299.1h0.7M346.9,283.8h0.7M401.1,299.2h0.7M365.2,296.9h0.7M363.3,306.2h0.7M345.2,280.8h0.7M348.5,286.2h0.7M365.0,289.2h0.7M403.0,298.0h0.7M345.9,287.9h0.7M367.8,302.6h0.7M350.2,306.6h0.7M350.6,273.8h0.7M344.8,269.2h0.7M351.2,287.1h0.7M380.1,297.3h0.7M349.7,309.0h0.7M345.8,303.3h0.7M352.6,286.9h0.7M360.5,289.8h0.7M359.0,262.9h0.7M359.1,272.9h0.7M354.3,292.1h0.7M349.1,297.5h0.7M344.8,271.2h0.7M364.5,268.6h0.7M365.2,283.5h0.7M346.8,303.7h0.7M345.5,267.4h0.7M367.8,308.6h0.7M346.5,278.9h0.7M372.0,303.4h0.7M381.4,310.6h0.7M344.8,306.1h0.7M350.5,289.2h0.7M344.5,288.9h0.7M380.0,304.2h0.7M372.6,287.8h0.7M348.5,284.9h0.7M368.6,304.1h0.7M365.4,300.0h0.7M344.6,273.1h0.7M351.4,275.9h0.7M390.7,289.3h0.7M345.9,281.4h0.7M355.0,300.6h0.7M378.0,281.2h0.7M347.2,281.6h0.7M345.9,300.9h0.7M368.4,294.2h0.7M345.4,285.3h0.7M347.5,277.0h0.7M358.1,309.4h0.7M371.1,293.9h0.7M376.7,305.9h0.7M346.3,279.4h0.7M367.8,309.3h0.7M358.7,285.0h0.7M378.4,310.3h0.7M373.7,276.8h0.7M369.6,296.6h0.7M344.6,280.4h0.7M369.5,272.5h0.7M378.1,304.5h0.7M373.2,293.9h0.7M345.9,302.9h0.7M370.8,284.9h0.7M348.3,265.6h0.7M351.1,293.9h0.7M411.5,302.2h0.7M364.9,293.7h0.7M352.6,288.1h0.7M345.0,268.8h0.7M358.6,280.5h0.7M372.0,279.8h0.7M349.9,298.5h0.7M346.3,287.5h0.7M397.8,298.1h0.7M377.3,265.1h0.7M345.6,279.2h0.7M380.8,301.2h0.7M364.9,263.6h0.7M380.8,299.8h0.7M344.7,294.7h0.7M356.7,265.1h0.7M358.9,279.5h0.7M376.9,273.5h0.7M363.9,309.6h0.7M361.3,279.4h0.7M368.6,277.1h0.7M372.2,288.8h0.7M369.8,283.5h0.7M359.0,285.4h0.7M377.6,295.8h0.7M352.8,287.1h0.7M344.2,275.1h0.7M354.8,275.2h0.7M355.4,300.3h0.7M345.0,286.3h0.7M365.3,296.8h0.7M405.2,310.3h0.7M368.1,296.7h0.7M344.8,279.9h0.7M359.8,274.0h0.7M368.0,281.1h0.7M364.6,309.0h0.7M344.5,281.3h0.7M359.9,290.1h0.7M352.4,244.1h0.7M353.0,302.0h0.7M402.2,296.9h0.7M356.7,281.4h0.7M362.8,309.5h0.7M367.6,285.0h0.7M356.3,293.6h0.7M374.4,294.6h0.7M388.6,297.8h0.7M386.7,308.7h0.7M363.5,285.9h0.7M344.7,292.9h0.7M355.6,273.9h0.7M368.7,288.4h0.7M352.1,277.5h0.7M368.2,295.2h0.7M367.7,295.3h0.7M374.1,305.3h0.7M347.4,282.5h0.7M374.2,303.6h0.7M358.8,285.7h0.7M354.1,298.3h0.7M355.1,286.7h0.7M366.1,284.7h0.7M368.1,288.1h0.7M361.4,305.4h0.7M363.8,290.5h0.7M369.6,303.1h0.7M375.1,294.0h0.7M377.8,300.4h0.7M344.2,286.7h0.7M369.4,293.8h0.7M396.8,297.6h0.7M361.8,257.2h0.7M344.6,298.8h0.7M350.2,285.4h0.7M372.1,295.5h0.7M358.5,298.2h0.7" stroke="#777" stroke-width="0.7" fill="none"/>
<path d="M399.7,304.7L396.2,304.9L394.1,303.2L393.1,301.2L392.5,296.4L393.3,293.4L392.2,286.2L393.0,281.4L392.3,277.4L392.4,272.4L393.4,271.1L397.2,270.0L406.9,272.6L411.3,280.4L411.2,286.4L410.1,293.9L408.1,299.4L404.7,303.8Z" fill="#fff" stroke="none"/>
<path d="M399.7,304.7L396.2,304.9L394.1,303.2L393.1,301.2L392.5,296.4L393.3,293.4L392.2,286.2L393.0,281.4L392.3,277.4L392.4,272.4L393.4,271.1L397.2,270.0L406.9,272.6L411.3,280.4L411.2,286.4L410.1,293.9L408.1,299.4L404.7,303.8Z" fill="none" stroke="#333" stroke-width="0.45"/>
<path d="M399.9,302.5L397.9,302.4L396.7,300.9L396.7,297.9L395.4,295.4L394.1,286.4L394.2,284.9L395.4,282.7L394.3,277.7L394.6,273.7L395.3,272.7L397.2,271.9L400.7,273.2L405.7,274.1L409.3,280.2L408.8,282.7L409.1,286.9L406.4,298.4L403.9,301.2Z" fill="#000" fill-opacity="0.015" stroke="#333" stroke-width="0.45"/>
<path d="M399.4,301.5L398.0,300.7L398.0,297.9L396.5,293.4L396.4,289.7L394.9,286.4L396.3,282.9L395.2,279.2L395.5,274.4L396.1,273.2L397.2,272.7L400.4,273.9L405.2,274.7L408.6,280.2L407.9,282.4L408.3,286.4L405.5,298.2L403.9,299.5L401.4,299.8Z" fill="#000" fill-opacity="0.015" stroke="#333" stroke-width="0.45"/>
<path d="M404.7,293.5L403.0,293.2L401.9,290.7L396.1,286.7L396.4,284.9L398.9,283.2L396.9,281.9L396.0,279.9L397.2,273.9L400.9,275.2L401.9,277.8L402.7,277.4L403.6,275.7L404.9,275.7L407.5,279.2L407.7,280.4L406.8,282.4L407.6,286.2L406.0,291.9ZM403.9,298.0L402.4,296.9L402.6,295.7L403.7,295.5L404.4,296.0L404.6,297.2Z" fill="#000" fill-opacity="0.015" stroke="#333" stroke-width="0.45"/>
<path d="M404.4,291.5L399.7,287.2L397.6,286.2L397.7,285.6L399.9,284.5L401.0,282.7L400.4,281.3L397.7,281.2L396.8,280.2L397.1,278.2L398.7,276.8L399.5,276.9L401.2,279.4L402.7,279.2L404.7,277.5L406.6,279.2L406.6,280.2L405.2,282.2L406.7,284.4L406.9,285.9L405.4,290.5Z" fill="#000" fill-opacity="0.015" stroke="#333" stroke-width="0.45"/>
<path d="M404.4,289.1L402.7,288.6L401.2,286.7L401.1,285.4L402.2,284.2L403.4,284.2L405.4,285.4L405.3,287.7Z" fill="#000" fill-opacity="0.015" stroke="#333" stroke-width="0.45"/>
<path d="M386.7,307.7L381.4,306.1L378.1,303.2L372.0,296.2L370.3,293.4L367.4,290.7L366.2,286.9L363.1,282.9L362.7,281.7L367.2,274.2L369.9,272.3L376.7,265.5L379.7,264.3L384.7,263.6L388.2,264.1L392.4,266.2L393.1,267.9L393.8,274.4L393.0,288.9L390.6,303.7L388.7,306.6Z" fill="#fff" stroke="none"/>
<path d="M386.7,307.7L381.4,306.1L378.1,303.2L372.0,296.2L370.3,293.4L367.4,290.7L366.2,286.9L363.1,282.9L362.7,281.7L367.2,274.2L369.9,272.3L376.7,265.5L379.7,264.3L384.7,263.6L388.2,264.1L392.4,266.2L393.1,267.9L393.8,274.4L393.0,288.9L390.6,303.7L388.7,306.6Z" fill="none" stroke="#333" stroke-width="0.45"/>
<path d="M387.2,305.5L382.9,304.8L381.3,303.7L373.7,295.3L371.9,292.3L368.9,289.9L367.6,285.9L364.7,281.9L368.5,275.7L371.3,273.4L377.1,266.9L378.9,265.8L382.2,265.0L385.2,264.8L388.2,265.3L390.9,266.5L391.9,268.4L392.4,275.2L391.6,289.2L388.7,303.4Z" fill="#000" fill-opacity="0.05" stroke="#333" stroke-width="0.45"/>
<path d="M386.7,304.6L383.4,304.3L382.0,303.4L374.6,295.2L372.4,291.8L369.6,289.4L368.1,285.7L365.4,281.9L369.3,276.2L377.6,266.9L380.2,265.8L384.4,265.1L387.9,265.6L391.1,267.2L391.9,274.7L390.9,290.9L387.9,302.9Z" fill="#000" fill-opacity="0.05" stroke="#333" stroke-width="0.45"/>
<path d="M385.9,303.8L382.9,303.4L380.7,300.5L376.4,296.4L372.9,291.4L370.2,288.9L368.6,285.2L366.2,281.9L377.9,267.2L380.4,266.0L384.4,265.4L387.7,265.8L390.7,267.2L391.2,268.4L391.6,274.9L390.6,290.7L387.1,302.4Z" fill="#000" fill-opacity="0.05" stroke="#333" stroke-width="0.45"/>
<path d="M384.7,303.2L383.1,302.7L381.2,299.9L376.8,295.9L370.7,288.1L367.1,281.9L371.7,275.7L376.2,270.7L378.2,267.4L380.9,266.2L384.9,265.6L387.9,266.1L390.5,267.4L391.3,275.4L391.0,284.4L390.1,290.9L388.4,294.9L386.3,302.2Z" fill="#000" fill-opacity="0.05" stroke="#333" stroke-width="0.45"/>
<path d="M384.9,302.2L383.6,301.9L381.7,299.1L377.5,295.7L375.7,292.7L371.3,287.4L368.6,281.9L372.6,275.9L375.7,273.1L378.6,267.7L381.1,266.4L384.7,265.9L387.9,266.4L390.3,267.7L390.9,275.4L390.6,284.4L389.8,290.2L387.7,294.2L385.7,301.4Z" fill="#000" fill-opacity="0.05" stroke="#333" stroke-width="0.45"/>
<path d="M384.7,300.7L383.7,300.4L382.8,297.4L380.4,297.3L378.7,295.9L376.6,292.2L372.7,287.9L370.5,281.2L371.2,279.4L373.2,277.9L374.2,276.4L376.2,275.4L379.2,267.9L381.4,266.8L384.7,266.2L387.6,266.7L389.9,267.9L390.5,275.4L390.2,284.4L389.4,289.1L388.8,291.2L386.9,293.7Z" fill="#000" fill-opacity="0.05" stroke="#333" stroke-width="0.45"/>
<path d="M379.9,293.4L375.5,289.2L374.3,287.4L374.6,286.7L376.2,286.0L376.9,284.7L375.9,280.2L378.1,277.7L380.4,268.2L383.4,266.8L386.7,266.9L389.2,268.1L389.2,269.8L388.4,270.6L383.4,271.9L382.8,273.4L383.4,275.4L384.4,276.0L386.2,275.4L388.4,272.8L389.4,273.5L390.0,275.7L389.4,285.5L388.4,287.5L384.7,288.5ZM386.2,283.9L386.9,282.2L386.2,280.7L384.6,283.4L385.2,284.1Z" fill="#000" fill-opacity="0.05" stroke="#333" stroke-width="0.45"/>
<path d="M384.7,269.2L383.4,269.1L383.3,267.9L384.4,267.4L385.7,267.7L385.8,268.4ZM380.4,280.6L379.8,280.2L380.2,279.5ZM380.9,289.0L379.7,288.7L378.6,286.9L378.7,285.3L379.7,284.1L380.7,284.7L381.7,287.4L381.7,288.4Z" fill="#000" fill-opacity="0.05" stroke="#333" stroke-width="0.45"/>
<ellipse cx="384.50" cy="266.60" rx="6.5" ry="1.9" transform="rotate(0 384.50 266.60)" fill="#000" fill-opacity="0.95" filter="url(#bl1)"/>
<ellipse cx="389.60" cy="279.00" rx="1.2" ry="9" transform="rotate(0 389.60 279.00)" fill="#000" fill-opacity="0.75" filter="url(#bl1)"/>
<ellipse cx="345.20" cy="285.00" rx="1.6" ry="13" transform="rotate(0 345.20 285.00)" fill="#000" fill-opacity="1.0" filter="url(#bl1)"/>
<ellipse cx="400.00" cy="310.50" rx="5" ry="1.2" transform="rotate(0 400.00 310.50)" fill="#000" fill-opacity="0.6" filter="url(#bl1)"/>
<ellipse cx="380.00" cy="286.00" rx="5" ry="12" transform="rotate(8 380.00 286.00)" fill="#000" fill-opacity="0.22" filter="url(#bl2)"/>
<line x1="392.60" y1="234.70" x2="392.60" y2="312.50" stroke="#777" stroke-width="0.8"/>
<rect x="343.20" y="234.70" width="77.80" height="77.80" fill="none" stroke="#000" stroke-width="1.5"/>
<path d="M348.65,312.50v2.3M351.83,312.50v2.3M354.09,312.50v2.3M355.85,312.50v2.3M357.28,312.50v2.3M358.49,312.50v2.3M359.54,312.50v2.3M360.47,312.50v2.3M361.29,312.50v3.4M366.74,312.50v2.3M369.93,312.50v2.3M372.19,312.50v2.3M373.94,312.50v2.3M375.37,312.50v2.3M376.58,312.50v2.3M377.63,312.50v2.3M378.56,312.50v2.3M379.39,312.50v3.4M384.83,312.50v2.3M388.02,312.50v2.3M390.28,312.50v2.3M392.03,312.50v2.3M393.47,312.50v2.3M394.68,312.50v2.3M395.73,312.50v2.3M396.65,312.50v2.3M397.48,312.50v3.4M402.93,312.50v2.3M406.11,312.50v2.3M408.37,312.50v2.3M410.13,312.50v2.3M411.56,312.50v2.3M412.77,312.50v2.3M413.82,312.50v2.3M414.74,312.50v2.3M415.57,312.50v3.4M343.20,307.05h-2.3M343.20,303.87h-2.3M343.20,301.61h-2.3M343.20,299.85h-2.3M343.20,298.42h-2.3M343.20,297.21h-2.3M343.20,296.16h-2.3M343.20,295.23h-2.3M343.20,294.41h-3.4M343.20,288.96h-2.3M343.20,285.77h-2.3M343.20,283.51h-2.3M343.20,281.76h-2.3M343.20,280.33h-2.3M343.20,279.12h-2.3M343.20,278.07h-2.3M343.20,277.14h-2.3M343.20,276.31h-3.4M343.20,270.87h-2.3M343.20,267.68h-2.3M343.20,265.42h-2.3M343.20,263.67h-2.3M343.20,262.23h-2.3M343.20,261.02h-2.3M343.20,259.97h-2.3M343.20,259.05h-2.3M343.20,258.22h-3.4M343.20,252.77h-2.3M343.20,249.59h-2.3M343.20,247.33h-2.3M343.20,245.57h-2.3M343.20,244.14h-2.3M343.20,242.93h-2.3M343.20,241.88h-2.3M343.20,240.96h-2.3M343.20,240.13h-3.4" stroke="#000" stroke-width="0.85" fill="none"/>
<text x="399.00" y="246.07" font-size="8.2" text-anchor="start" fill="#1a1a1a" textLength="14.04" lengthAdjust="spacingAndGlyphs">22.2</text>
<text x="346.30" y="310.27" font-size="8.2" text-anchor="start" fill="#1a1a1a" textLength="14.04" lengthAdjust="spacingAndGlyphs">77.0</text>
<path d="M436.9,300.5h0.7M456.9,302.4h0.7M455.7,289.3h0.7M463.1,281.5h0.7M447.6,308.7h0.7M436.0,288.6h0.7M445.6,288.0h0.7M442.8,310.2h0.7M439.4,258.0h0.7M459.9,279.4h0.7M481.3,300.0h0.7M456.7,302.9h0.7M446.4,275.3h0.7M436.5,274.4h0.7M448.3,298.4h0.7M437.1,283.9h0.7M440.6,304.2h0.7M465.6,285.5h0.7M435.9,291.3h0.7M473.7,297.6h0.7M438.2,282.6h0.7M463.7,297.2h0.7M460.6,283.8h0.7M496.2,300.4h0.7M451.7,283.7h0.7M443.8,298.1h0.7M444.9,281.9h0.7M457.4,270.1h0.7M455.8,303.2h0.7M454.1,272.6h0.7M438.0,284.2h0.7M437.6,274.3h0.7M450.3,303.1h0.7M445.3,298.0h0.7M437.1,278.3h0.7M444.3,290.6h0.7M445.9,299.6h0.7M491.2,292.1h0.7M450.8,262.5h0.7M461.4,291.0h0.7M442.9,305.2h0.7M449.8,308.8h0.7M497.8,289.5h0.7M469.2,293.5h0.7M483.8,297.6h0.7M463.0,291.3h0.7M437.9,292.6h0.7M458.5,309.1h0.7M452.7,301.0h0.7M440.1,305.4h0.7M447.7,291.3h0.7M452.6,276.5h0.7M446.2,290.5h0.7M437.3,298.0h0.7M441.9,284.8h0.7M446.7,302.9h0.7M435.9,294.8h0.7M441.0,306.0h0.7M436.3,285.7h0.7M436.6,287.0h0.7M437.3,288.3h0.7M436.0,299.5h0.7M451.0,297.9h0.7M450.0,275.1h0.7M452.6,305.8h0.7M452.1,309.4h0.7M446.7,289.1h0.7M452.4,299.8h0.7M463.4,305.6h0.7M438.7,293.1h0.7M443.2,289.0h0.7M443.6,292.3h0.7M442.3,280.8h0.7M455.6,275.6h0.7M438.4,294.3h0.7M444.9,284.8h0.7M462.4,310.4h0.7M445.4,310.7h0.7M439.0,287.4h0.7M441.7,300.0h0.7M457.4,300.4h0.7M442.6,306.5h0.7M456.7,281.0h0.7M467.7,289.4h0.7M436.1,283.6h0.7M438.5,278.1h0.7M439.1,269.0h0.7M460.8,294.6h0.7M456.9,297.3h0.7M460.9,287.3h0.7M448.8,277.0h0.7M437.9,294.3h0.7M453.2,289.6h0.7M443.2,283.0h0.7M457.9,296.2h0.7M438.2,299.2h0.7M450.0,298.3h0.7M447.0,296.4h0.7M450.0,269.1h0.7M438.0,269.8h0.7M451.2,292.9h0.7M437.3,288.5h0.7M445.9,300.2h0.7M437.1,286.2h0.7M459.5,300.2h0.7M465.8,294.7h0.7M471.6,293.9h0.7M445.9,294.4h0.7M445.7,274.0h0.7M465.4,309.8h0.7M456.7,285.5h0.7M454.3,288.0h0.7M451.1,304.4h0.7M482.2,308.4h0.7M452.8,303.3h0.7M459.7,307.5h0.7M437.7,275.0h0.7M436.1,289.7h0.7M437.3,286.1h0.7M454.4,309.2h0.7M451.0,297.5h0.7M444.1,288.7h0.7M438.4,279.5h0.7M459.5,294.0h0.7M476.8,301.5h0.7M443.3,279.9h0.7M464.2,279.4h0.7M452.7,288.5h0.7M495.1,309.0h0.7M449.8,301.1h0.7M463.5,300.3h0.7M464.0,298.3h0.7M458.7,290.8h0.7M451.3,294.4h0.7M459.5,287.7h0.7M486.6,296.3h0.7M457.7,287.6h0.7M437.5,279.3h0.7M454.4,296.9h0.7M444.1,293.5h0.7M441.0,302.2h0.7M436.4,283.3h0.7M441.6,300.9h0.7M458.7,303.8h0.7M437.9,301.7h0.7M454.3,284.4h0.7M455.1,294.3h0.7M448.3,293.2h0.7M455.8,278.2h0.7M436.5,281.5h0.7M457.9,307.0h0.7M451.3,254.3h0.7M462.6,308.3h0.7M439.0,298.0h0.7M436.5,290.2h0.7M446.8,296.6h0.7M458.2,288.0h0.7M436.7,284.2h0.7M436.9,281.4h0.7M459.0,293.0h0.7M444.1,284.5h0.7M463.6,265.0h0.7M445.9,288.5h0.7M461.7,308.4h0.7M467.7,299.2h0.7M435.9,274.2h0.7M447.2,282.6h0.7M456.1,305.4h0.7M444.0,284.6h0.7M461.0,282.9h0.7M439.0,303.3h0.7M459.5,306.2h0.7M447.1,300.0h0.7M447.1,293.2h0.7M462.8,290.2h0.7M453.7,295.9h0.7M463.3,308.9h0.7M456.0,288.5h0.7M503.2,296.5h0.7M466.5,278.9h0.7M444.1,275.3h0.7M464.6,294.0h0.7M471.2,290.9h0.7M468.3,300.9h0.7M446.6,283.6h0.7M454.1,297.4h0.7M468.9,295.6h0.7M474.7,269.8h0.7M459.1,289.9h0.7M453.6,288.5h0.7M436.7,291.9h0.7M436.6,280.3h0.7M440.3,280.5h0.7M466.7,295.4h0.7M468.9,296.0h0.7M446.0,292.6h0.7M443.5,293.5h0.7M464.6,289.5h0.7M436.5,269.6h0.7M476.6,293.4h0.7M436.0,286.5h0.7M436.1,280.2h0.7M467.6,300.5h0.7M441.9,299.0h0.7M470.3,305.6h0.7M458.8,292.1h0.7M484.6,301.0h0.7M437.1,288.1h0.7M443.3,291.6h0.7M438.3,288.4h0.7M447.8,293.6h0.7M454.4,264.2h0.7M470.0,305.3h0.7M436.0,258.3h0.7M450.4,290.0h0.7M461.1,294.5h0.7M449.8,275.9h0.7M457.1,275.2h0.7M447.6,270.7h0.7M454.7,296.7h0.7M456.2,303.4h0.7M444.4,279.4h0.7M441.4,255.2h0.7M436.5,283.1h0.7M450.3,309.2h0.7M436.8,277.0h0.7M440.2,277.0h0.7M438.0,268.2h0.7M437.5,277.8h0.7M457.8,291.0h0.7M436.1,281.3h0.7M450.7,296.5h0.7M448.3,287.8h0.7M466.4,304.6h0.7M444.4,294.8h0.7M445.2,301.6h0.7M436.7,281.9h0.7M449.4,270.1h0.7M457.3,293.6h0.7M440.8,301.0h0.7M463.5,302.3h0.7M450.1,307.8h0.7M452.0,286.5h0.7M444.9,286.6h0.7M450.3,285.1h0.7M452.2,303.4h0.7M460.6,302.4h0.7M442.5,297.3h0.7M436.6,290.5h0.7M446.2,280.9h0.7M443.1,296.6h0.7M437.2,289.1h0.7M443.4,302.2h0.7M466.0,300.2h0.7M452.6,286.9h0.7M438.5,291.9h0.7M461.4,304.1h0.7M437.3,283.7h0.7M453.4,288.4h0.7M488.7,301.3h0.7M436.3,270.0h0.7M436.9,289.0h0.7M450.8,273.4h0.7M495.3,294.5h0.7M459.6,310.4h0.7M461.6,285.2h0.7M460.7,289.7h0.7M466.1,282.2h0.7M450.2,286.3h0.7M449.0,293.0h0.7M445.3,301.6h0.7M444.3,267.5h0.7M442.1,305.7h0.7M452.8,292.6h0.7M456.4,297.8h0.7M436.6,272.7h0.7M447.3,294.2h0.7M451.0,286.6h0.7M442.2,288.4h0.7M436.3,278.5h0.7M436.8,281.2h0.7M450.6,298.0h0.7M445.1,288.6h0.7M456.4,302.7h0.7M454.2,291.4h0.7M442.0,286.2h0.7M436.7,292.3h0.7M456.0,287.2h0.7M436.5,284.7h0.7M441.9,262.1h0.7M438.0,277.6h0.7M456.3,293.2h0.7M453.0,280.4h0.7M441.8,279.2h0.7M465.2,306.7h0.7M446.5,286.5h0.7M458.5,274.8h0.7M436.7,289.5h0.7M468.1,290.3h0.7M440.3,279.1h0.7M461.5,266.1h0.7M460.3,290.9h0.7M448.6,281.4h0.7M438.1,274.2h0.7M436.0,282.3h0.7M464.0,285.2h0.7M439.8,294.3h0.7M463.0,296.1h0.7M450.2,290.6h0.7M443.1,298.2h0.7M464.9,290.2h0.7M462.5,292.5h0.7M437.0,277.8h0.7M455.0,279.9h0.7M469.6,306.9h0.7M456.9,300.6h0.7M438.6,275.4h0.7M437.7,304.3h0.7M456.3,279.6h0.7M452.2,302.8h0.7M461.0,298.9h0.7M448.1,280.4h0.7M447.7,305.5h0.7M443.5,285.1h0.7M454.5,302.4h0.7M444.4,301.7h0.7M439.9,299.0h0.7M436.3,306.3h0.7M436.3,272.5h0.7M447.9,296.1h0.7M458.3,301.9h0.7M494.8,305.1h0.7M457.6,288.7h0.7M464.2,271.2h0.7M448.1,293.3h0.7M451.9,256.8h0.7M436.3,272.4h0.7M436.6,287.3h0.7M491.6,299.1h0.7M437.3,301.4h0.7M436.2,289.2h0.7M458.0,276.7h0.7M460.9,307.5h0.7M436.7,300.0h0.7M499.7,290.9h0.7M443.5,308.0h0.7M445.5,301.9h0.7M468.3,286.5h0.7M436.6,293.6h0.7M458.3,296.5h0.7M446.8,281.8h0.7M436.0,293.4h0.7M462.7,290.8h0.7M476.0,301.0h0.7M474.7,290.2h0.7M463.1,295.6h0.7M442.3,310.3h0.7M457.7,280.0h0.7M461.6,309.9h0.7M442.7,298.2h0.7M444.9,299.8h0.7M449.7,283.3h0.7M448.9,299.3h0.7M453.8,280.5h0.7M437.9,282.5h0.7M459.6,282.5h0.7M436.4,287.0h0.7M463.5,300.2h0.7M450.9,287.7h0.7M446.8,286.6h0.7M468.6,277.3h0.7M454.4,297.7h0.7M453.7,297.0h0.7M458.0,306.3h0.7M444.7,296.9h0.7M445.7,291.8h0.7M459.5,297.0h0.7M460.4,265.5h0.7M457.0,298.9h0.7M456.4,292.2h0.7M437.2,270.6h0.7M450.2,283.7h0.7M455.0,291.6h0.7M437.4,280.6h0.7M464.6,292.8h0.7M436.7,289.6h0.7M446.7,302.0h0.7M459.7,294.7h0.7M449.6,296.5h0.7M443.0,285.0h0.7M439.0,289.1h0.7M453.2,307.8h0.7M439.6,256.4h0.7M461.4,310.0h0.7M435.9,296.6h0.7M436.7,276.8h0.7M436.7,293.2h0.7M448.0,280.8h0.7M436.8,296.1h0.7M447.4,286.7h0.7M467.1,285.0h0.7M436.1,266.9h0.7M465.4,295.0h0.7M450.5,276.5h0.7M451.5,290.1h0.7M448.5,268.6h0.7M452.0,281.3h0.7M436.1,288.9h0.7M446.0,309.7h0.7M447.9,280.5h0.7M468.0,309.3h0.7M436.7,263.8h0.7M439.5,298.0h0.7M437.2,282.6h0.7M478.3,310.4h0.7M468.6,302.3h0.7M438.9,285.7h0.7M458.8,296.5h0.7M452.1,292.7h0.7M486.4,294.6h0.7M438.2,272.4h0.7M483.3,305.5h0.7M457.9,279.2h0.7M456.8,277.6h0.7M436.1,289.5h0.7M465.3,282.7h0.7M443.1,295.6h0.7M437.1,301.2h0.7M438.2,286.4h0.7M451.1,284.7h0.7M455.4,289.6h0.7M450.8,286.0h0.7M474.4,303.8h0.7M437.7,273.5h0.7M473.5,293.3h0.7M437.0,292.1h0.7M479.0,292.2h0.7M436.6,297.4h0.7M440.0,286.2h0.7M436.0,294.8h0.7M455.0,289.6h0.7M451.5,309.2h0.7M449.4,278.1h0.7M457.4,301.9h0.7M457.8,308.1h0.7M470.4,293.2h0.7M437.2,277.7h0.7M440.8,303.0h0.7M436.0,290.8h0.7M471.0,301.2h0.7M436.1,272.7h0.7M445.9,306.5h0.7M436.7,280.2h0.7M463.0,308.9h0.7M439.4,290.7h0.7M450.8,287.6h0.7M457.6,297.1h0.7M467.0,293.8h0.7M483.9,306.0h0.7M437.2,285.5h0.7M435.8,288.4h0.7M453.5,301.0h0.7M443.7,310.2h0.7M452.9,280.9h0.7M450.1,305.1h0.7M479.8,304.2h0.7M436.8,289.2h0.7M442.2,283.6h0.7M463.1,272.8h0.7M436.7,299.4h0.7M460.2,296.9h0.7M458.3,291.4h0.7M436.7,291.3h0.7M439.7,291.2h0.7M435.9,286.8h0.7M482.8,290.4h0.7M468.3,304.3h0.7M436.8,279.9h0.7M453.0,262.0h0.7M436.2,267.0h0.7M461.1,303.2h0.7M456.8,294.3h0.7M461.0,300.5h0.7M437.4,285.0h0.7M437.1,277.9h0.7M466.9,300.1h0.7M438.6,277.4h0.7M435.8,272.8h0.7M481.1,295.5h0.7M495.0,291.4h0.7M446.6,279.4h0.7M436.9,276.2h0.7M446.9,278.5h0.7M458.3,308.4h0.7M436.3,294.8h0.7M442.0,279.9h0.7M437.3,281.9h0.7M446.8,286.9h0.7M442.9,299.2h0.7M462.3,300.9h0.7M452.1,291.6h0.7M473.4,300.9h0.7M454.5,310.9h0.7M469.6,306.2h0.7M437.8,280.0h0.7M448.3,292.0h0.7M457.6,307.9h0.7M456.7,296.8h0.7M466.9,302.1h0.7M452.9,279.8h0.7M471.7,289.4h0.7M466.5,308.2h0.7M457.1,301.1h0.7M453.0,302.2h0.7M444.9,286.3h0.7M476.2,289.5h0.7M455.1,277.3h0.7M436.2,278.0h0.7M442.7,303.4h0.7M443.9,295.3h0.7M466.1,310.1h0.7M442.6,304.8h0.7M437.0,262.9h0.7M439.4,287.2h0.7M436.1,292.8h0.7M437.4,301.9h0.7M464.2,297.3h0.7M437.0,282.3h0.7M472.0,292.7h0.7M455.5,302.6h0.7M474.2,288.3h0.7M442.3,285.9h0.7M458.6,285.7h0.7M456.3,273.1h0.7M456.0,300.3h0.7M443.2,288.9h0.7M436.3,261.0h0.7M448.1,292.2h0.7M454.9,302.0h0.7M452.2,264.7h0.7M450.9,292.8h0.7M459.0,291.7h0.7M457.3,290.4h0.7M436.1,273.6h0.7M481.2,302.2h0.7M454.8,301.8h0.7M445.2,290.2h0.7M438.3,298.3h0.7M436.8,294.0h0.7M436.6,289.3h0.7M447.0,301.2h0.7M468.9,309.7h0.7M446.6,280.5h0.7M466.9,284.6h0.7M455.8,295.6h0.7M445.2,302.2h0.7M436.9,287.6h0.7M459.0,307.3h0.7M443.3,298.4h0.7M461.3,278.5h0.7M461.0,303.0h0.7M457.5,311.0h0.7M456.0,309.8h0.7M449.9,293.5h0.7M437.4,276.1h0.7M437.0,286.4h0.7M449.9,272.4h0.7M457.6,302.8h0.7M447.2,290.2h0.7M447.0,308.5h0.7M436.1,266.1h0.7M510.5,287.4h0.7M449.8,270.8h0.7M457.4,267.8h0.7M436.0,284.1h0.7M448.7,297.3h0.7M457.0,301.2h0.7M466.7,308.6h0.7M446.4,274.6h0.7M437.1,298.1h0.7M475.3,278.8h0.7M441.9,300.1h0.7M462.4,306.2h0.7M436.9,280.4h0.7M441.2,292.3h0.7M454.3,295.1h0.7M455.7,300.2h0.7M436.9,301.5h0.7M456.4,277.2h0.7M443.0,286.0h0.7M458.9,294.3h0.7M445.8,268.1h0.7M437.6,290.5h0.7M453.2,288.8h0.7M447.1,297.7h0.7M436.0,302.1h0.7M470.5,298.8h0.7M451.8,297.3h0.7M495.5,305.4h0.7M445.0,285.5h0.7M467.4,293.6h0.7M437.8,293.6h0.7M505.6,293.0h0.7M454.8,294.6h0.7M455.3,301.8h0.7M436.4,286.5h0.7M453.3,293.9h0.7M455.3,290.2h0.7M456.9,305.4h0.7M436.7,302.4h0.7M436.4,290.3h0.7M437.2,280.7h0.7M497.2,291.7h0.7M441.5,271.6h0.7M456.7,282.7h0.7M436.2,285.5h0.7M439.1,264.0h0.7M436.2,266.6h0.7M464.3,299.5h0.7M444.6,286.5h0.7M455.2,304.4h0.7M436.9,279.1h0.7M452.9,296.3h0.7M436.9,273.7h0.7M456.0,293.4h0.7M456.9,295.5h0.7M457.4,297.8h0.7M466.8,305.3h0.7M451.6,294.5h0.7M437.2,297.4h0.7M503.4,291.0h0.7M438.2,291.0h0.7M438.1,291.9h0.7M455.6,282.6h0.7M453.6,301.2h0.7M456.2,288.6h0.7M499.2,296.5h0.7M475.3,303.2h0.7M477.9,296.6h0.7M458.4,285.4h0.7M440.6,291.4h0.7M449.1,299.3h0.7M459.6,270.9h0.7M454.2,293.5h0.7M470.5,308.8h0.7M452.5,286.6h0.7M455.6,307.9h0.7M459.1,307.4h0.7M458.3,295.2h0.7M436.6,278.8h0.7M454.3,287.6h0.7M451.8,301.1h0.7M439.1,293.0h0.7M436.2,305.5h0.7M436.9,282.5h0.7M480.0,289.7h0.7M443.0,271.8h0.7M464.6,306.8h0.7M449.3,283.9h0.7M483.2,287.3h0.7M451.8,296.2h0.7M436.5,284.8h0.7M447.0,303.5h0.7M438.0,299.4h0.7M444.5,302.2h0.7M443.4,310.4h0.7M451.0,305.2h0.7M454.1,298.5h0.7M462.1,283.4h0.7M451.1,280.4h0.7M436.9,295.3h0.7M442.6,291.3h0.7M455.6,297.9h0.7M463.1,310.7h0.7M437.1,278.2h0.7M450.1,284.7h0.7M452.4,276.2h0.7M462.8,285.4h0.7M492.0,290.5h0.7M438.1,310.9h0.7M462.2,288.6h0.7M436.2,283.1h0.7M458.1,267.6h0.7M447.5,295.0h0.7M465.9,294.7h0.7M436.0,280.0h0.7M446.2,287.6h0.7M435.9,289.2h0.7M437.2,279.0h0.7M449.8,289.0h0.7M473.5,291.2h0.7M465.1,284.7h0.7M436.7,284.2h0.7M437.8,283.8h0.7M453.8,298.3h0.7M457.6,287.7h0.7M448.4,305.9h0.7M438.4,275.3h0.7M449.8,309.8h0.7M443.6,261.8h0.7M509.4,306.9h0.7M437.5,298.4h0.7M457.0,303.4h0.7M448.0,302.1h0.7M448.8,294.6h0.7M487.3,300.2h0.7M447.8,295.2h0.7M436.6,299.8h0.7M456.9,277.1h0.7M461.9,307.6h0.7M463.9,265.4h0.7M466.2,306.2h0.7M467.1,279.5h0.7M467.5,297.5h0.7M436.4,283.1h0.7M436.6,284.8h0.7M454.9,284.1h0.7M453.2,283.3h0.7M436.5,301.5h0.7M471.2,301.1h0.7M437.3,274.8h0.7M450.2,300.7h0.7M439.4,296.1h0.7M443.4,293.3h0.7M485.2,302.5h0.7M442.3,288.0h0.7M500.4,300.1h0.7M455.8,309.4h0.7M466.2,268.2h0.7M439.3,280.1h0.7M437.0,293.5h0.7M436.7,268.2h0.7M479.8,294.7h0.7M495.4,290.8h0.7M453.3,269.6h0.7M436.9,278.6h0.7M458.3,304.2h0.7M452.0,308.0h0.7M436.0,277.3h0.7M456.1,305.8h0.7M448.0,297.7h0.7M445.2,278.0h0.7M467.0,304.4h0.7M436.4,279.8h0.7M468.2,288.3h0.7M445.1,284.6h0.7M444.2,297.9h0.7M450.5,304.9h0.7M437.4,287.1h0.7M443.8,291.6h0.7M437.0,285.1h0.7M461.0,284.8h0.7M436.4,299.3h0.7M458.0,304.2h0.7M436.3,290.6h0.7M446.4,285.5h0.7M451.8,302.2h0.7M461.1,286.8h0.7M438.3,269.1h0.7M438.0,278.3h0.7M448.4,303.9h0.7M449.4,286.4h0.7M453.6,265.9h0.7M456.3,301.3h0.7M467.3,302.9h0.7M441.6,282.9h0.7M474.8,291.1h0.7M452.6,304.1h0.7M454.8,289.2h0.7M461.0,298.2h0.7M450.7,293.4h0.7M460.0,293.8h0.7M461.0,286.6h0.7M452.7,307.6h0.7M469.0,289.0h0.7M447.0,295.9h0.7M437.5,283.5h0.7M452.8,304.2h0.7M441.1,293.3h0.7M446.5,286.8h0.7M459.8,280.7h0.7M437.3,286.8h0.7M436.5,295.1h0.7M451.5,268.9h0.7M451.0,293.6h0.7M447.3,291.4h0.7M454.7,297.8h0.7M464.0,275.2h0.7M455.5,291.8h0.7M451.3,288.2h0.7M446.6,303.8h0.7M454.8,293.6h0.7M436.6,288.8h0.7M457.5,304.3h0.7M436.6,274.8h0.7M469.2,287.4h0.7M436.1,285.5h0.7M469.4,294.9h0.7M467.5,306.7h0.7M441.3,288.6h0.7M436.3,274.3h0.7M447.1,297.4h0.7M438.5,275.2h0.7M452.5,282.2h0.7M443.4,305.3h0.7M446.4,290.7h0.7M458.2,302.6h0.7M445.5,286.7h0.7M503.1,303.1h0.7M437.6,294.9h0.7M458.2,280.4h0.7M449.3,264.5h0.7M437.0,278.6h0.7M436.5,280.4h0.7M458.4,287.4h0.7M467.6,287.9h0.7M469.5,255.7h0.7M487.7,289.0h0.7M486.7,285.1h0.7M444.5,303.6h0.7M463.5,300.9h0.7M445.4,290.5h0.7M450.9,281.8h0.7M447.4,288.1h0.7M467.3,306.2h0.7M450.4,276.3h0.7M456.0,284.3h0.7M460.7,295.9h0.7M445.1,298.4h0.7M448.4,291.3h0.7M459.8,298.3h0.7M436.7,289.5h0.7M442.2,279.7h0.7M493.2,295.4h0.7M475.4,295.0h0.7M459.0,291.3h0.7M457.9,267.4h0.7M439.8,292.9h0.7M477.5,303.7h0.7M461.7,302.0h0.7M465.4,299.8h0.7M443.9,295.8h0.7M459.5,301.9h0.7M445.8,303.2h0.7M448.6,310.5h0.7M443.6,297.5h0.7M449.3,293.1h0.7M442.7,291.8h0.7M482.5,305.1h0.7M446.2,284.8h0.7M441.2,285.3h0.7M436.2,297.7h0.7M447.8,301.3h0.7M437.5,304.5h0.7M468.1,309.0h0.7M458.1,300.2h0.7M496.5,296.1h0.7M489.2,300.3h0.7M436.0,295.6h0.7M454.0,281.5h0.7M457.4,282.7h0.7M461.5,288.6h0.7M445.8,294.1h0.7M440.5,283.6h0.7M448.1,285.7h0.7M465.7,309.1h0.7M436.9,286.9h0.7M437.9,289.9h0.7M484.2,306.6h0.7M447.8,287.8h0.7M452.3,288.7h0.7M437.1,282.6h0.7M442.4,283.4h0.7M441.0,286.0h0.7M460.7,295.2h0.7M449.7,301.8h0.7M462.3,296.9h0.7M466.7,306.5h0.7M446.7,305.8h0.7M456.3,287.3h0.7M458.8,272.0h0.7M473.2,281.6h0.7M454.7,307.2h0.7M446.7,270.6h0.7M457.4,282.4h0.7M446.0,287.6h0.7M457.5,299.3h0.7M444.6,272.4h0.7M436.3,276.2h0.7M497.7,304.3h0.7M479.0,300.9h0.7M455.3,298.1h0.7M461.5,303.7h0.7M447.0,307.1h0.7M455.1,280.6h0.7M471.2,309.7h0.7M436.1,293.8h0.7M436.3,300.2h0.7M456.0,293.4h0.7M437.1,290.5h0.7M502.6,302.1h0.7M451.0,307.5h0.7M448.8,301.4h0.7M442.8,298.5h0.7M464.7,301.9h0.7M435.8,291.5h0.7M437.5,285.4h0.7M446.8,281.7h0.7M448.7,309.5h0.7M485.3,300.3h0.7M445.7,302.4h0.7M446.0,289.4h0.7M447.2,294.6h0.7M437.5,264.2h0.7M440.4,287.8h0.7M437.0,299.0h0.7M450.4,299.2h0.7M437.2,295.7h0.7M453.6,302.9h0.7M443.2,279.9h0.7M436.0,290.0h0.7M436.5,291.1h0.7M451.8,296.2h0.7M450.5,292.7h0.7M461.5,288.3h0.7M436.2,297.1h0.7M436.0,274.6h0.7M476.7,304.8h0.7M447.0,296.0h0.7M461.1,290.4h0.7M437.3,279.7h0.7M469.1,293.3h0.7M451.6,286.0h0.7M448.2,267.3h0.7M457.1,304.4h0.7M439.3,302.4h0.7M437.5,286.9h0.7M448.2,295.8h0.7M441.3,309.2h0.7M438.1,285.5h0.7M452.3,301.6h0.7M447.8,294.8h0.7M449.3,307.9h0.7M458.7,286.4h0.7M465.8,289.1h0.7M435.9,288.0h0.7M452.4,272.5h0.7M474.1,302.2h0.7M452.3,300.0h0.7M492.9,290.1h0.7M478.0,296.1h0.7M454.2,274.2h0.7M439.2,301.5h0.7M436.5,276.2h0.7M478.6,306.6h0.7M447.8,289.3h0.7M445.4,307.4h0.7M451.0,282.5h0.7M441.9,293.4h0.7M456.4,306.7h0.7M468.8,305.4h0.7M436.3,279.6h0.7M446.3,295.0h0.7M471.4,302.8h0.7M436.6,279.8h0.7M443.5,266.2h0.7M454.2,270.3h0.7M451.7,272.6h0.7M444.9,296.8h0.7M452.3,307.7h0.7M436.3,295.7h0.7M465.1,277.4h0.7M435.8,289.0h0.7M457.2,279.8h0.7M454.6,295.3h0.7M436.4,310.1h0.7M441.8,286.8h0.7M449.5,283.2h0.7M454.5,293.4h0.7M492.5,293.3h0.7M452.0,274.4h0.7M451.7,249.1h0.7M443.8,301.0h0.7M438.4,304.0h0.7M436.2,273.3h0.7M465.9,303.2h0.7M439.4,276.9h0.7M485.2,300.6h0.7M451.3,290.9h0.7M444.9,297.7h0.7M448.5,302.5h0.7M491.6,304.8h0.7M449.9,284.9h0.7M436.1,282.5h0.7M452.2,282.1h0.7M451.4,287.1h0.7M472.0,296.1h0.7M436.5,278.6h0.7M448.2,308.9h0.7M450.5,287.5h0.7" stroke="#777" stroke-width="0.7" fill="none"/>
<path d="M479.6,309.1L477.3,309.1L474.1,308.1L471.6,306.7L469.6,304.8L462.2,293.0L461.3,284.8L462.0,276.0L464.9,270.5L468.8,266.4L473.6,264.3L478.3,263.8L482.8,264.9L484.8,267.5L488.8,267.3L492.6,268.1L494.8,269.2L498.9,273.0L501.4,277.8L501.7,279.5L501.2,289.2L499.2,298.2L497.1,303.2L491.6,306.7L487.3,307.7L485.1,307.0L482.8,303.8L481.6,307.8Z" fill="#fff" stroke="none"/>
<path d="M479.6,309.1L477.3,309.1L474.1,308.1L471.6,306.7L469.6,304.8L462.2,293.0L461.3,284.8L462.0,276.0L464.9,270.5L468.8,266.4L473.6,264.3L478.3,263.8L482.8,264.9L484.8,267.5L488.8,267.3L492.6,268.1L494.8,269.2L498.9,273.0L501.4,277.8L501.7,279.5L501.2,289.2L499.2,298.2L497.1,303.2L491.6,306.7L487.3,307.7L485.1,307.0L482.8,303.8L481.6,307.8Z" fill="none" stroke="#333" stroke-width="0.45"/>
<path d="M479.6,307.3L478.1,307.4L473.8,305.9L471.3,304.1L464.0,292.5L463.2,285.2L463.8,276.2L466.4,271.5L469.1,268.2L473.1,265.9L478.3,265.0L481.3,265.6L482.8,266.8L484.0,278.5L483.4,283.2L483.6,289.0L482.1,299.5L480.2,306.5ZM488.1,305.8L486.6,305.7L485.3,304.5L484.6,300.2L485.3,294.8L484.9,286.0L485.5,283.0L484.6,279.5L484.9,270.5L485.6,269.4L487.6,269.0L492.1,269.8L495.1,271.8L499.8,278.2L500.3,282.0L499.5,289.0L497.7,297.2L496.0,301.8L494.7,303.0Z" fill="#000" fill-opacity="0.05" stroke="#333" stroke-width="0.45"/>
<path d="M478.6,306.5L472.8,304.5L469.0,299.8L464.8,292.0L464.0,285.2L464.5,276.2L466.9,272.0L469.6,268.7L473.3,266.3L478.6,265.3L481.3,265.9L482.6,267.0L483.3,279.0L483.1,287.5L482.3,295.5L479.4,306.0ZM488.1,305.0L486.8,305.0L485.9,304.2L485.4,300.5L486.0,294.5L485.6,271.5L486.1,270.2L487.8,269.8L491.6,270.4L494.4,272.2L499.3,278.5L499.7,281.8L499.0,289.0L497.1,297.2L495.4,301.5L493.6,302.9Z" fill="#000" fill-opacity="0.05" stroke="#333" stroke-width="0.45"/>
<path d="M478.1,305.3L476.3,305.2L473.6,304.0L469.6,299.5L465.8,292.0L464.7,285.5L465.2,276.5L467.3,272.5L470.3,269.0L473.6,266.5L478.6,265.6L481.3,266.2L482.3,267.2L482.9,279.8L482.8,287.5L481.9,295.2L479.8,302.2ZM487.8,304.3L486.6,304.0L486.1,302.8L486.6,282.8L486.0,275.0L486.5,271.5L488.1,270.7L491.1,271.1L493.7,272.8L498.6,278.5L499.2,281.8L498.5,288.8L496.5,297.0L494.8,301.1L492.8,302.7Z" fill="#000" fill-opacity="0.05" stroke="#333" stroke-width="0.45"/>
<path d="M477.6,304.6L475.6,304.3L473.1,302.4L470.4,299.5L468.0,295.5L465.5,287.2L465.4,282.8L466.1,276.2L468.2,272.2L474.0,266.8L478.8,265.9L481.3,266.5L482.1,267.5L482.5,286.8L481.4,295.2L479.0,302.5ZM488.1,303.3L487.3,303.1L487.0,302.2L486.8,285.8L487.5,278.2L486.7,274.8L487.2,272.2L488.6,271.6L492.3,272.8L496.3,276.6L498.3,279.2L498.6,282.0L498.1,288.8L494.2,300.8L492.3,302.2Z" fill="#000" fill-opacity="0.05" stroke="#333" stroke-width="0.45"/>
<path d="M477.1,303.8L475.6,303.4L473.7,301.8L470.8,298.7L468.4,295.0L466.3,287.0L466.2,282.5L467.0,279.2L467.1,276.0L468.6,272.8L472.8,269.5L474.6,267.0L479.1,266.2L481.1,266.8L481.8,267.8L481.3,271.0L482.2,277.5L482.1,286.8L480.9,294.5L479.1,298.2L478.2,302.5ZM491.1,301.8L489.3,301.8L488.6,301.2L487.9,296.2L487.6,285.2L489.0,278.8L487.7,274.8L488.1,273.3L488.8,272.8L491.3,273.5L495.8,277.1L497.4,279.0L498.0,281.2L497.9,287.2L497.3,289.8L493.3,300.5Z" fill="#000" fill-opacity="0.05" stroke="#333" stroke-width="0.45"/>
<path d="M476.8,302.8L475.5,302.2L469.1,295.0L467.2,287.2L467.1,282.8L468.0,279.2L468.1,275.5L469.0,273.2L471.3,271.3L474.6,270.0L475.3,267.5L479.1,266.6L480.7,267.0L481.3,267.8L480.5,271.0L481.8,277.2L481.7,286.5L480.3,293.0L478.2,296.8L477.6,301.7ZM494.3,293.0L492.1,288.3L491.1,288.0L489.1,289.4L488.5,286.8L489.3,283.7L491.1,284.5L491.7,284.0L493.0,278.5L494.3,277.5L495.6,277.9L496.8,279.5L497.5,284.0L497.0,289.0L495.6,291.9ZM475.1,290.0L476.1,289.5L476.6,288.0L476.5,286.2L475.8,285.4L474.3,286.0L473.6,287.8L473.8,289.6ZM490.1,296.3L489.4,295.8L489.6,294.7L490.4,295.8ZM491.6,300.3L490.9,299.5L491.8,298.6L492.2,299.5Z" fill="#000" fill-opacity="0.05" stroke="#333" stroke-width="0.45"/>
<path d="M479.8,268.8L478.3,268.7L477.6,267.8L480.1,267.5L480.4,268.2ZM471.8,296.0L470.6,295.7L469.5,294.2L468.3,286.8L469.2,274.8L470.1,273.3L471.8,272.6L472.3,273.2L472.0,276.5L473.0,280.2L472.2,289.8L473.7,292.8ZM480.3,288.1L479.1,287.8L478.5,286.5L479.3,281.8L476.6,279.8L478.6,277.6L479.8,274.6L480.8,275.5L481.4,278.2L481.1,286.2ZM495.1,290.3L494.0,289.2L493.3,285.8L494.6,281.3L495.6,280.1L496.8,282.5L496.9,286.5L496.3,289.1Z" fill="#000" fill-opacity="0.05" stroke="#333" stroke-width="0.45"/>
<path d="M470.6,291.7L469.7,290.0L469.4,282.2L469.8,280.4L470.8,279.2L471.6,281.0ZM495.6,287.8L495.1,287.5L494.7,285.8L495.6,283.6L496.1,285.2Z" fill="#000" fill-opacity="0.05" stroke="#333" stroke-width="0.45"/>
<ellipse cx="478.00" cy="266.80" rx="5.5" ry="1.5" transform="rotate(0 478.00 266.80)" fill="#000" fill-opacity="0.9" filter="url(#bl1)"/>
<ellipse cx="481.00" cy="280.00" rx="1.3" ry="10" transform="rotate(0 481.00 280.00)" fill="#000" fill-opacity="0.8" filter="url(#bl1)"/>
<ellipse cx="470.50" cy="285.00" rx="1.3" ry="8" transform="rotate(0 470.50 285.00)" fill="#000" fill-opacity="0.55" filter="url(#bl1)"/>
<ellipse cx="496.00" cy="286.00" rx="1.5" ry="5" transform="rotate(0 496.00 286.00)" fill="#000" fill-opacity="0.55" filter="url(#bl1)"/>
<ellipse cx="436.20" cy="286.00" rx="1.7" ry="14" transform="rotate(0 436.20 286.00)" fill="#000" fill-opacity="1.0" filter="url(#bl1)"/>
<ellipse cx="490.00" cy="311.00" rx="5" ry="1.2" transform="rotate(0 490.00 311.00)" fill="#000" fill-opacity="0.5" filter="url(#bl1)"/>
<ellipse cx="474.00" cy="286.00" rx="5" ry="12" transform="rotate(5 474.00 286.00)" fill="#000" fill-opacity="0.2" filter="url(#bl2)"/>
<ellipse cx="492.00" cy="287.00" rx="5" ry="10" transform="rotate(0 492.00 287.00)" fill="#000" fill-opacity="0.12" filter="url(#bl2)"/>
<line x1="483.50" y1="234.50" x2="483.50" y2="312.60" stroke="#777" stroke-width="0.8"/>
<line x1="509.60" y1="235.50" x2="509.60" y2="311.60" stroke="#c4c4c4" stroke-width="1.6"/>
<rect x="434.80" y="234.50" width="77.40" height="78.10" fill="none" stroke="#000" stroke-width="1.5"/>
<path d="M440.22,312.60v2.3M443.39,312.60v2.3M445.64,312.60v2.3M447.38,312.60v2.3M448.81,312.60v2.3M450.01,312.60v2.3M451.06,312.60v2.3M451.98,312.60v2.3M452.80,312.60v3.4M458.22,312.60v2.3M461.39,312.60v2.3M463.64,312.60v2.3M465.38,312.60v2.3M466.81,312.60v2.3M468.01,312.60v2.3M469.06,312.60v2.3M469.98,312.60v2.3M470.80,312.60v3.4M476.22,312.60v2.3M479.39,312.60v2.3M481.64,312.60v2.3M483.38,312.60v2.3M484.81,312.60v2.3M486.01,312.60v2.3M487.06,312.60v2.3M487.98,312.60v2.3M488.80,312.60v3.4M494.22,312.60v2.3M497.39,312.60v2.3M499.64,312.60v2.3M501.38,312.60v2.3M502.81,312.60v2.3M504.01,312.60v2.3M505.06,312.60v2.3M505.98,312.60v2.3M506.80,312.60v3.4M434.80,307.13h-2.3M434.80,303.93h-2.3M434.80,301.66h-2.3M434.80,299.90h-2.3M434.80,298.47h-2.3M434.80,297.25h-2.3M434.80,296.20h-2.3M434.80,295.27h-2.3M434.80,294.44h-3.4M434.80,288.97h-2.3M434.80,285.77h-2.3M434.80,283.50h-2.3M434.80,281.74h-2.3M434.80,280.30h-2.3M434.80,279.09h-2.3M434.80,278.03h-2.3M434.80,277.11h-2.3M434.80,276.27h-3.4M434.80,270.81h-2.3M434.80,267.61h-2.3M434.80,265.34h-2.3M434.80,263.58h-2.3M434.80,262.14h-2.3M434.80,260.93h-2.3M434.80,259.87h-2.3M434.80,258.94h-2.3M434.80,258.11h-3.4M434.80,252.64h-2.3M434.80,249.45h-2.3M434.80,247.18h-2.3M434.80,245.42h-2.3M434.80,243.98h-2.3M434.80,242.76h-2.3M434.80,241.71h-2.3M434.80,240.78h-2.3M434.80,239.95h-3.4" stroke="#000" stroke-width="0.85" fill="none"/>
<text x="489.60" y="245.87" font-size="8.2" text-anchor="start" fill="#1a1a1a" textLength="14.04" lengthAdjust="spacingAndGlyphs">34.0</text>
<text x="437.00" y="309.87" font-size="8.2" text-anchor="start" fill="#1a1a1a" textLength="14.04" lengthAdjust="spacingAndGlyphs">64.9</text>
<text x="291.80" y="277.43" font-size="8.2" text-anchor="start" fill="#1a1a1a" textLength="16.2" lengthAdjust="spacingAndGlyphs">DN3</text>
<text transform="translate(335.10,274.50) rotate(-90)" font-size="10.2" text-anchor="middle" fill="#1a1a1a" textLength="24" lengthAdjust="spacingAndGlyphs">CD44</text>
<text x="365.80" y="327.27" font-size="10.2" text-anchor="start" fill="#1a1a1a" textLength="30.2" lengthAdjust="spacingAndGlyphs">icTCRβ</text>
<line x1="399.60" y1="323.80" x2="505.50" y2="323.80" stroke="#1a1a1a" stroke-width="1.0"/>
<path d="M511.50,323.80L503.30,320.50L505.30,323.80L503.30,327.10Z" fill="#000"/>
<path d="M365.5,393.4h0.7M407.1,392.6h0.7M365.5,402.2h0.7M361.8,414.1h0.7M384.6,408.3h0.7M392.7,414.7h0.7M379.8,396.0h0.7M361.7,410.7h0.7M404.1,383.9h0.7M366.8,381.6h0.7M386.3,404.6h0.7M374.5,400.9h0.7M372.1,410.5h0.7M391.9,386.4h0.7M389.3,394.3h0.7M370.7,390.4h0.7M395.2,409.7h0.7M371.5,393.9h0.7M401.2,380.4h0.7M399.5,391.9h0.7M395.9,398.4h0.7M372.0,404.8h0.7M392.0,385.9h0.7M401.7,380.4h0.7M403.8,409.0h0.7M374.8,403.4h0.7M413.7,384.6h0.7M401.6,400.9h0.7M372.3,415.1h0.7M370.0,404.6h0.7M415.5,386.5h0.7M371.4,402.3h0.7M376.8,394.9h0.7M402.3,400.1h0.7M373.4,400.0h0.7M405.5,379.3h0.7M349.8,415.8h0.7M364.0,410.7h0.7M389.2,412.8h0.7M386.3,414.6h0.7M400.0,407.7h0.7M400.2,399.4h0.7M377.9,409.3h0.7M376.6,394.6h0.7M367.0,407.8h0.7M398.7,374.3h0.7M374.3,403.0h0.7M376.9,409.3h0.7M401.5,389.1h0.7M369.5,396.5h0.7M390.1,397.2h0.7M376.6,397.0h0.7M408.9,401.7h0.7M373.1,402.5h0.7M398.3,380.3h0.7M401.4,391.5h0.7M399.1,387.6h0.7M370.5,405.7h0.7M407.5,386.6h0.7M351.5,410.0h0.7M373.8,403.0h0.7M376.3,409.6h0.7M370.3,398.4h0.7M370.7,404.8h0.7M401.2,392.3h0.7M406.5,404.9h0.7M376.8,389.4h0.7M389.5,402.6h0.7M373.4,407.0h0.7M367.4,409.3h0.7M403.5,410.4h0.7M364.4,404.2h0.7M364.7,405.0h0.7M367.8,400.9h0.7M375.5,388.9h0.7M369.5,399.5h0.7M362.8,410.0h0.7M372.7,388.6h0.7M402.5,408.4h0.7M389.5,392.4h0.7M357.3,389.1h0.7M379.0,404.7h0.7M372.3,404.2h0.7M375.9,415.3h0.7M371.8,415.1h0.7M372.2,411.0h0.7M409.5,394.8h0.7M375.3,402.2h0.7M389.5,389.7h0.7M390.1,412.7h0.7M365.8,411.2h0.7M360.4,394.4h0.7M368.2,397.3h0.7M360.8,391.2h0.7M379.3,399.4h0.7M402.6,400.2h0.7M364.6,408.7h0.7M372.2,405.2h0.7M385.7,408.1h0.7M372.9,382.5h0.7" stroke="#888" stroke-width="0.7" fill="none"/>
<path d="M380.4,411.8L377.9,411.6L374.6,409.5L373.8,407.8L373.8,404.5L372.1,402.0L371.5,399.8L371.9,397.8L373.5,395.0L372.9,392.0L373.3,385.8L374.3,381.5L373.9,378.0L374.9,376.5L378.7,374.4L382.4,374.8L384.9,377.5L386.5,384.0L386.4,386.0L385.5,388.2L386.4,392.8L385.4,397.2L386.1,400.5L384.9,403.8L384.9,408.5L384.2,409.7L382.2,410.4Z" fill="#fff" stroke="none"/>
<path d="M380.4,411.8L377.9,411.6L374.6,409.5L373.8,407.8L373.8,404.5L372.1,402.0L371.5,399.8L371.9,397.8L373.5,395.0L372.9,392.0L373.3,385.8L374.3,381.5L373.9,378.0L374.9,376.5L378.7,374.4L382.4,374.8L384.9,377.5L386.5,384.0L386.4,386.0L385.5,388.2L386.4,392.8L385.4,397.2L386.1,400.5L384.9,403.8L384.9,408.5L384.2,409.7L382.2,410.4Z" fill="none" stroke="#333" stroke-width="0.45"/>
<path d="M379.7,410.1L377.9,409.7L376.2,408.3L373.7,399.5L375.3,394.2L375.0,389.0L376.7,381.8L376.4,378.8L377.7,377.7L380.4,377.1L381.7,377.5L382.8,378.8L384.3,383.5L383.5,389.2L383.9,400.2L383.1,406.5L382.4,408.1Z" fill="#000" fill-opacity="0.012" stroke="#333" stroke-width="0.45"/>
<path d="M379.4,409.3L378.0,408.8L376.9,407.5L374.6,399.2L375.9,394.8L375.8,388.8L377.6,382.0L377.5,379.5L378.4,378.5L380.2,378.0L381.9,379.0L383.2,382.8L382.7,389.8L383.1,400.0L382.2,407.0Z" fill="#000" fill-opacity="0.012" stroke="#333" stroke-width="0.45"/>
<path d="M380.2,408.1L378.9,408.1L377.7,406.7L375.5,399.2L376.6,395.2L376.9,387.0L378.9,381.8L378.9,379.9L379.9,379.2L380.9,379.8L382.1,383.0L382.4,396.8L381.6,406.0Z" fill="#000" fill-opacity="0.012" stroke="#333" stroke-width="0.45"/>
<path d="M379.9,406.6L378.9,406.3L377.9,404.7L376.6,399.0L377.4,395.8L378.2,386.2L378.7,384.5L379.9,383.6L380.6,384.2L380.9,386.8L378.9,389.5L381.2,391.5L381.7,397.2L380.6,400.8Z" fill="#000" fill-opacity="0.012" stroke="#333" stroke-width="0.45"/>
<path d="M411.2,418.3L389.2,418.4L385.6,416.2L384.5,410.8L385.0,401.8L384.7,390.2L385.5,386.8L384.9,381.0L386.1,377.5L387.7,375.9L394.4,374.4L397.4,375.0L401.7,374.9L406.7,377.5L410.6,383.0L411.4,388.0L410.9,393.5L412.3,402.0L411.8,414.5Z" fill="#fff" stroke="none"/>
<path d="M411.2,418.3L389.2,418.4L385.6,416.2L384.5,410.8L385.0,401.8L384.7,390.2L385.5,386.8L384.9,381.0L386.1,377.5L387.7,375.9L394.4,374.4L397.4,375.0L401.7,374.9L406.7,377.5L410.6,383.0L411.4,388.0L410.9,393.5L412.3,402.0L411.8,414.5Z" fill="none" stroke="#333" stroke-width="0.45"/>
<path d="M406.9,418.3L392.2,418.2L388.2,416.5L387.2,415.5L386.3,411.0L386.6,390.8L387.2,387.5L386.5,382.2L387.3,379.2L389.2,377.4L394.4,376.4L401.4,376.8L405.7,378.9L409.1,384.2L409.7,387.0L409.7,393.0L410.6,401.0L410.0,405.8L410.3,415.0L409.7,417.2Z" fill="#000" fill-opacity="0.035" stroke="#333" stroke-width="0.45"/>
<path d="M405.7,418.0L392.9,417.6L388.9,416.1L387.8,415.0L387.0,411.0L387.8,387.8L387.1,382.0L388.2,379.0L390.7,377.6L394.7,377.0L401.4,377.5L405.4,379.6L408.9,385.2L410.1,401.0L409.4,406.0L409.9,415.5L409.0,417.0Z" fill="#000" fill-opacity="0.035" stroke="#333" stroke-width="0.45"/>
<path d="M406.2,417.5L392.9,417.1L389.4,415.6L388.5,414.5L387.7,411.2L387.6,404.8L388.2,401.5L387.6,397.8L388.3,388.0L387.6,382.0L388.6,379.5L391.2,378.1L394.9,377.6L401.4,378.2L404.9,380.2L408.4,385.5L409.7,401.0L408.9,409.8L409.5,415.0L408.9,416.5Z" fill="#000" fill-opacity="0.035" stroke="#333" stroke-width="0.45"/>
<path d="M405.7,417.3L393.2,416.6L389.9,415.0L389.0,413.8L388.2,405.5L388.8,401.5L388.1,397.2L388.9,392.5L388.2,382.0L389.0,380.0L391.7,378.7L395.2,378.3L401.2,378.7L405.9,382.4L408.1,385.8L409.2,400.8L408.4,410.0L409.0,415.0L408.4,416.3Z" fill="#000" fill-opacity="0.035" stroke="#333" stroke-width="0.45"/>
<path d="M405.4,417.0L393.7,416.0L390.5,414.2L389.6,413.0L388.8,405.5L389.5,401.5L388.7,397.5L389.8,392.5L389.1,381.8L389.7,380.4L391.7,379.5L400.7,379.3L405.9,383.4L407.7,386.0L408.8,400.8L407.9,410.5L408.5,415.0L407.7,416.2Z" fill="#000" fill-opacity="0.035" stroke="#333" stroke-width="0.45"/>
<path d="M405.9,416.6L396.7,416.0L391.9,414.1L390.3,412.5L389.5,405.5L390.1,401.5L389.3,397.0L390.6,392.5L390.2,381.8L391.9,380.3L400.4,379.9L403.4,382.7L405.7,384.0L407.2,386.0L408.3,399.8L407.3,410.8L408.0,414.8L407.6,415.8Z" fill="#000" fill-opacity="0.035" stroke="#333" stroke-width="0.45"/>
<path d="M404.9,416.3L397.4,415.2L392.2,412.9L391.3,411.8L390.4,405.2L391.2,401.8L390.1,396.8L391.7,392.2L391.2,387.2L391.7,386.5L393.2,386.3L393.7,385.8L393.4,382.0L393.8,381.5L395.6,381.8L397.9,383.7L398.4,383.2L398.2,381.2L400.2,380.9L402.9,383.8L405.7,384.9L406.8,386.5L407.8,399.2L406.6,411.0L407.3,414.5L406.7,415.7ZM402.0,389.5L403.0,387.8L402.7,386.3L400.9,387.1L400.4,388.0L400.8,389.5ZM402.3,412.2L403.1,411.5L403.1,410.5L402.2,409.8L400.9,410.0L400.7,411.6Z" fill="#000" fill-opacity="0.035" stroke="#333" stroke-width="0.45"/>
<path d="M405.2,410.4L403.7,408.2L404.2,405.2L402.2,402.3L401.5,402.5L401.7,404.8L401.0,406.8L398.7,407.7L395.7,405.7L394.3,400.2L391.8,398.2L391.9,397.0L394.7,394.5L394.3,389.5L396.4,387.9L397.7,387.9L399.2,390.5L401.9,391.8L404.9,386.9L405.4,386.6L405.9,387.2L407.3,394.0L407.3,400.2L407.1,403.5ZM402.0,399.2L403.4,396.5L403.2,394.7L402.4,393.7L399.9,395.8L400.7,398.1ZM397.6,395.2L398.1,394.8L397.7,394.1L396.0,394.5L396.4,395.2ZM405.4,415.3L403.9,415.4L402.8,414.8L405.2,411.8L406.2,414.0Z" fill="#000" fill-opacity="0.035" stroke="#333" stroke-width="0.45"/>
<path d="M405.7,404.1L404.7,403.2L403.9,400.8L404.3,396.8L404.0,391.8L405.2,390.1L406.2,391.6L406.9,395.0L406.5,402.0Z" fill="#000" fill-opacity="0.035" stroke="#333" stroke-width="0.45"/>
<path d="M405.7,395.7L405.7,394.9Z" fill="#000" fill-opacity="0.035" stroke="#333" stroke-width="0.45"/>
<ellipse cx="406.00" cy="397.00" rx="1.5" ry="9" transform="rotate(0 406.00 397.00)" fill="#000" fill-opacity="0.6" filter="url(#bl1)"/>
<ellipse cx="402.00" cy="416.80" rx="6" ry="1.5" transform="rotate(0 402.00 416.80)" fill="#000" fill-opacity="0.85" filter="url(#bl1)"/>
<ellipse cx="398.00" cy="397.00" rx="7" ry="12" transform="rotate(0 398.00 397.00)" fill="#000" fill-opacity="0.18" filter="url(#bl2)"/>
<line x1="385.30" y1="340.50" x2="385.30" y2="418.40" stroke="#444" stroke-width="0.8"/>
<rect x="343.20" y="340.50" width="77.80" height="77.90" fill="none" stroke="#000" stroke-width="1.5"/>
<path d="M348.65,418.40v2.3M351.83,418.40v2.3M354.09,418.40v2.3M355.85,418.40v2.3M357.28,418.40v2.3M358.49,418.40v2.3M359.54,418.40v2.3M360.47,418.40v2.3M361.29,418.40v3.4M366.74,418.40v2.3M369.93,418.40v2.3M372.19,418.40v2.3M373.94,418.40v2.3M375.37,418.40v2.3M376.58,418.40v2.3M377.63,418.40v2.3M378.56,418.40v2.3M379.39,418.40v3.4M384.83,418.40v2.3M388.02,418.40v2.3M390.28,418.40v2.3M392.03,418.40v2.3M393.47,418.40v2.3M394.68,418.40v2.3M395.73,418.40v2.3M396.65,418.40v2.3M397.48,418.40v3.4M402.93,418.40v2.3M406.11,418.40v2.3M408.37,418.40v2.3M410.13,418.40v2.3M411.56,418.40v2.3M412.77,418.40v2.3M413.82,418.40v2.3M414.74,418.40v2.3M415.57,418.40v3.4M343.20,412.95h-2.3M343.20,409.76h-2.3M343.20,407.49h-2.3M343.20,405.74h-2.3M343.20,404.30h-2.3M343.20,403.09h-2.3M343.20,402.04h-2.3M343.20,401.11h-2.3M343.20,400.28h-3.4M343.20,394.83h-2.3M343.20,391.64h-2.3M343.20,389.38h-2.3M343.20,387.62h-2.3M343.20,386.19h-2.3M343.20,384.97h-2.3M343.20,383.92h-2.3M343.20,383.00h-2.3M343.20,382.17h-3.4M343.20,376.71h-2.3M343.20,373.52h-2.3M343.20,371.26h-2.3M343.20,369.50h-2.3M343.20,368.07h-2.3M343.20,366.86h-2.3M343.20,365.81h-2.3M343.20,364.88h-2.3M343.20,364.05h-3.4M343.20,358.60h-2.3M343.20,355.41h-2.3M343.20,353.14h-2.3M343.20,351.39h-2.3M343.20,349.95h-2.3M343.20,348.74h-2.3M343.20,347.69h-2.3M343.20,346.76h-2.3M343.20,345.93h-3.4" stroke="#000" stroke-width="0.85" fill="none"/>
<text x="395.40" y="350.97" font-size="8.2" text-anchor="start" fill="#1a1a1a" textLength="14.04" lengthAdjust="spacingAndGlyphs">83.1</text>
<path d="M451.6,399.5h0.7M461.8,401.3h0.7M494.9,403.7h0.7M451.5,399.3h0.7M487.6,386.3h0.7M457.8,392.0h0.7M465.1,390.1h0.7M451.4,409.5h0.7M473.0,392.9h0.7M495.9,405.6h0.7M453.8,401.7h0.7M463.4,415.4h0.7M464.4,406.1h0.7M482.7,389.2h0.7M465.5,395.1h0.7M463.9,386.6h0.7M462.3,386.7h0.7M485.2,393.3h0.7M452.0,387.2h0.7M464.2,393.3h0.7M457.7,398.8h0.7M455.7,379.2h0.7M484.9,387.1h0.7M467.0,394.4h0.7M492.6,392.8h0.7M462.7,391.0h0.7M460.5,398.1h0.7M462.4,393.7h0.7M471.6,411.1h0.7M457.7,405.8h0.7M463.1,408.1h0.7M487.0,392.3h0.7M462.0,409.2h0.7M455.6,398.9h0.7M452.4,411.6h0.7M488.2,383.7h0.7M465.3,410.1h0.7M455.7,412.1h0.7M465.9,403.8h0.7M459.4,382.4h0.7M487.5,398.0h0.7M480.9,382.5h0.7M445.9,392.3h0.7M458.1,395.4h0.7M455.1,410.1h0.7M458.3,398.3h0.7M465.0,392.8h0.7M461.6,398.8h0.7M460.3,414.9h0.7M460.7,393.4h0.7M452.4,392.9h0.7M470.2,396.6h0.7M454.3,404.4h0.7M462.5,404.0h0.7M451.2,397.7h0.7M457.2,390.9h0.7M454.2,400.0h0.7M448.3,395.0h0.7M465.0,400.5h0.7M464.1,385.3h0.7M445.7,405.0h0.7M478.4,371.7h0.7M466.0,406.1h0.7M491.8,406.4h0.7M469.1,396.5h0.7M489.2,403.5h0.7M462.0,405.3h0.7M453.4,401.8h0.7M461.5,402.3h0.7M495.7,397.2h0.7M466.6,402.3h0.7M456.5,408.0h0.7M466.1,389.4h0.7M463.4,416.0h0.7M464.8,397.3h0.7M497.1,404.9h0.7M447.4,406.3h0.7M446.1,407.6h0.7M491.1,377.2h0.7M481.7,378.8h0.7M497.6,396.7h0.7M464.2,408.2h0.7M453.1,402.6h0.7M460.3,406.3h0.7M454.8,401.5h0.7M466.8,398.9h0.7M451.6,401.6h0.7M461.7,396.8h0.7M457.7,400.0h0.7M455.4,393.3h0.7M456.5,399.3h0.7M490.9,415.5h0.7M471.8,392.3h0.7M496.4,396.6h0.7M467.2,410.0h0.7M489.8,401.5h0.7M482.8,392.4h0.7M493.3,393.9h0.7M461.3,396.3h0.7M457.0,401.1h0.7M475.6,411.9h0.7M470.1,393.2h0.7M481.8,395.7h0.7M461.5,393.3h0.7M467.0,404.5h0.7M456.9,391.2h0.7M488.6,414.0h0.7M459.7,403.3h0.7M452.0,395.2h0.7M457.6,391.4h0.7" stroke="#888" stroke-width="0.7" fill="none"/>
<path d="M471.1,412.8L467.9,412.4L463.6,409.1L462.5,407.3L460.8,402.1L461.8,394.1L463.4,390.9L465.7,383.8L466.9,379.8L467.3,375.6L468.1,374.2L469.9,373.6L472.6,374.1L475.3,376.8L475.4,380.6L476.7,386.6L476.6,391.6L475.7,396.8L476.0,405.1L475.2,407.6L475.2,410.3L474.1,411.9Z" fill="#fff" stroke="none"/>
<path d="M471.1,412.8L467.9,412.4L463.6,409.1L462.5,407.3L460.8,402.1L461.8,394.1L463.4,390.9L465.7,383.8L466.9,379.8L467.3,375.6L468.1,374.2L469.9,373.6L472.6,374.1L475.3,376.8L475.4,380.6L476.7,386.6L476.6,391.6L475.7,396.8L476.0,405.1L475.2,407.6L475.2,410.3L474.1,411.9Z" fill="none" stroke="#333" stroke-width="0.45"/>
<path d="M470.1,410.8L468.1,410.2L464.9,406.7L463.0,402.1L463.8,399.1L463.7,394.3L467.1,386.6L468.0,382.1L469.4,378.8L469.3,376.3L470.1,375.6L471.9,376.3L473.3,378.1L474.7,391.3L474.1,395.8L474.3,399.8L473.0,409.3L472.1,410.4Z" fill="#000" fill-opacity="0.012" stroke="#333" stroke-width="0.45"/>
<path d="M471.4,409.6L468.9,409.5L465.9,406.6L465.0,405.1L464.3,401.8L464.6,394.3L468.4,386.6L468.9,381.8L471.4,378.4L472.2,379.3L473.2,385.1L472.8,388.8L474.0,391.8L473.7,400.1L472.2,408.6Z" fill="#000" fill-opacity="0.012" stroke="#333" stroke-width="0.45"/>
<path d="M471.1,385.3L470.1,385.2L469.6,384.1L469.9,382.3L470.9,381.2L471.6,382.8ZM470.6,408.6L468.6,408.2L466.1,405.3L466.3,402.8L465.5,400.8L465.3,396.1L465.4,394.6L467.6,389.6L468.6,388.3L469.9,387.8L471.1,388.4L472.9,391.6L473.3,398.8L471.9,406.3Z" fill="#000" fill-opacity="0.012" stroke="#333" stroke-width="0.45"/>
<path d="M470.1,407.3L468.8,407.1L467.5,405.6L468.5,402.8L466.5,400.3L466.2,396.3L468.0,390.8L469.4,389.5L470.4,389.9L471.4,391.6L472.7,399.1L471.1,405.8Z" fill="#000" fill-opacity="0.012" stroke="#333" stroke-width="0.45"/>
<path d="M470.6,401.9L469.2,401.3L467.9,399.6L467.7,395.6L468.9,393.7L470.6,394.5L471.6,396.1L472.0,400.1Z" fill="#000" fill-opacity="0.012" stroke="#333" stroke-width="0.45"/>
<path d="M499.1,418.4L475.9,418.3L475.5,399.1L476.4,395.3L476.2,392.1L476.8,389.3L476.0,386.6L475.8,381.8L477.3,377.3L478.8,375.1L480.4,373.9L487.6,372.7L493.1,373.6L498.4,377.6L500.0,379.8L501.7,386.3L501.2,391.6L501.8,403.1L500.5,408.3L501.1,416.1Z" fill="#fff" stroke="none"/>
<path d="M499.1,418.4L475.9,418.3L475.5,399.1L476.4,395.3L476.2,392.1L476.8,389.3L476.0,386.6L475.8,381.8L477.3,377.3L478.8,375.1L480.4,373.9L487.6,372.7L493.1,373.6L498.4,377.6L500.0,379.8L501.7,386.3L501.2,391.6L501.8,403.1L500.5,408.3L501.1,416.1Z" fill="none" stroke="#333" stroke-width="0.45"/>
<path d="M492.1,418.1L481.4,417.7L478.1,417.1L477.5,416.3L478.0,411.8L477.1,399.6L478.2,395.6L478.4,389.3L477.6,383.1L478.1,379.6L479.1,377.3L480.9,375.8L487.4,374.3L492.6,375.2L496.9,378.4L498.4,380.6L500.1,386.1L499.7,391.1L500.2,403.1L498.8,410.6L499.7,415.8L499.1,416.7L497.9,417.3Z" fill="#000" fill-opacity="0.035" stroke="#333" stroke-width="0.45"/>
<path d="M492.6,417.6L481.6,417.2L478.9,416.6L478.2,415.6L478.8,411.3L477.7,399.6L478.8,395.8L479.0,389.3L478.3,385.6L478.7,379.6L479.6,377.7L481.4,376.3L487.4,374.9L492.4,375.8L496.4,378.7L498.0,381.1L499.5,386.3L499.7,402.8L498.2,411.1L499.2,415.6L497.6,416.9Z" fill="#000" fill-opacity="0.035" stroke="#333" stroke-width="0.45"/>
<path d="M492.1,417.3L482.1,416.8L479.5,416.1L478.8,415.1L479.5,411.1L478.2,399.6L479.3,396.1L479.5,388.8L478.8,385.6L479.2,379.8L479.9,378.3L481.9,376.9L487.6,375.5L492.1,376.3L495.9,378.9L497.7,382.1L499.1,386.8L499.2,402.6L497.6,411.1L498.7,415.6L497.1,416.6Z" fill="#000" fill-opacity="0.035" stroke="#333" stroke-width="0.45"/>
<path d="M491.6,417.1L482.6,416.5L480.1,415.6L479.5,414.6L480.1,411.6L479.9,406.8L478.8,399.8L479.9,396.1L480.1,388.3L479.4,385.6L479.8,379.8L480.5,378.6L482.1,377.5L487.9,376.1L491.9,376.8L495.4,379.3L497.5,383.1L498.7,387.6L498.7,402.3L497.0,411.1L498.1,415.3L496.5,416.3Z" fill="#000" fill-opacity="0.035" stroke="#333" stroke-width="0.45"/>
<path d="M490.9,416.8L483.4,416.1L481.2,415.1L480.4,414.1L480.4,403.3L479.5,399.8L480.5,396.1L480.3,380.3L480.9,379.1L482.1,378.3L487.9,376.9L491.9,377.6L494.7,379.6L496.9,383.3L498.3,388.1L498.2,401.3L496.4,410.8L497.1,414.8L495.6,415.8Z" fill="#000" fill-opacity="0.035" stroke="#333" stroke-width="0.45"/>
<path d="M491.6,416.3L484.3,415.8L481.4,413.1L481.2,403.3L480.2,399.8L481.1,396.1L481.0,380.6L482.4,378.9L487.9,377.8L491.6,378.2L493.9,379.8L496.1,383.1L497.9,388.1L497.9,398.8L495.8,410.1L495.9,413.8L494.9,415.1Z" fill="#000" fill-opacity="0.035" stroke="#333" stroke-width="0.45"/>
<path d="M490.9,415.9L485.2,415.3L484.7,414.6L485.1,412.0L482.6,411.5L482.0,408.8L482.1,403.1L481.0,399.8L481.9,396.1L481.7,389.8L482.4,385.1L482.0,380.6L482.9,379.8L488.9,378.8L491.9,379.3L494.4,381.6L496.9,386.3L497.5,388.6L497.4,398.6L496.8,402.3L495.5,405.8L494.9,412.8L493.9,414.0Z" fill="#000" fill-opacity="0.035" stroke="#333" stroke-width="0.45"/>
<path d="M492.9,405.2L491.9,405.0L490.6,403.6L490.2,400.3L489.1,399.1L486.4,398.9L483.9,401.2L482.6,400.7L482.2,399.3L483.6,394.0L484.6,393.8L486.6,394.7L487.6,394.1L486.7,392.8L483.2,390.6L483.1,388.9L484.1,388.3L487.1,389.3L487.9,388.8L488.9,386.7L491.6,386.5L492.2,385.3L491.7,382.8L492.4,381.9L493.9,382.7L496.7,387.1L497.3,393.6L495.9,402.2L494.9,403.8ZM490.7,396.3L491.1,394.8L490.1,393.7L489.6,395.1L490.0,396.1ZM485.1,405.6L484.2,405.3L484.6,404.1L485.5,404.6ZM489.6,414.8L486.9,414.5L486.9,413.3L487.9,412.0L489.1,411.9L490.4,413.1L490.4,414.1Z" fill="#000" fill-opacity="0.035" stroke="#333" stroke-width="0.45"/>
<path d="M495.1,399.6L494.4,398.9L492.2,390.6L493.7,386.8L494.6,386.1L496.4,388.1L496.8,393.6L496.1,397.7Z" fill="#000" fill-opacity="0.035" stroke="#333" stroke-width="0.45"/>
<path d="M495.4,395.5L494.9,395.3L494.6,394.1L494.9,388.2L495.4,388.6L495.3,391.1L495.9,393.6Z" fill="#000" fill-opacity="0.035" stroke="#333" stroke-width="0.45"/>
<ellipse cx="496.00" cy="392.00" rx="1.6" ry="6" transform="rotate(0 496.00 392.00)" fill="#000" fill-opacity="0.7" filter="url(#bl1)"/>
<ellipse cx="490.00" cy="416.80" rx="6" ry="1.5" transform="rotate(0 490.00 416.80)" fill="#000" fill-opacity="0.85" filter="url(#bl1)"/>
<ellipse cx="489.00" cy="396.00" rx="7" ry="12" transform="rotate(0 489.00 396.00)" fill="#000" fill-opacity="0.2" filter="url(#bl2)"/>
<line x1="476.20" y1="340.30" x2="476.20" y2="418.50" stroke="#444" stroke-width="0.8"/>
<rect x="434.40" y="340.30" width="77.80" height="78.20" fill="none" stroke="#000" stroke-width="1.5"/>
<path d="M439.85,418.50v2.3M443.03,418.50v2.3M445.29,418.50v2.3M447.05,418.50v2.3M448.48,418.50v2.3M449.69,418.50v2.3M450.74,418.50v2.3M451.67,418.50v2.3M452.49,418.50v3.4M457.94,418.50v2.3M461.13,418.50v2.3M463.39,418.50v2.3M465.14,418.50v2.3M466.57,418.50v2.3M467.78,418.50v2.3M468.83,418.50v2.3M469.76,418.50v2.3M470.59,418.50v3.4M476.03,418.50v2.3M479.22,418.50v2.3M481.48,418.50v2.3M483.23,418.50v2.3M484.67,418.50v2.3M485.88,418.50v2.3M486.93,418.50v2.3M487.85,418.50v2.3M488.68,418.50v3.4M494.13,418.50v2.3M497.31,418.50v2.3M499.57,418.50v2.3M501.33,418.50v2.3M502.76,418.50v2.3M503.97,418.50v2.3M505.02,418.50v2.3M505.94,418.50v2.3M506.77,418.50v3.4M434.40,413.03h-2.3M434.40,409.82h-2.3M434.40,407.55h-2.3M434.40,405.79h-2.3M434.40,404.35h-2.3M434.40,403.13h-2.3M434.40,402.08h-2.3M434.40,401.15h-2.3M434.40,400.31h-3.4M434.40,394.84h-2.3M434.40,391.64h-2.3M434.40,389.36h-2.3M434.40,387.60h-2.3M434.40,386.16h-2.3M434.40,384.94h-2.3M434.40,383.89h-2.3M434.40,382.96h-2.3M434.40,382.13h-3.4M434.40,376.65h-2.3M434.40,373.45h-2.3M434.40,371.18h-2.3M434.40,369.42h-2.3M434.40,367.98h-2.3M434.40,366.76h-2.3M434.40,365.70h-2.3M434.40,364.77h-2.3M434.40,363.94h-3.4M434.40,358.47h-2.3M434.40,355.26h-2.3M434.40,352.99h-2.3M434.40,351.23h-2.3M434.40,349.79h-2.3M434.40,348.57h-2.3M434.40,347.52h-2.3M434.40,346.59h-2.3M434.40,345.76h-3.4" stroke="#000" stroke-width="0.85" fill="none"/>
<text x="486.30" y="351.37" font-size="8.2" text-anchor="start" fill="#1a1a1a" textLength="14.04" lengthAdjust="spacingAndGlyphs">79.3</text>
<text x="291.80" y="379.93" font-size="8.2" text-anchor="start" fill="#1a1a1a" textLength="16.2" lengthAdjust="spacingAndGlyphs">DN4</text>
<text transform="translate(335.10,376.60) rotate(-90)" font-size="10.2" text-anchor="middle" fill="#1a1a1a" textLength="24" lengthAdjust="spacingAndGlyphs">CD44</text>
<text x="365.80" y="433.57" font-size="10.2" text-anchor="start" fill="#1a1a1a" textLength="30.2" lengthAdjust="spacingAndGlyphs">icTCRβ</text>
<line x1="399.60" y1="430.00" x2="505.50" y2="430.00" stroke="#1a1a1a" stroke-width="1.0"/>
<path d="M511.50,430.00L503.30,426.70L505.30,430.00L503.30,433.30Z" fill="#000"/>
<path d="M343,91H321V354.3H333" fill="none" stroke="#000" stroke-width="1.3" stroke-dasharray="3.3,2.1"/>
<path d="M338.40,354.30L330.90,351.20L332.80,354.30L330.90,357.40Z" fill="#000"/>
<text x="160.40" y="472.37" font-size="10.2" text-anchor="middle" fill="#1a1a1a" textLength="29.3" lengthAdjust="spacingAndGlyphs">LckCre</text>
<text x="251.30" y="471.77" font-size="10.2" text-anchor="middle" fill="#1a1a1a" textLength="36.4" lengthAdjust="spacingAndGlyphs">ΔLckCre</text>
<path d="M169.0,545.1h0.7M145.8,520.6h0.7M149.2,538.5h0.7M171.9,526.6h0.7M130.9,494.0h0.7M138.6,494.3h0.7M137.5,493.5h0.7M155.5,518.6h0.7M138.6,521.5h0.7M146.7,517.6h0.7M185.9,517.0h0.7M140.3,494.3h0.7M154.9,531.5h0.7M132.0,518.7h0.7M139.7,547.4h0.7M137.0,495.0h0.7M125.3,532.9h0.7M160.9,521.9h0.7M154.8,515.7h0.7M148.5,534.9h0.7M140.7,495.2h0.7M158.8,545.6h0.7M128.0,540.4h0.7M148.7,513.9h0.7M178.0,525.7h0.7M127.6,523.8h0.7M153.4,549.2h0.7M144.6,495.0h0.7M184.2,519.8h0.7M139.7,533.4h0.7M182.6,517.8h0.7M143.2,544.9h0.7M129.8,546.7h0.7M179.5,528.9h0.7M129.7,546.5h0.7M138.5,518.9h0.7M138.4,524.2h0.7M152.7,543.3h0.7M162.9,522.1h0.7M174.4,505.5h0.7M141.7,536.1h0.7M142.6,495.5h0.7M131.1,493.7h0.7M143.2,512.2h0.7M131.3,494.8h0.7M165.2,536.1h0.7M155.4,534.4h0.7M157.6,530.8h0.7M129.0,525.7h0.7M151.8,521.5h0.7M138.6,494.9h0.7M183.4,515.5h0.7M143.1,533.4h0.7M185.3,506.7h0.7M139.3,517.7h0.7M142.1,532.1h0.7M123.4,493.5h0.7M150.6,511.7h0.7M176.8,537.9h0.7M156.7,535.6h0.7M134.4,495.7h0.7M153.7,541.3h0.7M154.7,526.2h0.7M136.8,539.1h0.7M134.7,533.1h0.7M163.5,520.8h0.7M128.4,494.4h0.7M140.2,507.4h0.7M179.2,528.3h0.7M149.6,543.3h0.7M123.2,530.1h0.7M128.6,494.9h0.7M137.9,507.3h0.7M182.2,516.5h0.7M145.8,494.0h0.7M163.2,538.0h0.7M128.9,495.4h0.7M161.3,519.3h0.7M142.1,494.9h0.7M171.6,510.5h0.7M131.9,493.1h0.7M184.4,508.3h0.7M144.0,501.4h0.7M153.7,536.9h0.7M150.6,534.6h0.7M166.5,530.1h0.7M185.2,509.4h0.7M144.2,494.9h0.7M154.8,521.3h0.7M126.7,494.8h0.7M168.6,520.8h0.7M146.9,522.8h0.7M134.0,533.6h0.7M152.7,502.6h0.7M156.4,527.5h0.7M141.1,518.1h0.7M194.7,512.3h0.7M149.5,527.4h0.7M151.8,517.4h0.7M186.9,545.8h0.7M148.0,515.7h0.7M186.6,521.9h0.7M154.8,546.1h0.7M145.1,545.9h0.7M148.9,516.9h0.7M126.9,491.1h0.7M136.5,494.2h0.7M135.5,494.9h0.7M146.7,535.5h0.7M175.8,548.0h0.7M163.5,526.2h0.7M129.0,534.3h0.7M154.9,534.4h0.7M184.3,519.9h0.7M136.0,493.8h0.7M174.4,526.6h0.7M135.1,493.8h0.7M151.7,531.6h0.7M172.4,495.0h0.7M142.4,534.0h0.7M134.9,496.4h0.7M184.7,523.7h0.7M157.6,525.1h0.7M131.7,494.2h0.7M149.4,520.6h0.7M139.9,496.0h0.7M148.5,522.1h0.7M163.3,529.6h0.7M149.5,508.2h0.7M178.2,507.4h0.7M148.9,504.7h0.7M180.3,507.3h0.7M180.2,515.1h0.7M126.0,494.2h0.7M145.1,541.1h0.7M143.9,530.1h0.7M142.8,494.0h0.7M184.8,516.4h0.7M165.1,551.7h0.7M147.3,536.0h0.7M149.7,513.2h0.7M137.8,494.7h0.7M139.8,537.6h0.7M128.3,541.1h0.7M133.8,494.4h0.7M128.4,529.3h0.7M174.7,518.9h0.7M134.6,493.1h0.7M139.7,533.0h0.7M181.7,531.9h0.7M128.8,493.0h0.7M185.9,516.7h0.7M135.6,513.8h0.7M134.8,494.9h0.7M186.0,527.8h0.7M164.5,524.0h0.7M184.9,519.7h0.7M132.5,548.0h0.7M147.7,508.7h0.7M167.8,543.0h0.7M128.2,517.0h0.7M136.9,543.7h0.7M149.7,534.8h0.7M137.3,515.7h0.7M154.8,536.1h0.7M131.0,520.2h0.7M177.6,514.7h0.7M140.8,495.8h0.7M130.3,495.8h0.7M154.7,546.6h0.7M141.5,527.9h0.7M156.8,530.2h0.7M127.6,516.0h0.7M137.0,509.2h0.7M137.1,525.5h0.7M153.3,551.7h0.7M167.8,532.0h0.7M146.4,514.3h0.7M133.9,546.5h0.7M138.9,541.8h0.7M153.5,504.7h0.7M125.0,491.1h0.7M150.3,493.8h0.7M151.5,523.5h0.7M173.0,510.7h0.7M154.8,508.1h0.7M177.3,514.7h0.7M150.8,525.7h0.7M153.2,532.5h0.7M168.0,540.5h0.7M128.0,543.8h0.7M152.1,513.0h0.7M132.1,550.8h0.7M148.3,525.4h0.7M157.4,534.6h0.7M153.4,522.8h0.7M182.6,513.4h0.7M154.3,548.5h0.7M125.6,511.4h0.7M184.2,533.5h0.7M130.2,491.5h0.7M187.1,521.8h0.7M140.9,492.7h0.7M170.3,517.3h0.7M161.8,512.7h0.7M133.3,539.3h0.7M143.9,515.5h0.7M123.5,524.1h0.7M159.5,510.4h0.7M145.6,512.1h0.7M173.3,525.4h0.7M132.1,493.7h0.7M189.2,523.9h0.7M154.8,527.2h0.7M139.0,494.1h0.7M192.7,524.2h0.7M178.7,528.1h0.7M159.4,515.4h0.7M154.6,526.2h0.7M142.3,519.7h0.7M139.9,520.0h0.7M127.6,496.3h0.7M147.9,508.1h0.7M156.8,537.4h0.7M151.0,544.9h0.7M135.2,548.0h0.7M142.1,523.5h0.7M163.8,503.0h0.7M148.0,525.5h0.7M144.8,519.6h0.7" stroke="#777" stroke-width="0.7" fill="none"/>
<path d="M183.6,523.5L182.1,522.3L180.8,519.4L180.0,515.9L179.3,509.9L178.6,507.9L176.6,506.4L170.1,505.5L167.1,504.3L165.7,502.4L165.7,500.9L166.3,498.9L166.1,498.3L164.6,497.9L154.1,498.7L147.6,498.2L144.4,497.4L142.0,496.4L140.9,495.4L141.0,493.9L142.6,492.7L145.1,491.8L152.6,490.8L159.6,491.0L169.1,492.6L171.1,491.9L175.6,489.0L179.6,488.0L183.6,488.3L187.1,489.9L188.9,491.4L190.3,493.4L191.0,495.4L191.2,497.9L190.7,499.9L189.6,501.9L185.3,505.9L184.4,507.4L184.2,509.4L185.2,515.4L185.3,519.4L184.7,522.4Z" fill="#000" fill-opacity="0.015" stroke="#222" stroke-width="0.5"/>
<path d="M181.6,506.0L176.6,504.5L170.3,503.9L168.6,502.9L168.1,501.9L168.6,500.4L170.8,497.9L171.9,494.9L173.5,492.9L176.6,490.7L180.6,489.6L184.1,490.0L187.1,491.6L189.0,493.9L189.9,496.9L189.5,499.4L188.0,501.9L186.1,503.5ZM158.1,497.4L153.1,497.6L148.6,497.1L145.3,495.9L144.7,495.4L144.4,494.4L145.4,493.4L147.6,492.6L154.6,491.8L161.1,492.5L163.7,493.4L164.9,494.4L164.7,495.4L163.6,496.1Z" fill="#000" fill-opacity="0.015" stroke="#222" stroke-width="0.5"/>
<path d="M182.1,504.0L179.1,503.6L174.1,501.8L173.2,500.9L174.2,495.9L175.2,493.9L177.6,491.8L181.1,490.8L184.1,491.1L186.6,492.5L188.2,494.4L188.9,496.9L188.5,499.4L187.3,501.4L185.1,503.0ZM158.1,495.9L155.1,496.3L151.6,496.0L149.5,495.4L149.0,494.9L149.1,494.4L152.1,493.3L157.6,493.4L160.0,494.4L160.0,494.9L159.5,495.4Z" fill="#000" fill-opacity="0.015" stroke="#222" stroke-width="0.5"/>
<path d="M183.1,502.9L181.1,503.1L178.6,502.3L176.7,500.9L175.7,499.4L175.5,496.9L176.4,494.4L178.1,492.7L180.1,491.8L182.6,491.6L185.1,492.3L187.0,493.9L188.0,495.9L188.2,497.9L187.2,500.4L185.1,502.2Z" fill="#000" fill-opacity="0.015" stroke="#222" stroke-width="0.5"/>
<path d="M182.1,502.4L180.1,502.1L178.0,500.9L176.8,499.4L176.4,497.4L176.8,495.4L178.1,493.6L180.1,492.5L182.1,492.2L184.1,492.5L186.1,493.8L187.2,495.4L187.6,497.4L187.1,499.4L185.9,500.9L184.1,502.0Z" fill="#000" fill-opacity="0.015" stroke="#222" stroke-width="0.5"/>
<path d="M183.6,501.6L181.6,501.8L180.1,501.4L178.5,500.4L177.5,498.9L177.2,496.9L177.6,495.4L178.6,494.1L180.1,493.2L182.1,492.8L184.1,493.2L185.9,494.4L186.8,495.9L187.0,497.9L186.4,499.4L185.1,500.8Z" fill="#000" fill-opacity="0.015" stroke="#222" stroke-width="0.5"/>
<path d="M183.6,501.0L182.1,501.2L180.6,500.9L179.1,500.0L178.3,498.9L177.9,497.4L178.2,495.9L180.1,493.9L181.6,493.4L183.6,493.6L185.1,494.5L186.1,495.9L186.4,497.4L186.0,498.9L185.1,500.1Z" fill="#000" fill-opacity="0.015" stroke="#222" stroke-width="0.5"/>
<path d="M183.1,500.4L180.6,500.2L178.9,498.4L178.7,496.9L179.0,495.9L179.8,494.9L181.1,494.2L183.8,494.4L185.0,495.4L185.6,496.4L185.7,497.9L185.2,498.9Z" fill="#000" fill-opacity="0.015" stroke="#222" stroke-width="0.5"/>
<path d="M183.6,499.5L181.6,499.8L180.0,498.9L179.5,496.9L180.6,495.2L182.6,494.7L184.6,495.9L184.9,497.9Z" fill="#000" fill-opacity="0.015" stroke="#222" stroke-width="0.5"/>
<path d="M182.6,499.0L181.4,498.9L180.4,497.9L180.6,496.4L181.6,495.6L183.1,495.7L184.1,496.9L183.7,498.4Z" fill="#000" fill-opacity="0.015" stroke="#222" stroke-width="0.5"/>
<ellipse cx="182.30" cy="497.30" rx="2.0" ry="1.9" transform="rotate(0 182.30 497.30)" fill="#000" fill-opacity="1.0" filter="url(#bl1)"/>
<line x1="165.60" y1="476.90" x2="165.60" y2="554.00" stroke="#000" stroke-width="1.7"/>
<line x1="121.10" y1="506.40" x2="198.60" y2="506.40" stroke="#000" stroke-width="1.7"/>
<rect x="121.10" y="476.90" width="77.50" height="77.10" fill="none" stroke="#000" stroke-width="1.5"/>
<path d="M126.53,554.00v2.3M129.70,554.00v2.3M131.95,554.00v2.3M133.70,554.00v2.3M135.12,554.00v2.3M136.33,554.00v2.3M137.38,554.00v2.3M138.30,554.00v2.3M139.12,554.00v3.4M144.55,554.00v2.3M147.72,554.00v2.3M149.97,554.00v2.3M151.72,554.00v2.3M153.15,554.00v2.3M154.35,554.00v2.3M155.40,554.00v2.3M156.32,554.00v2.3M157.15,554.00v3.4M162.57,554.00v2.3M165.75,554.00v2.3M168.00,554.00v2.3M169.74,554.00v2.3M171.17,554.00v2.3M172.38,554.00v2.3M173.42,554.00v2.3M174.35,554.00v2.3M175.17,554.00v3.4M180.60,554.00v2.3M183.77,554.00v2.3M186.02,554.00v2.3M187.77,554.00v2.3M189.19,554.00v2.3M190.40,554.00v2.3M191.45,554.00v2.3M192.37,554.00v2.3M193.19,554.00v3.4M121.10,548.60h-2.3M121.10,545.45h-2.3M121.10,543.20h-2.3M121.10,541.47h-2.3M121.10,540.05h-2.3M121.10,538.85h-2.3M121.10,537.81h-2.3M121.10,536.89h-2.3M121.10,536.07h-3.4M121.10,530.67h-2.3M121.10,527.51h-2.3M121.10,525.27h-2.3M121.10,523.54h-2.3M121.10,522.12h-2.3M121.10,520.92h-2.3M121.10,519.88h-2.3M121.10,518.96h-2.3M121.10,518.14h-3.4M121.10,512.74h-2.3M121.10,509.58h-2.3M121.10,507.34h-2.3M121.10,505.61h-2.3M121.10,504.19h-2.3M121.10,502.99h-2.3M121.10,501.95h-2.3M121.10,501.03h-2.3M121.10,500.21h-3.4M121.10,494.81h-2.3M121.10,491.65h-2.3M121.10,489.41h-2.3M121.10,487.68h-2.3M121.10,486.26h-2.3M121.10,485.06h-2.3M121.10,484.02h-2.3M121.10,483.10h-2.3M121.10,482.28h-3.4" stroke="#000" stroke-width="0.85" fill="none"/>
<text x="123.20" y="485.57" font-size="8.2" text-anchor="start" fill="#1a1a1a" textLength="10.03" lengthAdjust="spacingAndGlyphs">4.9</text>
<text x="195.00" y="485.57" font-size="8.2" text-anchor="end" fill="#1a1a1a" textLength="14.04" lengthAdjust="spacingAndGlyphs">90.0</text>
<text x="123.80" y="553.17" font-size="8.2" text-anchor="start" fill="#1a1a1a" textLength="10.03" lengthAdjust="spacingAndGlyphs">1.7</text>
<text x="192.00" y="553.17" font-size="8.2" text-anchor="end" fill="#1a1a1a" textLength="10.03" lengthAdjust="spacingAndGlyphs">3.4</text>
<path d="M256.7,539.9h0.7M265.9,508.7h0.7M259.4,523.5h0.7M234.6,507.0h0.7M242.4,513.5h0.7M254.2,543.2h0.7M249.8,538.5h0.7M226.0,504.5h0.7M230.5,523.5h0.7M248.8,498.6h0.7M265.0,517.4h0.7M237.7,524.0h0.7M231.5,529.5h0.7M273.3,517.0h0.7M237.9,537.5h0.7M266.9,498.0h0.7M248.8,521.9h0.7M255.7,519.3h0.7M264.2,509.3h0.7M235.0,507.4h0.7M257.6,512.7h0.7M247.6,503.4h0.7M234.9,525.0h0.7M247.1,509.9h0.7M246.0,500.6h0.7M243.8,538.6h0.7M274.7,536.0h0.7M274.8,503.8h0.7M233.0,524.3h0.7M252.0,505.1h0.7M270.6,514.2h0.7M252.5,515.9h0.7M264.3,520.4h0.7M240.8,544.3h0.7M267.9,532.5h0.7M267.3,532.2h0.7M261.5,538.6h0.7M239.1,511.3h0.7M252.1,514.1h0.7M247.2,525.3h0.7M230.4,518.2h0.7M238.2,501.4h0.7M266.3,525.9h0.7M219.6,537.3h0.7M244.1,521.8h0.7M246.1,517.1h0.7M238.3,509.4h0.7M278.4,531.3h0.7M249.9,506.6h0.7M268.4,543.1h0.7M241.0,521.8h0.7M261.9,526.4h0.7M244.9,504.9h0.7M245.5,543.1h0.7M253.3,545.6h0.7M263.5,525.8h0.7M261.1,493.6h0.7M282.2,524.4h0.7M235.7,526.7h0.7M252.7,526.6h0.7M254.3,504.1h0.7M255.1,506.0h0.7M258.4,525.3h0.7M214.5,506.7h0.7M248.2,537.6h0.7M267.7,526.4h0.7M269.8,520.6h0.7M261.1,536.6h0.7M246.3,529.0h0.7M268.2,504.1h0.7M225.8,523.4h0.7M265.6,532.9h0.7M270.9,506.7h0.7M256.3,537.2h0.7M237.9,522.5h0.7M230.7,498.9h0.7M227.9,540.8h0.7M241.1,497.1h0.7M262.6,534.5h0.7M247.5,501.6h0.7M282.0,530.9h0.7M249.2,509.3h0.7M263.4,514.1h0.7M262.7,507.8h0.7M234.7,529.8h0.7M278.4,537.5h0.7M239.7,502.9h0.7M287.1,520.0h0.7M268.3,525.1h0.7M219.5,528.3h0.7M251.6,507.3h0.7M273.1,526.2h0.7M250.9,504.5h0.7M274.1,535.1h0.7M246.1,504.2h0.7M242.8,504.3h0.7M258.8,508.2h0.7M242.1,528.7h0.7M243.8,530.4h0.7M277.4,542.5h0.7M253.8,541.5h0.7M232.2,530.3h0.7M266.6,527.9h0.7M257.3,519.7h0.7M261.4,526.2h0.7M239.9,528.3h0.7M229.1,507.5h0.7M258.5,527.8h0.7M283.2,483.5h0.7M238.5,497.7h0.7M240.7,500.9h0.7M243.5,525.9h0.7M238.5,508.0h0.7M245.2,540.7h0.7M218.1,523.7h0.7M267.0,502.8h0.7M245.4,531.1h0.7M230.3,521.1h0.7M267.5,516.6h0.7M245.5,543.8h0.7M215.4,504.2h0.7M269.1,529.9h0.7M256.1,543.5h0.7M274.0,531.3h0.7M233.4,516.8h0.7M219.0,547.5h0.7M244.4,507.8h0.7M266.5,514.9h0.7M238.9,532.5h0.7M229.8,525.1h0.7M263.4,507.8h0.7M228.2,538.7h0.7M262.0,539.7h0.7M250.1,551.3h0.7M225.1,512.9h0.7M234.0,507.8h0.7M237.1,527.4h0.7M213.9,510.5h0.7M252.7,539.1h0.7M231.3,507.7h0.7M273.6,538.9h0.7M237.8,532.8h0.7M263.5,533.8h0.7M233.4,508.1h0.7M273.4,509.4h0.7M267.8,533.4h0.7M235.5,518.3h0.7M229.7,502.5h0.7M230.4,510.3h0.7M239.5,530.6h0.7M276.3,522.3h0.7M232.3,503.2h0.7M230.3,550.0h0.7M246.5,534.0h0.7M274.2,528.1h0.7M237.0,506.7h0.7M229.3,504.0h0.7M242.4,544.8h0.7M235.5,498.5h0.7M273.7,504.4h0.7M252.0,502.6h0.7M220.6,504.2h0.7M239.7,500.7h0.7M224.0,527.0h0.7M233.9,502.0h0.7M271.3,514.5h0.7M274.1,526.8h0.7M270.6,529.3h0.7M244.1,495.8h0.7M273.8,546.1h0.7M227.9,507.7h0.7M224.3,528.9h0.7M270.0,517.0h0.7M267.1,508.5h0.7M231.5,552.0h0.7M219.1,527.1h0.7M239.7,505.8h0.7M238.8,525.9h0.7M230.3,530.5h0.7M221.9,519.6h0.7M243.0,499.3h0.7M248.7,551.4h0.7M224.0,502.1h0.7M279.6,514.2h0.7M252.6,542.2h0.7M274.8,523.8h0.7M243.9,533.6h0.7M251.5,542.9h0.7M245.5,524.1h0.7M262.6,523.2h0.7M245.1,533.9h0.7M219.1,506.8h0.7M260.1,489.5h0.7M270.3,519.9h0.7M245.9,525.8h0.7M236.1,501.3h0.7M283.0,506.0h0.7M219.3,503.9h0.7M260.4,506.1h0.7M243.3,538.2h0.7M224.6,541.0h0.7M271.0,524.2h0.7M262.2,504.1h0.7M231.3,503.5h0.7M216.4,509.0h0.7M241.3,498.5h0.7M268.9,521.2h0.7M248.3,496.9h0.7M243.5,539.5h0.7M240.4,526.0h0.7M270.8,522.4h0.7M279.8,542.0h0.7M250.4,547.7h0.7M271.3,532.5h0.7M217.8,537.0h0.7M281.3,518.7h0.7M267.6,529.5h0.7M262.4,517.8h0.7M231.0,529.2h0.7M267.8,525.3h0.7M277.8,529.0h0.7M270.2,515.3h0.7M230.0,517.1h0.7M223.5,531.7h0.7M230.5,501.8h0.7M254.8,515.5h0.7M236.8,538.3h0.7M267.1,523.9h0.7M234.6,502.8h0.7M251.9,501.8h0.7M269.4,503.1h0.7M237.1,546.5h0.7M242.1,526.6h0.7M213.3,501.6h0.7M247.7,503.3h0.7M263.1,514.3h0.7M254.5,518.2h0.7M235.0,498.6h0.7M247.4,498.4h0.7M231.7,507.3h0.7M251.9,527.7h0.7M227.6,518.2h0.7M229.4,543.2h0.7M263.1,531.9h0.7M240.0,501.6h0.7M270.9,509.6h0.7M251.2,498.4h0.7M226.4,513.0h0.7M241.2,504.1h0.7M265.4,511.8h0.7M232.5,537.3h0.7M232.2,520.9h0.7M241.4,494.9h0.7M258.3,521.6h0.7M240.1,512.6h0.7M246.6,502.3h0.7M248.0,525.8h0.7M229.8,495.8h0.7M253.7,536.6h0.7M274.7,533.5h0.7M245.1,544.1h0.7M233.4,527.7h0.7M256.9,526.4h0.7M241.2,549.0h0.7M282.0,532.6h0.7M244.0,552.7h0.7M247.9,520.5h0.7M250.7,545.2h0.7M238.1,540.9h0.7M273.1,503.6h0.7M270.1,527.7h0.7M246.2,523.5h0.7M274.8,514.9h0.7M233.4,551.3h0.7M241.9,504.0h0.7M238.6,513.4h0.7M271.9,532.9h0.7M268.5,534.3h0.7M219.2,516.9h0.7M235.3,511.2h0.7M274.6,520.7h0.7M216.9,524.0h0.7M284.1,531.6h0.7M227.5,503.3h0.7M262.9,547.7h0.7M260.4,540.1h0.7M279.0,521.6h0.7M260.2,516.4h0.7M240.6,509.7h0.7M249.6,520.7h0.7M232.8,508.5h0.7M249.5,506.4h0.7M235.6,535.3h0.7M250.3,543.8h0.7M269.9,521.6h0.7M276.9,550.1h0.7M263.6,504.4h0.7M262.9,533.7h0.7M230.9,523.0h0.7M264.5,542.8h0.7M274.1,542.6h0.7M235.8,531.6h0.7M274.4,535.6h0.7M239.9,500.3h0.7M276.1,485.7h0.7M240.7,511.6h0.7M238.9,551.1h0.7M268.0,518.4h0.7M226.8,543.9h0.7M248.8,542.8h0.7M237.4,505.2h0.7M242.2,546.5h0.7M247.7,510.6h0.7M247.8,525.7h0.7M273.6,517.2h0.7M228.0,507.1h0.7M250.6,533.7h0.7M222.9,506.0h0.7M234.8,547.7h0.7M278.1,528.9h0.7M255.3,521.6h0.7M270.3,508.9h0.7M238.7,498.9h0.7M263.0,522.0h0.7M272.4,537.1h0.7M262.4,515.5h0.7M254.7,528.5h0.7M241.6,500.1h0.7M272.4,511.1h0.7M257.3,536.7h0.7M258.6,547.4h0.7M277.1,549.1h0.7M232.3,536.1h0.7M233.7,506.5h0.7M235.1,525.5h0.7M267.8,534.8h0.7M254.9,530.6h0.7M225.2,505.9h0.7M267.0,529.1h0.7M279.9,510.7h0.7M259.1,535.4h0.7M260.4,516.6h0.7M214.1,529.2h0.7M253.1,539.0h0.7M241.3,505.5h0.7M227.5,514.8h0.7M271.9,513.2h0.7M257.5,489.6h0.7M262.0,524.8h0.7M222.7,514.2h0.7M238.3,531.0h0.7M220.3,543.6h0.7M223.9,523.8h0.7M258.1,522.1h0.7M238.8,551.7h0.7M234.8,522.1h0.7M264.9,523.2h0.7M252.8,531.3h0.7M219.1,534.1h0.7M253.9,510.4h0.7M252.1,506.2h0.7M272.2,513.3h0.7M281.4,517.3h0.7M225.7,513.8h0.7M246.5,535.9h0.7M254.6,519.5h0.7M238.6,494.4h0.7M247.9,536.2h0.7M231.8,528.1h0.7M261.1,521.8h0.7M229.0,544.3h0.7M245.2,504.2h0.7M282.9,529.1h0.7M271.7,516.9h0.7M236.0,530.3h0.7M274.0,508.0h0.7M220.5,502.5h0.7M273.7,512.5h0.7M221.0,534.7h0.7M270.7,531.3h0.7M244.0,502.5h0.7M245.3,546.7h0.7M235.9,547.9h0.7M266.6,508.6h0.7M267.9,527.9h0.7M241.5,547.3h0.7M266.9,520.0h0.7M260.9,508.6h0.7M261.3,531.8h0.7M226.7,547.6h0.7M215.6,505.6h0.7M242.4,511.1h0.7M246.0,551.2h0.7M273.2,512.7h0.7M260.1,513.7h0.7M240.2,551.8h0.7M221.3,504.9h0.7M258.2,523.5h0.7M240.4,524.3h0.7M267.3,526.7h0.7M235.9,508.8h0.7M264.2,514.0h0.7M236.9,551.1h0.7M242.4,527.0h0.7M279.0,542.2h0.7M260.8,499.7h0.7M274.8,544.5h0.7M225.5,518.0h0.7M242.3,531.5h0.7M236.9,537.3h0.7M238.1,516.3h0.7M265.6,536.0h0.7M266.5,510.5h0.7M247.3,549.1h0.7M236.3,517.3h0.7M229.6,504.3h0.7M266.8,511.6h0.7M230.8,534.3h0.7M234.0,488.3h0.7M238.5,512.4h0.7M269.1,503.5h0.7M233.2,492.4h0.7M277.5,532.0h0.7M233.9,524.7h0.7M271.5,543.3h0.7M243.3,533.1h0.7M248.2,514.8h0.7M264.8,510.1h0.7M267.9,548.7h0.7M245.9,542.1h0.7M247.7,480.6h0.7M231.5,526.1h0.7M248.6,517.2h0.7M267.6,536.4h0.7M252.6,534.4h0.7M271.0,505.8h0.7M245.0,522.5h0.7M254.6,546.2h0.7M229.8,520.1h0.7M276.6,498.5h0.7M254.6,499.8h0.7M266.2,522.5h0.7M226.0,521.0h0.7M221.5,526.1h0.7M265.4,511.9h0.7M264.9,501.4h0.7M269.1,517.3h0.7M272.9,507.9h0.7M254.4,536.2h0.7M269.6,526.7h0.7M223.9,547.4h0.7M269.0,540.6h0.7M241.0,503.0h0.7M240.6,533.6h0.7M247.6,551.5h0.7M246.3,516.0h0.7M232.6,505.4h0.7M235.4,536.1h0.7M268.0,519.2h0.7M262.3,519.5h0.7M236.4,517.5h0.7M254.4,524.4h0.7M265.5,532.5h0.7M278.8,504.5h0.7M249.3,504.2h0.7M233.9,507.6h0.7M274.6,541.0h0.7M230.5,513.6h0.7M246.8,518.0h0.7M263.3,543.8h0.7M231.6,520.3h0.7M264.2,508.4h0.7M246.3,504.3h0.7M250.3,551.5h0.7M216.2,521.5h0.7M248.3,505.3h0.7M221.1,546.2h0.7M272.7,515.2h0.7M253.5,546.4h0.7M230.4,528.1h0.7M244.7,530.7h0.7M232.6,541.5h0.7M262.1,523.2h0.7M251.4,528.2h0.7M235.8,517.4h0.7M272.3,547.9h0.7M262.4,536.3h0.7M263.5,498.9h0.7M235.2,496.8h0.7M279.3,533.6h0.7M268.9,515.8h0.7M269.8,540.5h0.7M215.4,550.3h0.7M237.4,536.2h0.7M250.9,537.6h0.7M226.4,532.9h0.7M241.5,531.4h0.7M231.3,495.0h0.7M271.9,551.5h0.7M222.1,530.7h0.7M267.5,543.5h0.7M250.9,514.9h0.7M227.2,528.3h0.7M255.1,502.8h0.7M233.2,501.4h0.7M267.8,517.2h0.7M231.6,542.3h0.7M242.7,540.8h0.7M275.8,528.1h0.7M230.2,539.9h0.7M253.0,512.7h0.7M263.6,518.6h0.7M270.8,518.5h0.7M237.4,508.2h0.7M272.0,544.7h0.7M250.8,503.4h0.7M266.7,514.6h0.7M257.2,500.5h0.7M247.7,544.6h0.7M236.2,512.3h0.7" stroke="#777" stroke-width="0.7" fill="none"/>
<path d="M237.3,541.4L234.8,541.5L232.3,540.8L230.3,539.6L228.7,537.9L227.3,535.4L226.6,532.9L226.5,530.4L227.0,527.9L229.4,523.4L237.4,513.4L242.1,508.4L244.7,503.9L248.3,501.4L248.0,500.9L244.8,500.6L222.8,499.7L212.8,498.2L212.3,498.1L212.1,496.9L212.3,492.8L222.3,491.3L234.8,490.6L248.8,490.8L263.8,492.1L269.8,490.9L273.8,491.5L274.5,490.9L276.3,486.7L276.8,486.3L277.8,486.3L279.0,487.9L280.1,491.9L280.7,495.4L281.0,501.9L280.1,512.4L279.1,515.9L277.8,517.9L277.3,518.2L276.3,517.9L274.9,515.4L273.3,503.6L272.3,503.4L269.3,504.1L268.4,504.4L268.2,504.9L271.7,511.9L273.5,517.9L273.7,523.4L273.3,525.7L272.5,527.4L271.3,528.5L269.3,528.8L267.3,527.9L265.3,526.2L261.6,520.9L257.4,511.4L256.3,510.7L255.5,511.9L254.6,517.9L253.0,522.9L247.6,533.4L245.3,536.6L242.8,539.0L240.3,540.5Z" fill="#000" fill-opacity="0.012" stroke="#2a2a2a" stroke-width="0.5"/>
<path d="M277.8,515.4L276.8,515.5L275.5,513.4L273.8,502.6L273.3,502.3L269.8,503.1L267.3,502.7L265.8,501.8L263.3,498.8L262.3,498.6L251.3,499.6L244.8,499.8L233.3,499.7L223.3,499.1L216.8,498.2L212.3,496.9L212.3,494.0L215.3,493.0L220.3,492.1L234.8,491.3L250.8,491.5L263.8,493.0L268.3,491.7L270.3,491.5L274.3,492.5L276.3,489.2L277.3,488.4L278.4,489.4L279.5,492.4L280.2,495.9L280.4,500.9L280.2,506.9L279.6,510.9L278.8,513.9ZM237.3,538.9L233.8,538.6L231.3,536.9L229.6,534.4L229.0,530.9L229.5,527.9L230.7,525.4L238.0,515.4L240.8,512.4L245.7,508.4L247.1,504.9L249.3,503.4L253.3,503.1L257.8,504.5L262.3,503.8L263.8,504.2L265.3,505.1L268.7,509.4L271.1,514.9L271.9,520.9L271.6,522.9L270.8,524.7L269.8,525.4L268.3,525.4L266.8,524.7L264.8,522.8L263.2,520.4L261.5,516.9L258.9,507.4L257.8,506.3L256.3,506.6L253.3,508.2L252.2,509.4L252.9,514.9L252.5,518.9L251.0,523.4L248.0,529.4L245.3,533.5L242.8,536.2L240.3,538.0Z" fill="#000" fill-opacity="0.012" stroke="#2a2a2a" stroke-width="0.5"/>
<path d="M277.3,513.6L276.3,512.8L275.6,510.9L274.3,501.9L273.8,501.4L269.8,502.5L267.8,502.1L266.0,500.9L263.3,497.5L248.3,499.1L231.3,499.1L223.8,498.6L217.8,497.8L214.3,496.7L213.0,495.4L214.3,494.1L218.3,493.0L224.3,492.2L232.3,491.8L250.3,492.1L256.8,492.7L263.8,494.0L268.3,492.3L270.3,492.1L274.3,493.5L275.3,492.9L276.3,491.2L277.3,490.4L278.3,491.3L279.2,493.9L280.0,501.9L279.1,510.4L278.3,512.7ZM268.8,522.0L267.3,522.0L265.8,521.0L264.3,519.1L263.0,516.4L262.1,513.4L261.9,510.9L262.3,508.6L263.3,507.6L264.8,507.9L266.3,509.1L268.9,513.4L269.8,516.4L270.0,518.9L269.7,520.9ZM238.3,536.5L236.3,536.6L234.8,536.3L233.3,535.4L232.3,534.3L231.3,530.9L232.1,526.9L236.1,520.4L240.8,514.6L244.8,511.8L246.8,511.3L248.3,511.4L250.1,512.9L250.9,515.4L250.8,518.9L249.6,522.9L247.1,527.9L244.0,532.4L241.3,535.0Z" fill="#000" fill-opacity="0.012" stroke="#2a2a2a" stroke-width="0.5"/>
<path d="M250.3,498.4L238.3,498.8L224.8,498.3L217.8,497.2L215.8,496.4L214.9,495.4L215.3,494.7L216.8,493.9L220.8,493.0L226.8,492.4L238.8,492.2L248.3,492.4L254.8,493.1L259.8,494.2L261.9,495.4L261.2,496.4L258.8,497.2ZM277.8,511.4L277.3,511.7L276.8,511.5L276.0,509.9L274.8,501.4L274.3,500.4L271.8,501.6L269.8,502.0L267.8,501.5L265.9,499.9L264.2,495.9L266.0,493.9L268.3,492.8L270.3,492.5L272.3,493.1L274.8,494.6L276.8,492.4L277.3,492.2L278.1,492.9L279.2,496.4L279.5,502.9L279.0,508.4ZM266.8,517.1L265.8,516.7L265.1,515.4L264.8,513.5L265.3,512.8L266.3,513.5L266.8,514.4L267.2,515.9ZM238.8,534.0L236.3,534.0L235.1,533.4L234.2,532.4L233.6,529.9L234.4,526.4L237.6,520.9L241.3,516.3L244.8,514.1L247.3,514.2L248.5,515.4L249.1,517.4L248.8,520.4L247.8,523.4L245.8,527.2L243.3,530.7L240.9,532.9Z" fill="#000" fill-opacity="0.012" stroke="#2a2a2a" stroke-width="0.5"/>
<path d="M250.3,497.9L240.3,498.4L226.8,498.0L219.3,497.0L217.6,496.4L216.6,495.4L216.8,494.9L218.3,494.1L222.8,493.1L238.3,492.6L252.3,493.3L257.4,494.4L258.9,495.4L258.0,496.4L256.5,496.9ZM277.8,509.5L277.3,509.8L276.8,509.5L276.3,508.4L275.3,500.5L274.8,499.0L272.3,500.9L270.3,501.5L267.8,501.0L266.2,499.4L265.2,496.4L265.5,495.4L266.8,494.0L268.8,493.1L271.3,493.2L272.8,494.0L274.8,496.0L275.3,495.9L276.8,494.0L277.8,494.2L278.7,496.9L279.1,501.9L278.8,506.4ZM239.3,531.0L237.3,530.8L236.4,529.4L236.4,527.4L237.3,524.9L239.3,521.3L241.8,518.4L243.8,517.1L245.8,517.1L246.6,517.9L246.9,519.4L246.6,521.4L245.7,523.9L242.8,528.4L240.8,530.2Z" fill="#000" fill-opacity="0.012" stroke="#2a2a2a" stroke-width="0.5"/>
<path d="M242.8,497.9L225.3,497.5L220.3,496.7L218.4,495.9L218.1,495.4L219.2,494.4L223.3,493.5L236.3,493.0L249.8,493.6L254.2,494.4L255.9,495.4L254.8,496.4L252.8,496.9ZM270.8,501.0L269.3,501.1L267.8,500.5L266.7,499.4L266.0,497.9L265.8,496.4L266.2,495.4L267.3,494.2L268.8,493.5L270.3,493.4L271.8,493.8L273.2,494.9L274.0,496.4L274.1,497.9L273.6,498.9L272.3,500.4ZM277.3,507.7L276.8,507.3L276.3,505.4L275.9,498.9L276.3,496.7L277.3,495.8L278.3,497.9L278.6,501.9L278.3,505.7L277.8,507.3Z" fill="#000" fill-opacity="0.012" stroke="#2a2a2a" stroke-width="0.5"/>
<path d="M242.3,497.4L225.8,497.1L221.4,496.4L219.9,495.4L221.2,494.4L223.3,493.9L231.8,493.5L246.8,493.9L250.2,494.4L252.5,495.4L252.2,495.9L249.8,496.7ZM270.8,500.6L268.3,500.2L267.3,499.4L266.5,497.9L266.4,496.4L266.8,495.4L268.8,494.0L270.3,493.8L271.8,494.3L273.4,496.4L273.5,497.4L273.0,498.9L272.1,499.9ZM277.3,504.3L276.7,501.4L277.3,499.2L277.8,501.9Z" fill="#000" fill-opacity="0.012" stroke="#2a2a2a" stroke-width="0.5"/>
<path d="M235.3,496.9L225.8,496.6L222.8,496.0L221.9,495.4L222.3,494.9L223.8,494.4L230.3,493.9L243.8,494.4L247.3,494.9L248.2,495.4L247.8,495.9L245.3,496.5ZM270.8,500.1L269.3,500.1L268.3,499.7L267.0,497.9L267.2,495.9L268.8,494.5L270.3,494.3L271.3,494.6L272.8,496.4L272.7,498.4L272.0,499.4Z" fill="#000" fill-opacity="0.012" stroke="#2a2a2a" stroke-width="0.5"/>
<path d="M235.8,495.9L228.3,496.1L226.1,495.9L225.0,495.4L225.8,494.9L229.8,494.6L238.3,495.4ZM270.8,499.5L269.0,499.4L267.8,498.2L267.6,496.4L268.8,495.1L270.8,495.0L272.2,496.4L272.1,498.4Z" fill="#000" fill-opacity="0.012" stroke="#2a2a2a" stroke-width="0.5"/>
<path d="M270.3,498.9L268.8,498.5L268.2,497.4L268.8,495.9L269.8,495.5L271.0,495.9L271.7,496.9L271.3,498.3Z" fill="#000" fill-opacity="0.012" stroke="#2a2a2a" stroke-width="0.5"/>
<ellipse cx="236.00" cy="493.40" rx="10" ry="0.9" transform="rotate(0 236.00 493.40)" fill="#000" fill-opacity="0.85" filter="url(#bl1)"/>
<ellipse cx="236.00" cy="498.20" rx="10" ry="0.9" transform="rotate(0 236.00 498.20)" fill="#000" fill-opacity="0.7" filter="url(#bl1)"/>
<ellipse cx="270.00" cy="497.30" rx="1.8" ry="1.8" transform="rotate(0 270.00 497.30)" fill="#000" fill-opacity="1.0" filter="url(#bl1)"/>
<path d="M272,491.5Q279,490.5 278,498T276,511" fill="none" stroke="#000" stroke-width="1.8" stroke-opacity="0.9" stroke-linecap="round" filter="url(#bl1)"/>
<line x1="256.80" y1="476.90" x2="256.80" y2="554.20" stroke="#555" stroke-width="0.8"/>
<line x1="212.30" y1="506.50" x2="289.60" y2="506.50" stroke="#555" stroke-width="0.8"/>
<rect x="212.30" y="476.90" width="77.30" height="77.30" fill="none" stroke="#000" stroke-width="1.5"/>
<path d="M217.71,554.20v2.3M220.88,554.20v2.3M223.12,554.20v2.3M224.87,554.20v2.3M226.29,554.20v2.3M227.49,554.20v2.3M228.53,554.20v2.3M229.45,554.20v2.3M230.28,554.20v3.4M235.69,554.20v2.3M238.85,554.20v2.3M241.10,554.20v2.3M242.84,554.20v2.3M244.27,554.20v2.3M245.47,554.20v2.3M246.51,554.20v2.3M247.43,554.20v2.3M248.25,554.20v3.4M253.67,554.20v2.3M256.83,554.20v2.3M259.08,554.20v2.3M260.82,554.20v2.3M262.24,554.20v2.3M263.45,554.20v2.3M264.49,554.20v2.3M265.41,554.20v2.3M266.23,554.20v3.4M271.64,554.20v2.3M274.81,554.20v2.3M277.05,554.20v2.3M278.80,554.20v2.3M280.22,554.20v2.3M281.42,554.20v2.3M282.46,554.20v2.3M283.38,554.20v2.3M284.21,554.20v3.4M212.30,548.79h-2.3M212.30,545.62h-2.3M212.30,543.38h-2.3M212.30,541.63h-2.3M212.30,540.21h-2.3M212.30,539.01h-2.3M212.30,537.97h-2.3M212.30,537.05h-2.3M212.30,536.22h-3.4M212.30,530.81h-2.3M212.30,527.65h-2.3M212.30,525.40h-2.3M212.30,523.66h-2.3M212.30,522.23h-2.3M212.30,521.03h-2.3M212.30,519.99h-2.3M212.30,519.07h-2.3M212.30,518.25h-3.4M212.30,512.83h-2.3M212.30,509.67h-2.3M212.30,507.42h-2.3M212.30,505.68h-2.3M212.30,504.26h-2.3M212.30,503.05h-2.3M212.30,502.01h-2.3M212.30,501.09h-2.3M212.30,500.27h-3.4M212.30,494.86h-2.3M212.30,491.69h-2.3M212.30,489.45h-2.3M212.30,487.70h-2.3M212.30,486.28h-2.3M212.30,485.08h-2.3M212.30,484.04h-2.3M212.30,483.12h-2.3M212.30,482.29h-3.4" stroke="#000" stroke-width="0.85" fill="none"/>
<text x="214.60" y="486.27" font-size="8.2" text-anchor="start" fill="#1a1a1a" textLength="10.03" lengthAdjust="spacingAndGlyphs">9.0</text>
<text x="286.90" y="486.27" font-size="8.2" text-anchor="end" fill="#1a1a1a" textLength="14.04" lengthAdjust="spacingAndGlyphs">64.7</text>
<text x="214.60" y="550.87" font-size="8.2" text-anchor="start" fill="#1a1a1a" textLength="14.04" lengthAdjust="spacingAndGlyphs">17.8</text>
<text x="286.20" y="550.87" font-size="8.2" text-anchor="end" fill="#1a1a1a" textLength="10.03" lengthAdjust="spacingAndGlyphs">8.5</text>
<text transform="translate(115.90,515.90) rotate(-90)" font-size="10.2" text-anchor="middle" fill="#1a1a1a" textLength="18" lengthAdjust="spacingAndGlyphs">CD4</text>
<text x="143.90" y="566.67" font-size="10.2" text-anchor="start" fill="#1a1a1a" textLength="18.5" lengthAdjust="spacingAndGlyphs">CD8</text>
<line x1="164.50" y1="563.60" x2="282.60" y2="563.60" stroke="#1a1a1a" stroke-width="1.0"/>
<path d="M288.60,563.60L280.40,560.30L282.40,563.60L280.40,566.90Z" fill="#000"/>
<path d="M172.3,554.5V568.5" stroke="#000" stroke-width="1" fill="none" stroke-dasharray="3.3,2.1"/>
<path d="M172.20,574.30L169.10,566.80L172.20,568.70L175.30,566.80Z" fill="#000"/>
<path d="M144.2,628.4h0.7M165.8,618.2h0.7M175.3,607.8h0.7M179.3,610.0h0.7M158.6,623.3h0.7M145.6,583.1h0.7M147.3,633.4h0.7M173.3,636.6h0.7M167.8,596.8h0.7M132.2,617.5h0.7M177.2,609.9h0.7M145.9,628.8h0.7M172.4,597.6h0.7M160.5,607.6h0.7M182.4,618.3h0.7M153.3,601.2h0.7M189.1,614.5h0.7M148.5,628.5h0.7M160.5,617.6h0.7M171.4,610.3h0.7M157.3,602.0h0.7M158.7,630.6h0.7M162.9,609.3h0.7M146.3,600.2h0.7M175.7,616.7h0.7M175.0,621.1h0.7M158.9,630.2h0.7M169.9,600.7h0.7M163.1,610.2h0.7M151.6,630.7h0.7M178.7,634.4h0.7M171.5,612.8h0.7M168.6,623.0h0.7M172.3,602.5h0.7M174.3,595.0h0.7M167.8,627.1h0.7M151.5,610.8h0.7M138.8,600.4h0.7M188.3,610.9h0.7M170.8,650.0h0.7M160.2,619.4h0.7M168.1,610.3h0.7M151.4,608.7h0.7M161.4,609.0h0.7M133.4,618.1h0.7M146.5,624.8h0.7M186.1,629.9h0.7M169.4,619.0h0.7M142.6,619.3h0.7M166.1,613.4h0.7M159.8,613.6h0.7M170.4,580.3h0.7M159.8,618.6h0.7M153.3,630.6h0.7M153.1,619.4h0.7M150.1,614.7h0.7M153.3,627.7h0.7M191.6,618.4h0.7M152.6,632.9h0.7M183.5,610.3h0.7M172.6,617.4h0.7M170.7,634.4h0.7M149.2,582.9h0.7M183.0,616.2h0.7M134.6,610.2h0.7M143.2,608.1h0.7M137.8,623.3h0.7M154.4,620.5h0.7M161.9,589.7h0.7M147.4,618.1h0.7M163.5,643.7h0.7M165.4,628.5h0.7M147.8,639.3h0.7M165.4,621.4h0.7M175.7,613.6h0.7M132.0,614.0h0.7M154.7,618.9h0.7M157.4,617.7h0.7M158.7,607.0h0.7M150.9,611.1h0.7" stroke="#888" stroke-width="0.7" fill="none"/>
<path d="M167.6,636.9L164.8,636.6L161.0,632.9L160.5,631.1L161.1,626.6L159.0,628.9L158.6,631.6L157.6,633.1L151.6,634.4L150.1,634.0L148.0,631.6L147.0,628.9L144.8,627.6L143.0,625.4L142.8,621.6L139.3,620.8L136.2,617.1L136.9,612.9L142.6,604.4L143.2,600.6L147.1,592.6L151.1,588.0L156.1,585.2L159.6,585.0L161.0,585.6L163.2,593.9L166.3,596.4L168.7,600.4L170.2,609.1L168.2,611.4L167.5,614.6L165.2,616.4L164.7,617.9L167.6,617.4L169.8,618.4L170.4,618.1L170.0,613.9L172.2,603.9L175.6,597.7L180.8,596.3L182.4,597.4L184.3,600.4L184.6,604.4L183.2,609.4L185.1,612.6L185.3,615.6L185.0,622.9L183.7,630.4L178.3,635.5L171.8,635.0Z" fill="#fff" stroke="none"/>
<path d="M167.6,636.9L164.8,636.6L161.0,632.9L160.5,631.1L161.1,626.6L159.0,628.9L158.6,631.6L157.6,633.1L151.6,634.4L150.1,634.0L148.0,631.6L147.0,628.9L144.8,627.6L143.0,625.4L142.8,621.6L139.3,620.8L136.2,617.1L136.9,612.9L142.6,604.4L143.2,600.6L147.1,592.6L151.1,588.0L156.1,585.2L159.6,585.0L161.0,585.6L163.2,593.9L166.3,596.4L168.7,600.4L170.2,609.1L168.2,611.4L167.5,614.6L165.2,616.4L164.7,617.9L167.6,617.4L169.8,618.4L170.4,618.1L170.0,613.9L172.2,603.9L175.6,597.7L180.8,596.3L182.4,597.4L184.3,600.4L184.6,604.4L183.2,609.4L185.1,612.6L185.3,615.6L185.0,622.9L183.7,630.4L178.3,635.5L171.8,635.0Z" fill="none" stroke="#2a2a2a" stroke-width="0.45"/>
<path d="M152.6,632.5L151.3,632.6L150.1,631.6L148.8,627.9L146.4,625.6L145.2,623.6L145.3,621.9L146.1,620.9L147.3,620.8L149.1,622.0L149.6,621.6L150.0,619.1L149.3,616.8L147.8,616.5L145.1,618.7L142.8,619.2L138.8,617.6L138.1,616.6L138.1,615.1L138.7,613.1L142.9,607.9L146.6,598.9L147.8,597.1L148.1,594.6L149.3,592.4L151.8,589.4L156.3,586.7L158.1,586.4L159.7,587.4L161.8,595.1L164.9,598.4L165.5,601.9L167.6,604.7L167.8,607.9L166.2,610.6L165.6,613.4L161.4,619.4L159.5,625.9L156.7,630.6ZM167.1,635.2L165.3,634.8L162.3,631.4L163.0,622.1L164.6,620.3L166.3,619.4L168.1,619.5L170.1,621.0L171.1,620.4L173.6,608.4L174.1,603.4L176.8,598.7L180.3,598.0L181.9,599.6L183.0,602.6L182.1,609.9L183.8,614.4L183.1,619.6L183.3,622.9L182.2,626.9L179.6,632.1L178.1,633.7L176.3,634.0L171.6,632.7Z" fill="#000" fill-opacity="0.03" stroke="#2a2a2a" stroke-width="0.45"/>
<path d="M152.3,632.0L151.3,631.9L150.3,630.9L149.6,627.5L146.4,623.1L147.0,622.6L148.1,624.1L149.1,624.4L150.3,622.6L150.6,619.6L149.5,613.4L149.5,609.4L148.8,608.7L144.8,607.8L144.3,606.1L146.1,603.4L147.3,599.6L149.1,597.9L149.1,594.4L150.6,591.4L152.1,589.9L156.3,587.3L157.8,587.0L159.1,587.9L161.1,595.4L164.2,598.9L164.2,602.4L166.4,604.1L167.0,606.1L165.1,609.1L164.3,613.1L160.5,620.1L158.5,626.6L155.8,630.3ZM167.1,634.5L165.6,634.1L163.0,630.9L163.6,622.4L165.6,620.4L167.6,620.3L169.5,623.6L170.2,626.4L170.8,626.8L171.6,626.2L172.3,623.9L171.6,621.1L174.3,608.4L174.4,604.4L177.1,599.3L178.6,598.6L180.1,598.6L181.1,599.6L182.4,603.4L181.6,607.9L181.8,611.4L183.2,614.6L182.5,619.1L182.5,623.6L179.3,631.4L178.1,633.0L176.6,633.4L173.5,632.6L172.1,629.7L171.1,628.9L170.3,632.6ZM143.6,618.2L140.2,617.6L139.1,616.9L138.8,615.9L139.6,613.1L143.1,610.4L145.6,611.7L147.1,614.6L145.1,617.1Z" fill="#000" fill-opacity="0.03" stroke="#2a2a2a" stroke-width="0.45"/>
<path d="M152.8,631.2L151.4,631.1L150.6,629.9L150.4,625.9L151.1,620.9L150.4,608.6L149.3,605.4L147.6,604.9L147.3,602.1L147.8,600.4L149.9,598.4L149.9,594.9L151.2,591.4L157.6,587.7L158.6,588.6L160.5,595.9L163.0,599.4L162.6,602.8L165.0,605.4L163.4,608.9L163.2,613.1L159.7,620.9L158.3,625.9L155.6,629.5ZM177.3,632.7L174.8,632.6L173.4,631.4L172.0,627.9L173.0,623.9L172.3,621.1L172.9,616.1L174.9,608.6L175.0,604.6L176.7,602.1L177.6,599.6L179.3,599.0L180.5,599.9L181.8,603.4L181.1,606.9L181.2,610.9L182.6,615.4L181.8,618.6L182.0,623.1L178.6,631.4ZM143.1,617.2L140.5,616.9L139.7,615.1L140.4,613.4L143.1,611.8L144.8,612.5L145.6,614.1L145.0,615.6ZM167.6,633.7L165.8,633.4L163.6,629.6L163.9,623.1L164.6,621.9L166.1,621.1L167.1,621.6L168.5,624.6L169.9,630.6L169.5,632.4Z" fill="#000" fill-opacity="0.03" stroke="#2a2a2a" stroke-width="0.45"/>
<path d="M152.8,630.5L151.8,630.4L151.3,629.4L150.9,607.9L150.3,604.6L148.4,601.9L150.7,598.6L150.5,595.4L151.7,591.6L152.6,590.9L154.6,590.5L156.3,588.8L157.3,588.6L161.2,598.6L161.9,602.9L163.5,606.1L162.4,609.1L162.4,613.1L157.8,625.1L155.3,628.7ZM176.8,632.2L174.3,631.6L172.9,628.6L172.7,627.1L173.7,623.9L172.8,620.9L175.7,605.4L177.5,602.9L178.1,600.2L179.1,599.7L179.9,600.4L181.0,603.6L180.6,607.1L180.8,611.9L181.8,614.9L181.0,618.4L181.5,622.4L178.1,631.1ZM142.8,615.7L141.5,615.6L141.2,614.4L142.4,613.4L143.8,613.3L144.4,614.6ZM167.6,632.9L166.1,632.6L164.3,629.1L164.4,624.1L165.6,622.4L167.0,624.9L167.2,627.9L169.1,630.6L168.8,632.0Z" fill="#000" fill-opacity="0.03" stroke="#2a2a2a" stroke-width="0.45"/>
<path d="M153.1,629.2L152.3,628.9L152.2,627.9L151.4,607.6L149.8,601.6L151.6,598.1L151.3,595.6L152.3,592.1L156.8,591.2L158.6,593.4L162.7,606.4L161.7,609.1L161.8,612.4L160.4,617.6L158.3,621.1L157.3,624.1L155.3,625.6L154.7,627.9ZM154.7,597.4L154.8,596.8L154.3,596.4ZM176.6,631.7L174.6,631.2L173.4,628.6L173.3,627.1L174.5,624.4L173.3,620.6L173.9,616.1L176.4,606.4L179.1,602.6L179.9,603.6L180.1,612.4L181.0,615.1L180.3,618.4L180.9,622.1L178.4,627.6L177.7,630.6Z" fill="#000" fill-opacity="0.03" stroke="#2a2a2a" stroke-width="0.45"/>
<path d="M153.6,625.5L152.3,623.1L151.6,611.1L151.8,607.6L150.7,601.6L152.6,598.6L154.8,599.3L155.3,599.0L156.0,597.1L155.8,593.9L156.8,593.1L157.9,593.9L159.6,598.1L161.8,606.4L160.9,609.4L161.0,612.1L159.7,614.6L159.6,617.9L157.3,620.9L156.3,623.2ZM178.6,625.4L177.6,625.4L175.8,624.1L174.2,622.1L173.8,620.9L174.4,615.9L175.8,610.9L177.3,606.9L178.3,606.2L179.1,606.8L179.6,608.6L179.2,612.4L180.3,615.4L179.5,618.6L180.3,622.4ZM157.5,613.4L157.8,612.4L157.1,611.9L156.6,613.0ZM176.6,631.0L175.1,630.9L174.1,629.4L173.8,627.4L174.8,626.1L176.3,626.3L177.3,627.3L177.4,629.6Z" fill="#000" fill-opacity="0.03" stroke="#2a2a2a" stroke-width="0.45"/>
<path d="M159.3,609.2L157.8,608.6L156.5,603.4L156.2,599.6L157.3,596.5L159.0,598.4L160.3,604.9L160.3,607.4ZM154.1,623.5L153.1,623.1L152.3,618.4L152.0,610.9L152.4,607.4L151.4,602.4L151.8,600.7L152.8,599.8L153.8,600.6L154.6,606.4L156.0,609.4L155.3,612.6L155.5,614.6L156.1,615.6L158.1,616.3L158.6,617.1L158.1,618.4L155.5,620.6ZM178.6,623.7L177.1,623.5L175.1,622.0L174.6,620.9L175.1,615.1L176.8,610.9L177.8,610.1L177.9,612.6L179.3,615.6L178.6,619.1L179.5,622.1ZM176.1,630.2L175.3,630.1L174.6,629.0L174.5,627.9L175.1,627.2L176.1,627.5L176.7,628.4Z" fill="#000" fill-opacity="0.03" stroke="#2a2a2a" stroke-width="0.45"/>
<path d="M158.6,605.1L157.8,604.7L157.3,602.9L157.1,599.6L157.8,598.5L159.0,603.6ZM153.3,605.2L152.8,605.2L152.2,603.9L152.6,601.8L153.6,603.1ZM153.8,619.9L152.8,617.6L152.5,610.9L152.8,609.0L153.6,608.1L154.8,609.6L154.2,613.6L155.5,617.9ZM176.6,620.3L176.0,619.9L175.8,616.1L176.6,614.5L177.3,615.1L177.5,616.6Z" fill="#000" fill-opacity="0.03" stroke="#2a2a2a" stroke-width="0.45"/>
<ellipse cx="177.4" cy="618.6" rx="4.6" ry="10.4" fill="#000" fill-opacity="0.25" stroke="#000" stroke-width="2"/><ellipse cx="177.6" cy="619" rx="1.2" ry="5" fill="#fff" fill-opacity="0.6" filter="url(#bl1)"/>
<ellipse cx="167.2" cy="627.3" rx="3.3" ry="6.4" fill="#000" fill-opacity="0.25" stroke="#000" stroke-width="1.9"/>
<ellipse cx="153.00" cy="612.00" rx="1.0" ry="11" transform="rotate(0 153.00 612.00)" fill="#000" fill-opacity="0.75" filter="url(#bl1)"/>
<ellipse cx="157.00" cy="605.00" rx="3" ry="13" transform="rotate(0 157.00 605.00)" fill="#000" fill-opacity="0.15" filter="url(#bl2)"/>
<line x1="160.60" y1="576.90" x2="160.60" y2="654.70" stroke="#222" stroke-width="0.9"/>
<line x1="121.10" y1="580.80" x2="198.40" y2="580.80" stroke="#999" stroke-width="1.8"/>
<rect x="132" y="578.5" width="18" height="5" fill="#fff"/><rect x="170" y="578.5" width="18.5" height="5" fill="#fff"/>
<line x1="156.00" y1="578.00" x2="167.00" y2="578.00" stroke="#000" stroke-width="1.8"/>
<rect x="121.10" y="576.90" width="77.30" height="77.80" fill="none" stroke="#000" stroke-width="1.5"/>
<path d="M126.51,654.70v2.3M129.68,654.70v2.3M131.92,654.70v2.3M133.67,654.70v2.3M135.09,654.70v2.3M136.29,654.70v2.3M137.33,654.70v2.3M138.25,654.70v2.3M139.08,654.70v3.4M144.49,654.70v2.3M147.65,654.70v2.3M149.90,654.70v2.3M151.64,654.70v2.3M153.07,654.70v2.3M154.27,654.70v2.3M155.31,654.70v2.3M156.23,654.70v2.3M157.05,654.70v3.4M162.47,654.70v2.3M165.63,654.70v2.3M167.88,654.70v2.3M169.62,654.70v2.3M171.04,654.70v2.3M172.25,654.70v2.3M173.29,654.70v2.3M174.21,654.70v2.3M175.03,654.70v3.4M180.44,654.70v2.3M183.61,654.70v2.3M185.85,654.70v2.3M187.60,654.70v2.3M189.02,654.70v2.3M190.22,654.70v2.3M191.26,654.70v2.3M192.18,654.70v2.3M193.01,654.70v3.4M121.10,649.25h-2.3M121.10,646.07h-2.3M121.10,643.81h-2.3M121.10,642.05h-2.3M121.10,640.62h-2.3M121.10,639.41h-2.3M121.10,638.36h-2.3M121.10,637.43h-2.3M121.10,636.61h-3.4M121.10,631.16h-2.3M121.10,627.97h-2.3M121.10,625.71h-2.3M121.10,623.96h-2.3M121.10,622.53h-2.3M121.10,621.32h-2.3M121.10,620.27h-2.3M121.10,619.34h-2.3M121.10,618.51h-3.4M121.10,613.07h-2.3M121.10,609.88h-2.3M121.10,607.62h-2.3M121.10,605.87h-2.3M121.10,604.43h-2.3M121.10,603.22h-2.3M121.10,602.17h-2.3M121.10,601.25h-2.3M121.10,600.42h-3.4M121.10,594.97h-2.3M121.10,591.79h-2.3M121.10,589.53h-2.3M121.10,587.77h-2.3M121.10,586.34h-2.3M121.10,585.13h-2.3M121.10,584.08h-2.3M121.10,583.16h-2.3M121.10,582.33h-3.4" stroke="#000" stroke-width="0.85" fill="none"/>
<text x="133.80" y="586.27" font-size="8.2" text-anchor="start" fill="#1a1a1a" textLength="14.04" lengthAdjust="spacingAndGlyphs">36.7</text>
<text x="171.60" y="586.27" font-size="8.2" text-anchor="start" fill="#1a1a1a" textLength="14.04" lengthAdjust="spacingAndGlyphs">62.0</text>
<path d="M254.1,601.1h0.7M257.9,635.0h0.7M263.1,632.3h0.7M272.4,606.2h0.7M270.6,619.8h0.7M230.7,619.6h0.7M256.1,640.3h0.7M258.6,624.5h0.7M260.9,626.9h0.7M263.5,611.9h0.7M259.9,608.0h0.7M254.0,632.2h0.7M265.1,606.6h0.7M258.2,636.4h0.7M223.9,617.9h0.7M237.4,641.2h0.7M266.4,605.9h0.7M238.1,635.1h0.7M243.1,624.0h0.7M224.1,620.2h0.7M220.2,627.7h0.7M258.6,621.3h0.7M233.4,605.6h0.7M255.3,610.0h0.7M240.2,592.3h0.7M265.2,609.9h0.7M227.0,633.8h0.7M241.0,578.8h0.7M226.6,588.4h0.7M268.2,618.9h0.7M218.5,599.7h0.7M246.1,607.0h0.7M238.5,611.7h0.7M244.9,610.6h0.7M239.4,640.5h0.7M257.2,608.2h0.7M217.5,625.8h0.7M222.7,627.3h0.7M252.3,604.2h0.7M258.9,631.0h0.7M264.4,632.9h0.7M270.8,615.2h0.7M260.5,632.1h0.7M257.4,623.0h0.7M237.9,591.5h0.7M247.4,607.0h0.7M248.8,620.3h0.7M244.1,622.0h0.7M223.9,624.1h0.7M256.4,633.3h0.7M214.0,620.7h0.7M228.1,616.7h0.7M259.8,593.1h0.7M259.1,597.9h0.7M270.5,612.5h0.7M233.8,619.1h0.7M252.1,596.6h0.7M241.7,592.1h0.7M262.6,609.0h0.7M249.6,622.7h0.7M251.6,618.5h0.7M239.4,587.5h0.7M251.6,612.8h0.7M229.8,637.6h0.7M230.3,606.6h0.7M248.8,640.2h0.7M273.8,620.3h0.7M247.8,618.3h0.7M229.8,619.9h0.7M259.6,630.1h0.7M246.0,606.0h0.7M250.7,623.6h0.7M231.0,623.9h0.7M255.3,603.3h0.7M239.6,606.0h0.7M263.5,619.7h0.7M263.0,632.0h0.7M236.8,612.2h0.7M253.5,615.9h0.7M245.2,599.2h0.7M223.6,623.4h0.7M267.7,609.7h0.7M231.5,634.7h0.7M241.0,625.8h0.7M264.2,630.8h0.7M251.0,595.4h0.7M243.4,600.7h0.7M236.8,618.0h0.7M258.4,617.1h0.7M259.2,624.1h0.7" stroke="#888" stroke-width="0.7" fill="none"/>
<path d="M246.3,637.5L245.1,637.5L242.3,636.3L239.8,637.0L238.1,636.7L234.1,634.8L232.1,632.4L229.1,632.1L226.8,630.7L222.6,627.2L221.8,625.9L223.8,621.9L223.1,618.6L224.0,615.6L223.8,612.4L226.7,606.6L229.5,603.9L230.6,599.4L233.0,594.1L236.3,590.3L237.8,587.4L243.1,584.4L244.3,584.7L246.3,586.6L250.0,588.6L251.2,596.1L250.3,604.6L251.6,608.4L250.9,611.9L250.6,629.6L248.9,635.6ZM258.6,637.0L257.1,637.1L256.1,636.5L253.8,632.1L253.8,629.7L252.8,627.1L253.9,623.9L252.6,621.9L252.3,619.9L252.6,617.9L254.3,614.6L253.2,610.6L256.0,603.6L260.8,601.0L262.3,600.8L264.3,602.1L265.0,605.9L266.4,608.4L266.2,612.4L267.4,616.9L266.3,619.9L267.7,621.9L267.9,623.6L266.6,627.1L266.6,630.1L264.7,634.9L262.8,636.5Z" fill="#fff" stroke="none"/>
<path d="M246.3,637.5L245.1,637.5L242.3,636.3L239.8,637.0L238.1,636.7L234.1,634.8L232.1,632.4L229.1,632.1L226.8,630.7L222.6,627.2L221.8,625.9L223.8,621.9L223.1,618.6L224.0,615.6L223.8,612.4L226.7,606.6L229.5,603.9L230.6,599.4L233.0,594.1L236.3,590.3L237.8,587.4L243.1,584.4L244.3,584.7L246.3,586.6L250.0,588.6L251.2,596.1L250.3,604.6L251.6,608.4L250.9,611.9L250.6,629.6L248.9,635.6ZM258.6,637.0L257.1,637.1L256.1,636.5L253.8,632.1L253.8,629.7L252.8,627.1L253.9,623.9L252.6,621.9L252.3,619.9L252.6,617.9L254.3,614.6L253.2,610.6L256.0,603.6L260.8,601.0L262.3,600.8L264.3,602.1L265.0,605.9L266.4,608.4L266.2,612.4L267.4,616.9L266.3,619.9L267.7,621.9L267.9,623.6L266.6,627.1L266.6,630.1L264.7,634.9L262.8,636.5Z" fill="none" stroke="#2a2a2a" stroke-width="0.45"/>
<path d="M246.3,635.7L244.8,635.6L241.1,633.9L238.3,634.6L235.6,633.6L233.0,631.4L228.3,628.7L224.8,624.9L225.5,621.9L224.7,618.1L225.8,613.1L231.0,605.1L232.4,599.1L234.9,594.4L239.0,588.4L243.1,586.9L248.5,589.4L249.8,596.1L249.4,604.6L250.1,608.6L248.9,626.4L249.2,629.4L247.7,634.4ZM259.6,635.2L257.3,635.1L255.4,631.9L254.4,627.1L255.6,623.6L254.1,621.1L253.9,619.4L256.0,614.4L255.0,611.1L255.2,609.9L258.1,604.8L262.1,602.6L262.9,603.1L263.3,605.9L264.7,608.6L264.2,612.6L265.7,616.4L264.7,620.1L266.3,623.4L265.3,626.6L265.1,629.6L263.2,633.6L262.1,634.8Z" fill="#000" fill-opacity="0.035" stroke="#2a2a2a" stroke-width="0.45"/>
<path d="M245.8,635.2L241.1,633.0L238.1,633.8L236.3,633.4L229.1,628.4L226.1,624.6L226.3,621.4L225.5,618.6L226.7,612.9L231.6,605.7L232.9,599.6L234.7,597.1L235.9,593.9L239.6,588.6L242.8,587.8L247.8,589.7L249.3,596.1L249.1,604.6L249.7,608.6L249.2,621.1L248.3,626.4L248.7,629.4L247.3,634.1ZM259.1,634.7L257.6,634.4L255.8,631.4L255.0,627.1L256.2,623.4L254.5,619.6L256.9,614.4L255.9,609.9L259.1,604.9L261.8,603.6L264.2,608.9L263.6,612.9L265.0,616.4L264.1,620.4L265.6,623.6L264.4,629.6L262.8,633.2L261.6,634.3Z" fill="#000" fill-opacity="0.035" stroke="#2a2a2a" stroke-width="0.45"/>
<path d="M246.1,634.4L244.6,634.1L241.6,632.2L238.1,633.2L236.3,632.9L229.8,627.9L227.2,623.9L227.6,622.6L229.1,621.8L229.1,620.9L227.3,620.3L226.5,618.9L227.3,613.3L231.6,607.6L233.7,603.4L233.7,600.1L235.8,597.6L236.5,593.9L239.8,589.2L241.1,588.6L244.3,589.1L245.2,591.4L248.1,593.5L248.9,595.9L248.8,604.9L249.3,608.4L248.8,620.9L247.8,626.4L248.1,629.9L247.0,633.4ZM259.6,633.9L258.0,633.6L256.3,631.0L255.6,627.4L256.7,623.1L255.1,619.9L257.6,614.4L256.7,609.9L259.8,605.4L260.8,604.8L263.7,608.9L263.1,612.9L264.4,616.6L263.4,620.4L264.7,623.9L263.8,629.6L262.8,632.0L261.6,633.6Z" fill="#000" fill-opacity="0.035" stroke="#2a2a2a" stroke-width="0.45"/>
<path d="M245.8,633.5L244.5,632.9L244.7,630.9L244.3,630.5L237.3,632.7L235.8,632.1L232.9,629.4L230.7,626.1L230.4,620.6L227.7,615.4L228.1,613.5L229.8,611.2L236.3,607.5L237.6,608.3L239.8,611.6L241.1,612.1L241.8,611.7L241.6,608.1L240.0,605.6L239.6,603.4L240.6,597.8L239.8,597.2L237.6,597.8L236.7,595.4L237.4,593.1L240.1,589.8L241.1,589.3L243.1,589.8L244.8,593.5L247.3,594.0L248.4,596.1L248.9,608.4L248.5,620.9L246.9,625.4L247.2,629.1ZM236.8,603.9L235.2,600.4L237.6,598.2L238.7,599.9L239.0,601.4ZM261.1,633.0L258.8,632.7L256.9,630.4L256.4,627.9L257.2,622.6L255.9,619.9L258.2,614.6L257.4,609.9L258.8,607.9L260.6,606.8L263.1,608.9L262.6,613.1L263.7,616.4L262.7,620.1L263.7,624.6L263.2,629.6L262.3,631.8ZM235.4,621.1L235.8,619.1L234.3,618.1L233.9,620.1L234.6,621.2ZM245.6,625.1L245.8,624.1L244.4,623.4L244.3,624.6Z" fill="#000" fill-opacity="0.035" stroke="#2a2a2a" stroke-width="0.45"/>
<path d="M238.3,631.9L236.1,631.7L233.2,628.4L233.8,626.6L236.2,624.9L237.0,619.9L236.6,618.4L234.1,615.7L232.6,615.6L232.9,620.1L233.7,622.6L233.3,623.6L232.6,623.9L228.8,614.6L230.8,611.9L233.6,610.6L234.8,610.7L238.1,613.0L241.8,613.8L242.9,613.6L244.1,612.3L244.0,607.6L241.8,605.8L241.0,604.4L241.4,596.4L240.8,595.9L238.3,596.3L237.4,595.1L238.0,593.1L240.3,590.6L241.3,590.2L242.4,591.1L243.9,595.6L245.1,595.9L246.8,595.1L247.8,596.1L248.5,608.6L248.1,620.9L247.3,623.1L245.6,622.4L245.1,621.1L245.4,617.6L244.6,616.1L243.7,615.9L242.7,619.9L243.1,624.4L244.6,627.4L242.6,629.8ZM261.1,631.9L259.9,631.6L257.5,629.4L257.7,622.4L257.2,619.9L258.8,614.6L258.0,609.9L259.1,608.4L260.6,607.8L262.6,609.1L262.1,613.4L262.9,616.4L261.7,619.9L262.8,625.1L262.5,629.6Z" fill="#000" fill-opacity="0.035" stroke="#2a2a2a" stroke-width="0.45"/>
<path d="M239.6,595.2L238.3,595.2L238.2,593.9L240.8,591.9L241.4,593.4ZM247.1,622.0L246.3,621.8L246.0,620.9L246.7,617.9L244.7,614.1L245.7,607.6L245.4,601.6L244.8,601.0L243.1,601.8L242.2,600.4L242.6,597.8L243.3,597.0L246.8,597.1L247.7,602.6L248.1,611.6L247.1,618.1L247.6,620.9ZM261.3,617.9L259.3,617.3L259.8,614.4L258.5,610.9L258.9,609.4L260.3,608.4L261.7,608.9L262.2,609.9L261.4,613.9L262.1,616.6ZM235.8,614.9L232.0,613.9L231.7,612.6L233.0,611.6L234.3,611.7L236.0,613.6ZM238.1,631.5L237.1,631.6L235.8,630.9L234.4,629.1L234.2,627.9L237.0,625.4L239.2,617.1L240.0,615.6L240.8,615.4L242.1,616.6L241.5,620.1L242.2,624.4L243.4,627.1L242.1,629.1ZM261.1,630.2L259.1,629.1L258.5,628.1L258.1,624.1L259.1,620.9L260.4,621.6L262.0,624.9Z" fill="#000" fill-opacity="0.035" stroke="#2a2a2a" stroke-width="0.45"/>
<path d="M260.6,612.3L259.8,612.2L259.2,610.9L259.4,609.9L260.3,609.3L261.5,610.1ZM246.8,615.0L246.1,614.8L245.7,613.6L246.8,609.5L247.6,611.6ZM260.1,626.9L258.8,625.1L259.6,623.3L260.6,623.9L261.2,625.1L260.9,626.4ZM237.6,630.9L235.8,629.9L235.2,627.9L239.1,624.7L240.1,624.7L241.9,626.1L242.1,627.6Z" fill="#000" fill-opacity="0.035" stroke="#2a2a2a" stroke-width="0.45"/>
<path d="M237.8,630.0L236.6,629.5L236.5,628.1L238.8,627.1L239.9,627.1L239.8,628.4Z" fill="#000" fill-opacity="0.035" stroke="#2a2a2a" stroke-width="0.45"/>
<ellipse cx="260" cy="621.5" rx="4.5" ry="10.8" fill="#000" fill-opacity="0.25" stroke="#000" stroke-width="2.4"/><ellipse cx="260.2" cy="623" rx="1.2" ry="5" fill="#fff" fill-opacity="0.6" filter="url(#bl1)"/>
<ellipse cx="247.50" cy="612.00" rx="1.3" ry="12" transform="rotate(0 247.50 612.00)" fill="#000" fill-opacity="0.55" filter="url(#bl1)"/>
<ellipse cx="240.00" cy="614.00" rx="7" ry="14" transform="rotate(12 240.00 614.00)" fill="#000" fill-opacity="0.12" filter="url(#bl2)"/>
<line x1="251.50" y1="576.90" x2="251.50" y2="654.70" stroke="#222" stroke-width="0.9"/>
<line x1="212.30" y1="579.90" x2="289.60" y2="579.90" stroke="#999" stroke-width="1.8"/>
<rect x="222.5" y="577.5" width="16" height="5" fill="#fff"/><rect x="261.5" y="577.5" width="17" height="5" fill="#fff"/>
<rect x="212.30" y="576.90" width="77.30" height="77.80" fill="none" stroke="#000" stroke-width="1.5"/>
<path d="M217.71,654.70v2.3M220.88,654.70v2.3M223.12,654.70v2.3M224.87,654.70v2.3M226.29,654.70v2.3M227.49,654.70v2.3M228.53,654.70v2.3M229.45,654.70v2.3M230.28,654.70v3.4M235.69,654.70v2.3M238.85,654.70v2.3M241.10,654.70v2.3M242.84,654.70v2.3M244.27,654.70v2.3M245.47,654.70v2.3M246.51,654.70v2.3M247.43,654.70v2.3M248.25,654.70v3.4M253.67,654.70v2.3M256.83,654.70v2.3M259.08,654.70v2.3M260.82,654.70v2.3M262.24,654.70v2.3M263.45,654.70v2.3M264.49,654.70v2.3M265.41,654.70v2.3M266.23,654.70v3.4M271.64,654.70v2.3M274.81,654.70v2.3M277.05,654.70v2.3M278.80,654.70v2.3M280.22,654.70v2.3M281.42,654.70v2.3M282.46,654.70v2.3M283.38,654.70v2.3M284.21,654.70v3.4M212.30,649.25h-2.3M212.30,646.07h-2.3M212.30,643.81h-2.3M212.30,642.05h-2.3M212.30,640.62h-2.3M212.30,639.41h-2.3M212.30,638.36h-2.3M212.30,637.43h-2.3M212.30,636.61h-3.4M212.30,631.16h-2.3M212.30,627.97h-2.3M212.30,625.71h-2.3M212.30,623.96h-2.3M212.30,622.53h-2.3M212.30,621.32h-2.3M212.30,620.27h-2.3M212.30,619.34h-2.3M212.30,618.51h-3.4M212.30,613.07h-2.3M212.30,609.88h-2.3M212.30,607.62h-2.3M212.30,605.87h-2.3M212.30,604.43h-2.3M212.30,603.22h-2.3M212.30,602.17h-2.3M212.30,601.25h-2.3M212.30,600.42h-3.4M212.30,594.97h-2.3M212.30,591.79h-2.3M212.30,589.53h-2.3M212.30,587.77h-2.3M212.30,586.34h-2.3M212.30,585.13h-2.3M212.30,584.08h-2.3M212.30,583.16h-2.3M212.30,582.33h-3.4" stroke="#000" stroke-width="0.85" fill="none"/>
<text x="223.80" y="585.87" font-size="8.2" text-anchor="start" fill="#1a1a1a" textLength="14.04" lengthAdjust="spacingAndGlyphs">59.5</text>
<text x="263.00" y="585.87" font-size="8.2" text-anchor="start" fill="#1a1a1a" textLength="14.04" lengthAdjust="spacingAndGlyphs">39.8</text>
<text transform="translate(115.20,618.50) rotate(-90)" font-size="10.2" text-anchor="middle" fill="#1a1a1a" textLength="16" lengthAdjust="spacingAndGlyphs">SSC</text>
<text x="142.30" y="667.37" font-size="10.2" text-anchor="start" fill="#1a1a1a" textLength="22.4" lengthAdjust="spacingAndGlyphs">TCRβ</text>
<line x1="170.00" y1="663.80" x2="282.50" y2="663.80" stroke="#1a1a1a" stroke-width="1.0"/>
<path d="M288.50,663.80L280.30,660.50L282.30,663.80L280.30,667.10Z" fill="#000"/>
<path d="M185.8,695.0h0.7M167.1,699.5h0.7M186.1,694.8h0.7M172.0,744.3h0.7M172.6,717.8h0.7M181.3,734.5h0.7M194.6,723.9h0.7M162.8,693.2h0.7M184.9,735.2h0.7M178.8,703.6h0.7M158.7,718.9h0.7M136.3,740.4h0.7M169.0,696.8h0.7M161.7,712.1h0.7M171.0,740.6h0.7M188.0,727.7h0.7M177.9,719.0h0.7M185.2,730.0h0.7M188.5,695.3h0.7M150.2,711.1h0.7M180.3,725.0h0.7M176.2,742.5h0.7" stroke="#999" stroke-width="0.7" fill="none"/>
<path d="M178.3,731.6L172.8,730.8L170.6,729.6L166.9,726.2L164.6,720.2L165.2,717.5L165.1,713.8L167.1,708.1L168.4,698.5L170.3,696.9L178.3,695.4L181.6,696.1L186.0,699.0L187.4,703.0L187.7,709.2L187.3,717.8L186.0,724.8L183.3,728.7Z" fill="#fff" stroke="none"/>
<path d="M178.3,731.6L172.8,730.8L170.6,729.6L166.9,726.2L164.6,720.2L165.2,717.5L165.1,713.8L167.1,708.1L168.4,698.5L170.3,696.9L178.3,695.4L181.6,696.1L186.0,699.0L187.4,703.0L187.7,709.2L187.3,717.8L186.0,724.8L183.3,728.7Z" fill="none" stroke="#2a2a2a" stroke-width="0.42"/>
<path d="M177.1,730.0L173.0,728.8L168.4,724.8L167.8,723.0L167.1,714.5L169.8,706.2L170.4,699.5L171.8,698.6L178.8,697.1L180.8,697.6L183.6,699.3L185.5,702.5L186.0,705.0L185.9,716.8L185.1,723.2L183.7,726.0L182.1,727.8Z" fill="none" stroke="#2a2a2a" stroke-width="0.42"/>
<path d="M176.8,729.5L173.7,728.2L172.2,726.0L169.8,725.1L168.8,724.1L167.9,714.5L170.6,706.5L171.1,700.0L172.1,699.2L179.1,697.7L180.8,698.1L183.3,699.9L185.1,703.0L185.6,716.8L184.8,723.0L183.4,725.8L181.8,727.4Z" fill="#000" fill-opacity="0.045" stroke="#2a2a2a" stroke-width="0.42"/>
<path d="M177.6,728.8L176.3,728.9L174.8,728.3L172.9,725.2L170.3,724.4L169.4,723.5L168.8,721.0L168.6,714.5L171.7,705.8L172.0,700.2L179.3,698.3L183.0,700.5L184.7,703.5L185.3,716.5L184.5,722.8L183.6,724.9L181.8,726.9L179.3,727.5Z" fill="#000" fill-opacity="0.045" stroke="#2a2a2a" stroke-width="0.42"/>
<path d="M177.3,728.3L175.1,727.7L173.3,724.2L171.1,723.9L169.8,722.9L169.3,720.8L169.3,714.5L169.8,712.1L173.2,705.5L172.8,700.8L179.6,699.3L182.6,701.1L184.3,704.0L185.1,711.2L185.0,716.8L184.2,722.8L183.3,724.7L181.8,726.3L179.3,726.9Z" fill="#000" fill-opacity="0.045" stroke="#2a2a2a" stroke-width="0.42"/>
<path d="M176.8,727.8L175.1,726.8L173.8,722.7L171.3,723.0L170.3,722.0L170.1,720.2L170.6,717.8L170.1,714.2L170.6,712.3L172.3,710.5L172.8,708.0L175.1,704.5L177.7,703.2L178.4,701.0L179.8,700.5L182.3,702.0L183.8,704.6L184.8,711.2L184.7,717.0L183.9,722.8L183.1,724.4L181.8,725.7L179.3,726.2Z" fill="#000" fill-opacity="0.045" stroke="#2a2a2a" stroke-width="0.42"/>
<path d="M177.1,727.0L175.7,726.5L175.0,722.8L172.7,720.0L172.5,716.2L171.5,713.5L173.8,711.3L174.0,708.5L175.7,705.8L176.6,705.1L179.1,705.0L180.6,702.1L181.8,702.8L183.0,704.2L184.3,709.2L184.5,716.0L183.7,722.2L182.3,724.6L179.6,725.2Z" fill="#000" fill-opacity="0.045" stroke="#2a2a2a" stroke-width="0.42"/>
<path d="M177.1,725.8L176.4,725.5L176.1,723.0L173.8,719.5L173.8,713.5L176.1,707.2L177.1,706.7L179.1,707.5L181.1,705.0L181.8,704.8L183.1,706.5L184.1,710.8L184.1,716.2L183.2,722.2L182.6,723.6L181.6,724.1L178.8,722.9Z" fill="#000" fill-opacity="0.045" stroke="#2a2a2a" stroke-width="0.42"/>
<path d="M181.8,723.0L179.3,720.9L177.3,721.9L176.3,721.7L175.0,720.0L174.6,718.2L174.6,713.8L176.3,709.0L177.1,708.5L179.1,708.9L181.6,706.4L183.1,707.9L183.8,711.5L183.6,717.8L182.6,722.2Z" fill="#000" fill-opacity="0.045" stroke="#2a2a2a" stroke-width="0.42"/>
<path d="M181.6,721.1L179.6,719.5L177.3,720.6L176.2,720.2L175.3,718.6L175.1,715.2L175.5,713.2L176.8,710.4L179.3,710.0L181.8,707.6L183.3,710.0L183.4,715.2L182.8,719.0Z" fill="#000" fill-opacity="0.045" stroke="#2a2a2a" stroke-width="0.42"/>
<path d="M177.6,719.3L176.6,719.2L176.0,718.0L176.1,713.6L177.6,712.0L179.1,713.2L180.8,709.5L182.1,709.0L182.9,711.2L182.3,718.1L181.3,719.1L179.6,717.1Z" fill="#000" fill-opacity="0.045" stroke="#2a2a2a" stroke-width="0.42"/>
<path d="M181.6,711.8L181.6,710.9ZM177.6,717.3L177.1,717.4L176.6,716.5L177.1,714.7L177.9,715.8Z" fill="#000" fill-opacity="0.045" stroke="#2a2a2a" stroke-width="0.42"/>
<ellipse cx="177.00" cy="715.50" rx="1.3" ry="6.5" transform="rotate(5 177.00 715.50)" fill="#000" fill-opacity="0.7" filter="url(#bl1)"/>
<ellipse cx="182.60" cy="715.50" rx="1.8" ry="7.5" transform="rotate(0 182.60 715.50)" fill="#000" fill-opacity="0.85" filter="url(#bl1)"/>
<line x1="160.60" y1="673.50" x2="160.60" y2="750.30" stroke="#222" stroke-width="0.9"/>
<line x1="121.10" y1="675.90" x2="198.40" y2="675.90" stroke="#999" stroke-width="1.8"/>
<rect x="134.5" y="673.5" width="13.5" height="5" fill="#fff"/><rect x="170" y="673.5" width="18.5" height="5" fill="#fff"/>
<rect x="121.10" y="673.50" width="77.30" height="76.80" fill="none" stroke="#000" stroke-width="1.5"/>
<path d="M126.51,750.30v2.3M129.68,750.30v2.3M131.92,750.30v2.3M133.67,750.30v2.3M135.09,750.30v2.3M136.29,750.30v2.3M137.33,750.30v2.3M138.25,750.30v2.3M139.08,750.30v3.4M144.49,750.30v2.3M147.65,750.30v2.3M149.90,750.30v2.3M151.64,750.30v2.3M153.07,750.30v2.3M154.27,750.30v2.3M155.31,750.30v2.3M156.23,750.30v2.3M157.05,750.30v3.4M162.47,750.30v2.3M165.63,750.30v2.3M167.88,750.30v2.3M169.62,750.30v2.3M171.04,750.30v2.3M172.25,750.30v2.3M173.29,750.30v2.3M174.21,750.30v2.3M175.03,750.30v3.4M180.44,750.30v2.3M183.61,750.30v2.3M185.85,750.30v2.3M187.60,750.30v2.3M189.02,750.30v2.3M190.22,750.30v2.3M191.26,750.30v2.3M192.18,750.30v2.3M193.01,750.30v3.4M121.10,744.92h-2.3M121.10,741.78h-2.3M121.10,739.55h-2.3M121.10,737.82h-2.3M121.10,736.40h-2.3M121.10,735.21h-2.3M121.10,734.17h-2.3M121.10,733.26h-2.3M121.10,732.44h-3.4M121.10,727.06h-2.3M121.10,723.92h-2.3M121.10,721.69h-2.3M121.10,719.96h-2.3M121.10,718.54h-2.3M121.10,717.35h-2.3M121.10,716.31h-2.3M121.10,715.40h-2.3M121.10,714.58h-3.4M121.10,709.20h-2.3M121.10,706.06h-2.3M121.10,703.83h-2.3M121.10,702.10h-2.3M121.10,700.68h-2.3M121.10,699.49h-2.3M121.10,698.45h-2.3M121.10,697.54h-2.3M121.10,696.72h-3.4M121.10,691.34h-2.3M121.10,688.20h-2.3M121.10,685.97h-2.3M121.10,684.23h-2.3M121.10,682.82h-2.3M121.10,681.62h-2.3M121.10,680.59h-2.3M121.10,679.68h-2.3M121.10,678.86h-3.4" stroke="#000" stroke-width="0.85" fill="none"/>
<text x="136.50" y="681.67" font-size="8.2" text-anchor="start" fill="#1a1a1a" textLength="10.03" lengthAdjust="spacingAndGlyphs">1.6</text>
<text x="171.90" y="681.67" font-size="8.2" text-anchor="start" fill="#1a1a1a" textLength="14.04" lengthAdjust="spacingAndGlyphs">98.4</text>
<path d="M245.6,728.6h0.7M259.8,705.8h0.7M271.3,724.5h0.7M250.6,709.6h0.7M227.0,708.9h0.7M266.6,724.9h0.7M235.9,682.1h0.7M219.9,715.5h0.7M239.6,716.0h0.7M248.8,691.4h0.7M217.7,731.0h0.7M265.0,736.1h0.7M259.5,724.9h0.7M254.3,721.7h0.7M262.9,721.2h0.7M249.9,714.5h0.7M257.4,730.7h0.7M236.8,723.8h0.7M247.4,705.9h0.7M260.3,713.7h0.7M225.4,748.2h0.7M234.1,744.6h0.7M232.0,710.6h0.7M233.9,721.3h0.7M237.4,727.8h0.7M256.8,678.5h0.7M247.3,718.5h0.7M232.6,708.6h0.7M271.9,728.7h0.7M254.4,734.2h0.7M270.5,713.0h0.7M260.9,741.5h0.7M264.5,719.0h0.7M256.8,703.3h0.7M229.0,693.3h0.7M265.7,721.2h0.7M232.2,738.9h0.7M261.8,710.9h0.7M248.6,724.7h0.7M246.5,708.6h0.7" stroke="#999" stroke-width="0.7" fill="none"/>
<path d="M259.6,735.3L254.8,734.4L253.2,733.5L249.5,728.2L246.6,725.2L245.7,722.5L248.0,717.0L250.9,713.5L253.0,708.2L253.4,704.8L254.9,702.0L260.3,696.7L263.1,694.6L264.6,694.3L268.3,696.1L269.5,698.2L269.8,701.8L269.1,706.8L270.1,713.2L269.5,716.5L269.8,725.8L266.6,732.8Z" fill="#fff" stroke="none"/>
<path d="M259.6,735.3L254.8,734.4L253.2,733.5L249.5,728.2L246.6,725.2L245.7,722.5L248.0,717.0L250.9,713.5L253.0,708.2L253.4,704.8L254.9,702.0L260.3,696.7L263.1,694.6L264.6,694.3L268.3,696.1L269.5,698.2L269.8,701.8L269.1,706.8L270.1,713.2L269.5,716.5L269.8,725.8L266.6,732.8Z" fill="none" stroke="#2a2a2a" stroke-width="0.42"/>
<path d="M260.3,733.0L257.8,733.1L254.9,732.2L251.9,726.8L248.8,724.8L248.0,722.8L249.5,720.2L250.3,717.2L252.6,714.5L256.3,703.5L263.6,697.3L264.8,696.8L266.8,697.6L267.4,698.8L267.0,706.0L268.5,712.8L268.3,725.5L265.6,731.5Z" fill="none" stroke="#2a2a2a" stroke-width="0.42"/>
<path d="M259.8,732.5L257.1,732.5L255.3,731.8L252.6,726.4L249.6,724.4L249.0,722.8L250.9,717.5L253.2,714.8L256.7,704.0L263.8,698.4L265.3,698.0L266.5,699.0L266.0,702.0L266.3,705.8L267.9,711.0L267.9,725.8L265.3,731.1Z" fill="#000" fill-opacity="0.045" stroke="#2a2a2a" stroke-width="0.42"/>
<path d="M259.6,732.0L257.1,732.0L255.6,731.2L253.2,726.2L250.3,723.9L250.0,722.5L251.4,717.8L253.8,714.8L257.1,704.5L264.6,699.6L265.1,700.0L265.0,702.5L265.8,706.2L267.5,710.8L267.6,725.5L265.1,730.7Z" fill="#000" fill-opacity="0.045" stroke="#2a2a2a" stroke-width="0.42"/>
<path d="M259.6,731.5L257.6,731.6L256.1,730.9L253.7,725.8L251.1,723.2L250.9,722.0L251.9,718.2L254.3,715.1L257.5,705.0L258.6,704.1L263.3,702.2L264.3,703.4L267.0,710.5L267.6,720.0L267.3,725.2L266.5,727.8L264.8,730.3Z" fill="#000" fill-opacity="0.045" stroke="#2a2a2a" stroke-width="0.42"/>
<path d="M259.3,731.1L257.3,731.0L256.1,730.1L253.8,723.1L252.1,722.1L251.9,720.8L252.5,718.5L254.7,715.5L258.1,705.5L259.1,704.7L262.8,703.8L263.8,704.5L266.6,710.5L267.3,720.0L267.0,725.2L266.1,727.8L264.6,729.8Z" fill="#000" fill-opacity="0.045" stroke="#2a2a2a" stroke-width="0.42"/>
<path d="M259.3,730.5L257.6,730.5L256.3,729.5L255.0,722.5L253.1,719.8L255.3,715.5L257.4,708.2L259.3,706.3L260.8,707.9L263.3,707.2L265.8,709.6L267.0,720.5L266.6,725.8L265.3,728.3L263.8,729.5Z" fill="#000" fill-opacity="0.045" stroke="#2a2a2a" stroke-width="0.42"/>
<path d="M258.3,730.0L257.1,729.5L256.3,728.2L255.8,722.4L254.8,718.5L258.1,709.4L258.7,709.2L259.5,711.0L260.3,711.3L262.8,709.3L264.1,709.1L265.6,710.5L266.4,715.8L266.7,721.0L266.2,725.8L265.3,727.5L264.1,728.6L261.3,728.8Z" fill="#000" fill-opacity="0.045" stroke="#2a2a2a" stroke-width="0.42"/>
<path d="M258.6,729.1L257.6,728.9L256.8,727.5L255.7,719.2L255.9,717.0L258.1,713.5L259.6,714.2L261.1,716.5L261.3,714.0L263.3,710.8L264.3,710.5L265.1,711.5L266.2,716.8L266.4,721.5L265.8,725.5L264.8,727.2L263.6,727.7L261.6,725.4L260.6,725.1L259.5,728.2Z" fill="#000" fill-opacity="0.045" stroke="#2a2a2a" stroke-width="0.42"/>
<path d="M264.1,726.5L262.2,724.5L261.7,719.2L262.9,715.0L264.1,713.7L265.6,715.8L266.1,720.8L265.4,725.0ZM258.1,726.8L257.4,725.5L256.4,718.5L256.9,716.5L258.1,715.6L259.5,716.8L260.2,719.5L259.1,725.0Z" fill="#000" fill-opacity="0.045" stroke="#2a2a2a" stroke-width="0.42"/>
<path d="M264.1,725.3L263.0,724.0L262.7,719.2L263.3,716.5L264.3,715.4L265.3,716.8L265.6,721.2L265.1,724.2ZM258.3,720.8L257.3,718.5L258.1,717.1L258.9,718.5Z" fill="#000" fill-opacity="0.045" stroke="#2a2a2a" stroke-width="0.42"/>
<path d="M264.3,722.2L263.7,719.2L264.3,717.6L264.7,719.8Z" fill="#000" fill-opacity="0.045" stroke="#2a2a2a" stroke-width="0.42"/>
<path d="M232.3,710.2L243.6,720.4" stroke="#555" stroke-width="3.3" stroke-linecap="round"/><path d="M232.3,710.2L243.6,720.4" stroke="#fff" stroke-width="2.5" stroke-linecap="round"/>
<ellipse cx="258.00" cy="721.00" rx="1.3" ry="6.5" transform="rotate(0 258.00 721.00)" fill="#000" fill-opacity="0.7" filter="url(#bl1)"/>
<ellipse cx="265.20" cy="721.00" rx="1.8" ry="7" transform="rotate(0 265.20 721.00)" fill="#000" fill-opacity="0.85" filter="url(#bl1)"/>
<line x1="251.50" y1="673.50" x2="251.50" y2="750.30" stroke="#222" stroke-width="0.9"/>
<line x1="212.30" y1="675.90" x2="289.60" y2="675.90" stroke="#999" stroke-width="1.8"/>
<rect x="225" y="673.5" width="13.5" height="5" fill="#fff"/><rect x="261.5" y="673.5" width="17" height="5" fill="#fff"/>
<rect x="212.30" y="673.50" width="77.30" height="76.80" fill="none" stroke="#000" stroke-width="1.5"/>
<path d="M217.71,750.30v2.3M220.88,750.30v2.3M223.12,750.30v2.3M224.87,750.30v2.3M226.29,750.30v2.3M227.49,750.30v2.3M228.53,750.30v2.3M229.45,750.30v2.3M230.28,750.30v3.4M235.69,750.30v2.3M238.85,750.30v2.3M241.10,750.30v2.3M242.84,750.30v2.3M244.27,750.30v2.3M245.47,750.30v2.3M246.51,750.30v2.3M247.43,750.30v2.3M248.25,750.30v3.4M253.67,750.30v2.3M256.83,750.30v2.3M259.08,750.30v2.3M260.82,750.30v2.3M262.24,750.30v2.3M263.45,750.30v2.3M264.49,750.30v2.3M265.41,750.30v2.3M266.23,750.30v3.4M271.64,750.30v2.3M274.81,750.30v2.3M277.05,750.30v2.3M278.80,750.30v2.3M280.22,750.30v2.3M281.42,750.30v2.3M282.46,750.30v2.3M283.38,750.30v2.3M284.21,750.30v3.4M212.30,744.92h-2.3M212.30,741.78h-2.3M212.30,739.55h-2.3M212.30,737.82h-2.3M212.30,736.40h-2.3M212.30,735.21h-2.3M212.30,734.17h-2.3M212.30,733.26h-2.3M212.30,732.44h-3.4M212.30,727.06h-2.3M212.30,723.92h-2.3M212.30,721.69h-2.3M212.30,719.96h-2.3M212.30,718.54h-2.3M212.30,717.35h-2.3M212.30,716.31h-2.3M212.30,715.40h-2.3M212.30,714.58h-3.4M212.30,709.20h-2.3M212.30,706.06h-2.3M212.30,703.83h-2.3M212.30,702.10h-2.3M212.30,700.68h-2.3M212.30,699.49h-2.3M212.30,698.45h-2.3M212.30,697.54h-2.3M212.30,696.72h-3.4M212.30,691.34h-2.3M212.30,688.20h-2.3M212.30,685.97h-2.3M212.30,684.23h-2.3M212.30,682.82h-2.3M212.30,681.62h-2.3M212.30,680.59h-2.3M212.30,679.68h-2.3M212.30,678.86h-3.4" stroke="#000" stroke-width="0.85" fill="none"/>
<text x="226.80" y="681.67" font-size="8.2" text-anchor="start" fill="#1a1a1a" textLength="10.03" lengthAdjust="spacingAndGlyphs">5.0</text>
<text x="263.00" y="681.67" font-size="8.2" text-anchor="start" fill="#1a1a1a" textLength="14.04" lengthAdjust="spacingAndGlyphs">94.7</text>
<text transform="translate(112.40,711.50) rotate(-90)" font-size="10.2" text-anchor="middle" fill="#1a1a1a" textLength="16" lengthAdjust="spacingAndGlyphs">SSC</text>
<text x="148.20" y="763.97" font-size="10.2" text-anchor="start" fill="#1a1a1a" textLength="22.3" lengthAdjust="spacingAndGlyphs">TCRβ</text>
<line x1="175.40" y1="760.40" x2="282.50" y2="760.40" stroke="#1a1a1a" stroke-width="1.0"/>
<path d="M288.50,760.40L280.30,757.10L282.30,760.40L280.30,763.70Z" fill="#000"/>
<path d="M121,483.8H100.1V691.3H110" fill="none" stroke="#000" stroke-width="1.3" stroke-dasharray="3.3,2.1"/>
<path d="M116.20,691.30L108.70,688.20L110.60,691.30L108.70,694.40Z" fill="#000"/>
</svg></body></html>
